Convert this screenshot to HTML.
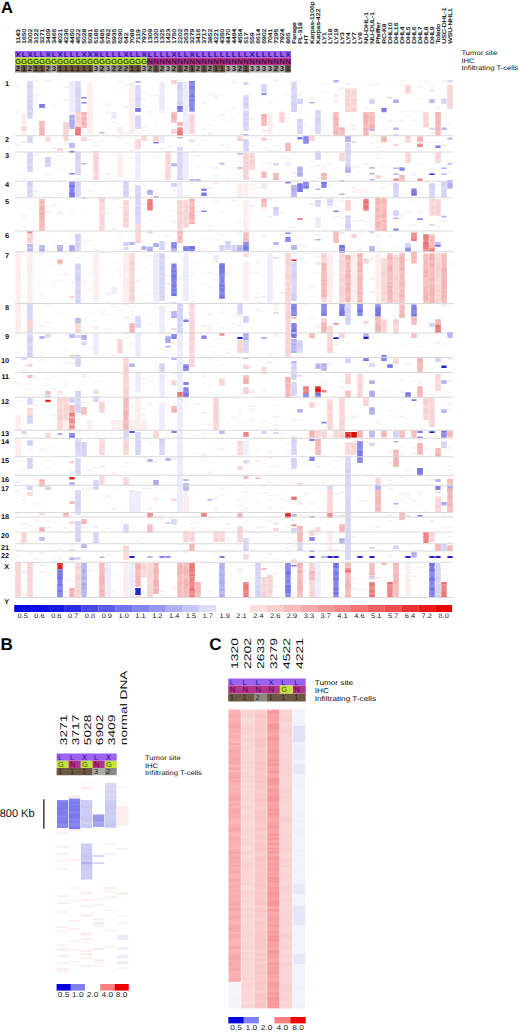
<!DOCTYPE html>
<html><head><meta charset="utf-8"><title>Figure</title>
<style>html,body{margin:0;padding:0;background:#fff;}body{width:520px;height:1032px;position:relative;overflow:hidden;font-family:"Liberation Sans",sans-serif;}</style>
</head><body>
<svg width="520" height="1032" viewBox="0 0 520 1032" style="position:absolute;left:0;top:0" font-family="'Liberation Sans', sans-serif" text-rendering="geometricPrecision">
<defs><filter id="bl" x="-2%" y="-2%" width="104%" height="104%"><feGaussianBlur stdDeviation="0.6"/></filter></defs>
<rect x="0" y="0" width="520" height="1032" fill="#fff"/>
<text x="1.0" y="12.9" font-size="16.5" font-weight="bold">A</text>
<text x="0.6" y="649.6" font-size="17" font-weight="bold">B</text>
<text x="209.2" y="649.5" font-size="17" font-weight="bold">C</text>
<g font-size="5.5" fill="#111" stroke="#111" stroke-width="0.18">
<text transform="translate(19.5,43.8) rotate(-90) scale(1.24,1)">1143</text>
<text transform="translate(25.5,43.8) rotate(-90) scale(1.24,1)">1650</text>
<text transform="translate(31.5,43.8) rotate(-90) scale(1.24,1)">3002</text>
<text transform="translate(37.5,43.8) rotate(-90) scale(1.24,1)">3122</text>
<text transform="translate(43.5,43.8) rotate(-90) scale(1.24,1)">3271</text>
<text transform="translate(49.5,43.8) rotate(-90) scale(1.24,1)">3409</text>
<text transform="translate(55.5,43.8) rotate(-90) scale(1.24,1)">3466</text>
<text transform="translate(61.5,43.8) rotate(-90) scale(1.24,1)">4021</text>
<text transform="translate(67.5,43.8) rotate(-90) scale(1.24,1)">4236</text>
<text transform="translate(73.5,43.8) rotate(-90) scale(1.24,1)">4450</text>
<text transform="translate(79.5,43.8) rotate(-90) scale(1.24,1)">4522</text>
<text transform="translate(85.5,43.8) rotate(-90) scale(1.24,1)">5028</text>
<text transform="translate(91.5,43.8) rotate(-90) scale(1.24,1)">5081</text>
<text transform="translate(97.5,43.8) rotate(-90) scale(1.24,1)">5186</text>
<text transform="translate(103.5,43.8) rotate(-90) scale(1.24,1)">5485</text>
<text transform="translate(109.5,43.8) rotate(-90) scale(1.24,1)">5782</text>
<text transform="translate(115.5,43.8) rotate(-90) scale(1.24,1)">5935</text>
<text transform="translate(121.5,43.8) rotate(-90) scale(1.24,1)">6290</text>
<text transform="translate(127.5,43.8) rotate(-90) scale(1.24,1)">642</text>
<text transform="translate(133.5,43.8) rotate(-90) scale(1.24,1)">7089</text>
<text transform="translate(139.5,43.8) rotate(-90) scale(1.24,1)">7119</text>
<text transform="translate(145.5,43.8) rotate(-90) scale(1.24,1)">7970</text>
<text transform="translate(151.5,43.8) rotate(-90) scale(1.24,1)">1309</text>
<text transform="translate(157.5,43.8) rotate(-90) scale(1.24,1)">1320</text>
<text transform="translate(163.5,43.8) rotate(-90) scale(1.24,1)">1325</text>
<text transform="translate(169.5,43.8) rotate(-90) scale(1.24,1)">1423</text>
<text transform="translate(175.5,43.8) rotate(-90) scale(1.24,1)">1750</text>
<text transform="translate(181.5,43.8) rotate(-90) scale(1.24,1)">2202</text>
<text transform="translate(187.5,43.8) rotate(-90) scale(1.24,1)">2633</text>
<text transform="translate(193.5,43.8) rotate(-90) scale(1.24,1)">3279</text>
<text transform="translate(199.5,43.8) rotate(-90) scale(1.24,1)">3416</text>
<text transform="translate(205.5,43.8) rotate(-90) scale(1.24,1)">3717</text>
<text transform="translate(211.5,43.8) rotate(-90) scale(1.24,1)">3852</text>
<text transform="translate(217.5,43.8) rotate(-90) scale(1.24,1)">4221</text>
<text transform="translate(223.5,43.8) rotate(-90) scale(1.24,1)">4350</text>
<text transform="translate(229.5,43.8) rotate(-90) scale(1.24,1)">4470</text>
<text transform="translate(235.5,43.8) rotate(-90) scale(1.24,1)">4494</text>
<text transform="translate(241.5,43.8) rotate(-90) scale(1.24,1)">4554</text>
<text transform="translate(247.5,43.8) rotate(-90) scale(1.24,1)">517</text>
<text transform="translate(253.5,43.8) rotate(-90) scale(1.24,1)">559</text>
<text transform="translate(259.5,43.8) rotate(-90) scale(1.24,1)">6614</text>
<text transform="translate(265.5,43.8) rotate(-90) scale(1.24,1)">6902</text>
<text transform="translate(271.5,43.8) rotate(-90) scale(1.24,1)">7041</text>
<text transform="translate(277.5,43.8) rotate(-90) scale(1.24,1)">7295</text>
<text transform="translate(283.5,43.8) rotate(-90) scale(1.24,1)">7924</text>
<text transform="translate(289.5,43.8) rotate(-90) scale(1.24,1)">865</text>
<text transform="translate(295.5,43.8) rotate(-90) scale(1.24,1)">Farage</text>
<text transform="translate(301.5,43.8) rotate(-90) scale(1.24,1)">FL-318</text>
<text transform="translate(307.5,43.8) rotate(-90) scale(1.24,1)">HT</text>
<text transform="translate(313.5,43.8) rotate(-90) scale(1.24,1)">Karpas-1106p</text>
<text transform="translate(319.5,43.8) rotate(-90) scale(1.24,1)">Karpas-422</text>
<text transform="translate(325.5,43.8) rotate(-90) scale(1.24,1)">LY1</text>
<text transform="translate(331.5,43.8) rotate(-90) scale(1.24,1)">LY18</text>
<text transform="translate(337.5,43.8) rotate(-90) scale(1.24,1)">LY19</text>
<text transform="translate(343.5,43.8) rotate(-90) scale(1.24,1)">LY3</text>
<text transform="translate(349.5,43.8) rotate(-90) scale(1.24,1)">LY4</text>
<text transform="translate(355.5,43.8) rotate(-90) scale(1.24,1)">LY7</text>
<text transform="translate(361.5,43.8) rotate(-90) scale(1.24,1)">LY8</text>
<text transform="translate(367.5,43.8) rotate(-90) scale(1.24,1)">NU-DHL-1</text>
<text transform="translate(373.5,43.8) rotate(-90) scale(1.24,1)">NU-DUL-1</text>
<text transform="translate(379.5,43.8) rotate(-90) scale(1.24,1)">Pfeiffer</text>
<text transform="translate(385.5,43.8) rotate(-90) scale(1.24,1)">RC-K8</text>
<text transform="translate(391.5,43.8) rotate(-90) scale(1.24,1)">DHL10</text>
<text transform="translate(397.5,43.8) rotate(-90) scale(1.24,1)">DHL16</text>
<text transform="translate(403.5,43.8) rotate(-90) scale(1.24,1)">DHL4</text>
<text transform="translate(409.5,43.8) rotate(-90) scale(1.24,1)">DHL5</text>
<text transform="translate(415.5,43.8) rotate(-90) scale(1.24,1)">DHL6</text>
<text transform="translate(421.5,43.8) rotate(-90) scale(1.24,1)">DHL7</text>
<text transform="translate(427.5,43.8) rotate(-90) scale(1.24,1)">DHL8</text>
<text transform="translate(433.5,43.8) rotate(-90) scale(1.24,1)">DHL9</text>
<text transform="translate(439.5,43.8) rotate(-90) scale(1.24,1)">Toledo</text>
<text transform="translate(445.5,43.8) rotate(-90) scale(1.24,1)">USC-DHL-1</text>
<text transform="translate(451.5,43.8) rotate(-90) scale(1.24,1)">WSU-NHL1</text>
</g>
<path fill="#9d62f2" d="M15 51h6v6.6h-6zM21 51h6v6.6h-6zM27 51h6v6.6h-6zM33 51h6v6.6h-6zM39 51h6v6.6h-6zM45 51h6v6.6h-6zM51 51h6v6.6h-6zM57 51h6v6.6h-6zM63 51h6v6.6h-6zM69 51h6v6.6h-6zM75 51h6v6.6h-6zM81 51h6v6.6h-6zM87 51h6v6.6h-6zM93 51h6v6.6h-6zM99 51h6v6.6h-6zM105 51h6v6.6h-6zM111 51h6v6.6h-6zM117 51h6v6.6h-6zM123 51h6v6.6h-6zM129 51h6v6.6h-6zM135 51h6v6.6h-6zM141 51h6v6.6h-6zM147 51h6v6.6h-6zM153 51h6v6.6h-6zM159 51h6v6.6h-6zM165 51h6v6.6h-6zM171 51h6v6.6h-6zM177 51h6v6.6h-6zM183 51h6v6.6h-6zM189 51h6v6.6h-6zM195 51h6v6.6h-6zM201 51h6v6.6h-6zM207 51h6v6.6h-6zM213 51h6v6.6h-6zM219 51h6v6.6h-6zM225 51h6v6.6h-6zM231 51h6v6.6h-6zM237 51h6v6.6h-6zM243 51h6v6.6h-6zM249 51h6v6.6h-6zM255 51h6v6.6h-6zM261 51h6v6.6h-6zM267 51h6v6.6h-6zM273 51h6v6.6h-6zM279 51h6v6.6h-6zM285 51h6v6.6h-6z"/>
<path fill="#c6e33a" d="M15 57.6h6v7.4h-6zM21 57.6h6v7.4h-6zM27 57.6h6v7.4h-6zM33 57.6h6v7.4h-6zM39 57.6h6v7.4h-6zM45 57.6h6v7.4h-6zM51 57.6h6v7.4h-6zM57 57.6h6v7.4h-6zM63 57.6h6v7.4h-6zM69 57.6h6v7.4h-6zM75 57.6h6v7.4h-6zM81 57.6h6v7.4h-6zM87 57.6h6v7.4h-6zM93 57.6h6v7.4h-6zM99 57.6h6v7.4h-6zM105 57.6h6v7.4h-6zM111 57.6h6v7.4h-6zM117 57.6h6v7.4h-6zM123 57.6h6v7.4h-6zM129 57.6h6v7.4h-6zM135 57.6h6v7.4h-6zM141 57.6h6v7.4h-6z"/>
<path fill="#8c8882" d="M15 65h6v7.5h-6zM27 65h6v7.5h-6zM45 65h6v7.5h-6zM99 65h6v7.5h-6zM111 65h6v7.5h-6zM117 65h6v7.5h-6zM123 65h6v7.5h-6zM147 65h6v7.5h-6zM159 65h6v7.5h-6zM171 65h6v7.5h-6zM183 65h6v7.5h-6zM195 65h6v7.5h-6zM207 65h6v7.5h-6zM237 65h6v7.5h-6zM273 65h6v7.5h-6z"/>
<path fill="#6c5644" d="M21 65h6v7.5h-6zM33 65h6v7.5h-6zM39 65h6v7.5h-6zM57 65h6v7.5h-6zM63 65h6v7.5h-6zM69 65h6v7.5h-6zM75 65h6v7.5h-6zM81 65h6v7.5h-6zM87 65h6v7.5h-6zM129 65h6v7.5h-6zM135 65h6v7.5h-6zM153 65h6v7.5h-6zM177 65h6v7.5h-6zM189 65h6v7.5h-6zM201 65h6v7.5h-6zM213 65h6v7.5h-6zM219 65h6v7.5h-6zM243 65h6v7.5h-6zM285 65h6v7.5h-6z"/>
<path fill="#a9a9a9" d="M51 65h6v7.5h-6zM93 65h6v7.5h-6zM105 65h6v7.5h-6zM141 65h6v7.5h-6zM165 65h6v7.5h-6zM225 65h6v7.5h-6zM231 65h6v7.5h-6zM249 65h6v7.5h-6zM255 65h6v7.5h-6zM261 65h6v7.5h-6zM267 65h6v7.5h-6zM279 65h6v7.5h-6z"/>
<path fill="#b4338f" d="M147 57.6h6v7.4h-6zM153 57.6h6v7.4h-6zM159 57.6h6v7.4h-6zM165 57.6h6v7.4h-6zM171 57.6h6v7.4h-6zM177 57.6h6v7.4h-6zM183 57.6h6v7.4h-6zM189 57.6h6v7.4h-6zM195 57.6h6v7.4h-6zM201 57.6h6v7.4h-6zM207 57.6h6v7.4h-6zM213 57.6h6v7.4h-6zM219 57.6h6v7.4h-6zM225 57.6h6v7.4h-6zM231 57.6h6v7.4h-6zM237 57.6h6v7.4h-6zM243 57.6h6v7.4h-6zM249 57.6h6v7.4h-6zM255 57.6h6v7.4h-6zM261 57.6h6v7.4h-6zM267 57.6h6v7.4h-6zM273 57.6h6v7.4h-6zM279 57.6h6v7.4h-6zM285 57.6h6v7.4h-6z"/>
<g font-size="7.4" text-anchor="middle" font-weight="bold">
<text transform="translate(18.0,56.5) scale(1.05,1)" fill="#2a1590">X</text>
<text transform="translate(18.0,63.8) scale(1.05,1)" fill="#2f5a0c">G</text>
<text transform="translate(18.0,71.3) scale(1.05,1)" fill="#2a2018">2</text>
<text transform="translate(24.0,56.5) scale(1.05,1)" fill="#2a1590">L</text>
<text transform="translate(24.0,63.8) scale(1.05,1)" fill="#2f5a0c">G</text>
<text transform="translate(24.0,71.3) scale(1.05,1)" fill="#2a2018">1</text>
<text transform="translate(30.0,56.5) scale(1.05,1)" fill="#2a1590">X</text>
<text transform="translate(30.0,63.8) scale(1.05,1)" fill="#2f5a0c">G</text>
<text transform="translate(30.0,71.3) scale(1.05,1)" fill="#2a2018">2</text>
<text transform="translate(36.0,56.5) scale(1.05,1)" fill="#2a1590">L</text>
<text transform="translate(36.0,63.8) scale(1.05,1)" fill="#2f5a0c">G</text>
<text transform="translate(36.0,71.3) scale(1.05,1)" fill="#2a2018">1</text>
<text transform="translate(42.0,56.5) scale(1.05,1)" fill="#2a1590">L</text>
<text transform="translate(42.0,63.8) scale(1.05,1)" fill="#2f5a0c">G</text>
<text transform="translate(42.0,71.3) scale(1.05,1)" fill="#2a2018">1</text>
<text transform="translate(48.0,56.5) scale(1.05,1)" fill="#2a1590">X</text>
<text transform="translate(48.0,63.8) scale(1.05,1)" fill="#2f5a0c">G</text>
<text transform="translate(48.0,71.3) scale(1.05,1)" fill="#2a2018">2</text>
<text transform="translate(54.0,56.5) scale(1.05,1)" fill="#2a1590">L</text>
<text transform="translate(54.0,63.8) scale(1.05,1)" fill="#2f5a0c">G</text>
<text transform="translate(54.0,71.3) scale(1.05,1)" fill="#2a2018">3</text>
<text transform="translate(60.0,56.5) scale(1.05,1)" fill="#2a1590">X</text>
<text transform="translate(60.0,63.8) scale(1.05,1)" fill="#2f5a0c">G</text>
<text transform="translate(60.0,71.3) scale(1.05,1)" fill="#2a2018">1</text>
<text transform="translate(66.0,56.5) scale(1.05,1)" fill="#2a1590">L</text>
<text transform="translate(66.0,63.8) scale(1.05,1)" fill="#2f5a0c">G</text>
<text transform="translate(66.0,71.3) scale(1.05,1)" fill="#2a2018">1</text>
<text transform="translate(72.0,56.5) scale(1.05,1)" fill="#2a1590">L</text>
<text transform="translate(72.0,63.8) scale(1.05,1)" fill="#2f5a0c">G</text>
<text transform="translate(72.0,71.3) scale(1.05,1)" fill="#2a2018">1</text>
<text transform="translate(78.0,56.5) scale(1.05,1)" fill="#2a1590">L</text>
<text transform="translate(78.0,63.8) scale(1.05,1)" fill="#2f5a0c">G</text>
<text transform="translate(78.0,71.3) scale(1.05,1)" fill="#2a2018">1</text>
<text transform="translate(84.0,56.5) scale(1.05,1)" fill="#2a1590">X</text>
<text transform="translate(84.0,63.8) scale(1.05,1)" fill="#2f5a0c">G</text>
<text transform="translate(84.0,71.3) scale(1.05,1)" fill="#2a2018">1</text>
<text transform="translate(90.0,56.5) scale(1.05,1)" fill="#2a1590">X</text>
<text transform="translate(90.0,63.8) scale(1.05,1)" fill="#2f5a0c">G</text>
<text transform="translate(90.0,71.3) scale(1.05,1)" fill="#2a2018">1</text>
<text transform="translate(96.0,56.5) scale(1.05,1)" fill="#2a1590">X</text>
<text transform="translate(96.0,63.8) scale(1.05,1)" fill="#2f5a0c">G</text>
<text transform="translate(96.0,71.3) scale(1.05,1)" fill="#2a2018">3</text>
<text transform="translate(102.0,56.5) scale(1.05,1)" fill="#2a1590">L</text>
<text transform="translate(102.0,63.8) scale(1.05,1)" fill="#2f5a0c">G</text>
<text transform="translate(102.0,71.3) scale(1.05,1)" fill="#2a2018">2</text>
<text transform="translate(108.0,56.5) scale(1.05,1)" fill="#2a1590">L</text>
<text transform="translate(108.0,63.8) scale(1.05,1)" fill="#2f5a0c">G</text>
<text transform="translate(108.0,71.3) scale(1.05,1)" fill="#2a2018">3</text>
<text transform="translate(114.0,56.5) scale(1.05,1)" fill="#2a1590">L</text>
<text transform="translate(114.0,63.8) scale(1.05,1)" fill="#2f5a0c">G</text>
<text transform="translate(114.0,71.3) scale(1.05,1)" fill="#2a2018">2</text>
<text transform="translate(120.0,56.5) scale(1.05,1)" fill="#2a1590">L</text>
<text transform="translate(120.0,63.8) scale(1.05,1)" fill="#2f5a0c">G</text>
<text transform="translate(120.0,71.3) scale(1.05,1)" fill="#2a2018">2</text>
<text transform="translate(126.0,56.5) scale(1.05,1)" fill="#2a1590">X</text>
<text transform="translate(126.0,63.8) scale(1.05,1)" fill="#2f5a0c">G</text>
<text transform="translate(126.0,71.3) scale(1.05,1)" fill="#2a2018">2</text>
<text transform="translate(132.0,56.5) scale(1.05,1)" fill="#2a1590">L</text>
<text transform="translate(132.0,63.8) scale(1.05,1)" fill="#2f5a0c">G</text>
<text transform="translate(132.0,71.3) scale(1.05,1)" fill="#2a2018">1</text>
<text transform="translate(138.0,56.5) scale(1.05,1)" fill="#2a1590">L</text>
<text transform="translate(138.0,63.8) scale(1.05,1)" fill="#2f5a0c">G</text>
<text transform="translate(138.0,71.3) scale(1.05,1)" fill="#2a2018">1</text>
<text transform="translate(144.0,56.5) scale(1.05,1)" fill="#2a1590">X</text>
<text transform="translate(144.0,63.8) scale(1.05,1)" fill="#2f5a0c">G</text>
<text transform="translate(144.0,71.3) scale(1.05,1)" fill="#2a2018">3</text>
<text transform="translate(150.0,56.5) scale(1.05,1)" fill="#2a1590">L</text>
<text transform="translate(150.0,63.8) scale(1.05,1)" fill="#4a0838">N</text>
<text transform="translate(150.0,71.3) scale(1.05,1)" fill="#2a2018">2</text>
<text transform="translate(156.0,56.5) scale(1.05,1)" fill="#2a1590">L</text>
<text transform="translate(156.0,63.8) scale(1.05,1)" fill="#4a0838">N</text>
<text transform="translate(156.0,71.3) scale(1.05,1)" fill="#2a2018">1</text>
<text transform="translate(162.0,56.5) scale(1.05,1)" fill="#2a1590">L</text>
<text transform="translate(162.0,63.8) scale(1.05,1)" fill="#4a0838">N</text>
<text transform="translate(162.0,71.3) scale(1.05,1)" fill="#2a2018">2</text>
<text transform="translate(168.0,56.5) scale(1.05,1)" fill="#2a1590">L</text>
<text transform="translate(168.0,63.8) scale(1.05,1)" fill="#4a0838">N</text>
<text transform="translate(168.0,71.3) scale(1.05,1)" fill="#2a2018">3</text>
<text transform="translate(174.0,56.5) scale(1.05,1)" fill="#2a1590">X</text>
<text transform="translate(174.0,63.8) scale(1.05,1)" fill="#4a0838">N</text>
<text transform="translate(174.0,71.3) scale(1.05,1)" fill="#2a2018">2</text>
<text transform="translate(180.0,56.5) scale(1.05,1)" fill="#2a1590">L</text>
<text transform="translate(180.0,63.8) scale(1.05,1)" fill="#4a0838">N</text>
<text transform="translate(180.0,71.3) scale(1.05,1)" fill="#2a2018">1</text>
<text transform="translate(186.0,56.5) scale(1.05,1)" fill="#2a1590">L</text>
<text transform="translate(186.0,63.8) scale(1.05,1)" fill="#4a0838">N</text>
<text transform="translate(186.0,71.3) scale(1.05,1)" fill="#2a2018">2</text>
<text transform="translate(192.0,56.5) scale(1.05,1)" fill="#2a1590">X</text>
<text transform="translate(192.0,63.8) scale(1.05,1)" fill="#4a0838">N</text>
<text transform="translate(192.0,71.3) scale(1.05,1)" fill="#2a2018">1</text>
<text transform="translate(198.0,56.5) scale(1.05,1)" fill="#2a1590">L</text>
<text transform="translate(198.0,63.8) scale(1.05,1)" fill="#4a0838">N</text>
<text transform="translate(198.0,71.3) scale(1.05,1)" fill="#2a2018">2</text>
<text transform="translate(204.0,56.5) scale(1.05,1)" fill="#2a1590">L</text>
<text transform="translate(204.0,63.8) scale(1.05,1)" fill="#4a0838">N</text>
<text transform="translate(204.0,71.3) scale(1.05,1)" fill="#2a2018">1</text>
<text transform="translate(210.0,56.5) scale(1.05,1)" fill="#2a1590">L</text>
<text transform="translate(210.0,63.8) scale(1.05,1)" fill="#4a0838">N</text>
<text transform="translate(210.0,71.3) scale(1.05,1)" fill="#2a2018">2</text>
<text transform="translate(216.0,56.5) scale(1.05,1)" fill="#2a1590">L</text>
<text transform="translate(216.0,63.8) scale(1.05,1)" fill="#4a0838">N</text>
<text transform="translate(216.0,71.3) scale(1.05,1)" fill="#2a2018">1</text>
<text transform="translate(222.0,56.5) scale(1.05,1)" fill="#2a1590">L</text>
<text transform="translate(222.0,63.8) scale(1.05,1)" fill="#4a0838">N</text>
<text transform="translate(222.0,71.3) scale(1.05,1)" fill="#2a2018">1</text>
<text transform="translate(228.0,56.5) scale(1.05,1)" fill="#2a1590">L</text>
<text transform="translate(228.0,63.8) scale(1.05,1)" fill="#4a0838">N</text>
<text transform="translate(228.0,71.3) scale(1.05,1)" fill="#2a2018">3</text>
<text transform="translate(234.0,56.5) scale(1.05,1)" fill="#2a1590">L</text>
<text transform="translate(234.0,63.8) scale(1.05,1)" fill="#4a0838">N</text>
<text transform="translate(234.0,71.3) scale(1.05,1)" fill="#2a2018">3</text>
<text transform="translate(240.0,56.5) scale(1.05,1)" fill="#2a1590">L</text>
<text transform="translate(240.0,63.8) scale(1.05,1)" fill="#4a0838">N</text>
<text transform="translate(240.0,71.3) scale(1.05,1)" fill="#2a2018">2</text>
<text transform="translate(246.0,56.5) scale(1.05,1)" fill="#2a1590">L</text>
<text transform="translate(246.0,63.8) scale(1.05,1)" fill="#4a0838">N</text>
<text transform="translate(246.0,71.3) scale(1.05,1)" fill="#2a2018">1</text>
<text transform="translate(252.0,56.5) scale(1.05,1)" fill="#2a1590">X</text>
<text transform="translate(252.0,63.8) scale(1.05,1)" fill="#4a0838">N</text>
<text transform="translate(252.0,71.3) scale(1.05,1)" fill="#2a2018">3</text>
<text transform="translate(258.0,56.5) scale(1.05,1)" fill="#2a1590">L</text>
<text transform="translate(258.0,63.8) scale(1.05,1)" fill="#4a0838">N</text>
<text transform="translate(258.0,71.3) scale(1.05,1)" fill="#2a2018">3</text>
<text transform="translate(264.0,56.5) scale(1.05,1)" fill="#2a1590">L</text>
<text transform="translate(264.0,63.8) scale(1.05,1)" fill="#4a0838">N</text>
<text transform="translate(264.0,71.3) scale(1.05,1)" fill="#2a2018">3</text>
<text transform="translate(270.0,56.5) scale(1.05,1)" fill="#2a1590">L</text>
<text transform="translate(270.0,63.8) scale(1.05,1)" fill="#4a0838">N</text>
<text transform="translate(270.0,71.3) scale(1.05,1)" fill="#2a2018">3</text>
<text transform="translate(276.0,56.5) scale(1.05,1)" fill="#2a1590">L</text>
<text transform="translate(276.0,63.8) scale(1.05,1)" fill="#4a0838">N</text>
<text transform="translate(276.0,71.3) scale(1.05,1)" fill="#2a2018">2</text>
<text transform="translate(282.0,56.5) scale(1.05,1)" fill="#2a1590">L</text>
<text transform="translate(282.0,63.8) scale(1.05,1)" fill="#4a0838">N</text>
<text transform="translate(282.0,71.3) scale(1.05,1)" fill="#2a2018">3</text>
<text transform="translate(288.0,56.5) scale(1.05,1)" fill="#2a1590">X</text>
<text transform="translate(288.0,63.8) scale(1.05,1)" fill="#4a0838">N</text>
<text transform="translate(288.0,71.3) scale(1.05,1)" fill="#2a2018">1</text>
</g>
<g font-size="6.5" fill="#111">
<text transform="translate(461.5,55.3) scale(1.170,1)">Tumor site</text>
<text transform="translate(461.5,62.7) scale(1.170,1)">IHC</text>
<text transform="translate(461.5,70.1) scale(1.170,1)">Infiltrating T-cells</text>
</g>
<g filter="url(#bl)">
<path fill="#feefef" d="M15.4 86h5.2v1h-5.2zM15.4 437h5.2v1h-5.2zM15.4 541.5h5.2v1h-5.2zM21.4 114h5.2v1.5h-5.2zM21.4 153h5.2v1h-5.2zM21.4 215h5.2v1.5h-5.2zM27.4 94.5h5.2v1h-5.2zM27.4 331h5.2v1h-5.2zM33.4 100.5h5.2v1.5h-5.2zM33.4 504h5.2v1.5h-5.2zM33.4 577h5.2v1h-5.2zM39.4 332.5h5.2v1h-5.2zM39.4 448.5h5.2v2h-5.2zM39.4 571h5.2v2h-5.2zM45.4 264h5.2v1h-5.2zM45.4 335h5.2v1.5h-5.2zM45.4 384h5.2v1h-5.2zM51.4 151h5.2v1h-5.2zM51.4 532h5.2v1h-5.2zM57.4 338.5h5.2v1h-5.2zM57.4 547.5h5.2v1.5h-5.2zM57.4 568.5h5.2v1h-5.2zM63.4 86h5.2v2h-5.2zM63.4 424h5.2v2h-5.2zM69.4 237h5.2v1.5h-5.2zM69.4 372h5.2v1.5h-5.2zM69.4 544.5h5.2v1.5h-5.2zM69.4 579.5h5.2v2h-5.2zM75.4 289h5.2v1.5h-5.2zM75.4 372.5h5.2v2h-5.2zM75.4 414h5.2v1.5h-5.2zM75.4 430h5.2v2h-5.2zM81.4 116.5h5.2v1.5h-5.2zM81.4 279.5h5.2v2h-5.2zM81.4 283.5h5.2v1h-5.2zM81.4 318.5h5.2v1h-5.2zM81.4 491h5.2v1h-5.2zM93.4 467h5.2v2h-5.2zM93.4 526h5.2v2h-5.2zM99.4 268h5.2v1h-5.2zM105.4 111.5h5.2v2h-5.2zM105.4 188.5h5.2v1.5h-5.2zM105.4 314.5h5.2v1h-5.2zM105.4 328.5h5.2v1.5h-5.2zM105.4 553.5h5.2v2h-5.2zM111.4 116.5h5.2v1h-5.2zM111.4 121h5.2v2h-5.2zM111.4 591h5.2v1.5h-5.2zM117.4 137h5.2v1.5h-5.2zM117.4 206.5h5.2v1.5h-5.2zM117.4 269.5h5.2v1h-5.2zM123.4 201.5h5.2v2h-5.2zM123.4 292.5h5.2v1.5h-5.2zM123.4 304h5.2v2h-5.2zM123.4 587h5.2v1h-5.2zM129.4 149.5h5.2v1.5h-5.2zM129.4 190h5.2v1h-5.2zM129.4 258h5.2v2h-5.2zM129.4 405.5h5.2v2h-5.2zM129.4 419h5.2v1h-5.2zM135.4 132.5h5.2v1h-5.2zM141.4 155h5.2v1h-5.2zM141.4 203.5h5.2v1h-5.2zM141.4 413.5h5.2v2h-5.2zM141.4 596.5h5.2v1.5h-5.2zM147.4 201.5h5.2v1.5h-5.2zM153.4 193.5h5.2v2h-5.2zM153.4 348.5h5.2v1.5h-5.2zM153.4 501h5.2v1.5h-5.2zM159.4 105.5h5.2v2h-5.2zM159.4 147h5.2v2h-5.2zM159.4 518h5.2v2h-5.2zM165.4 235.5h5.2v1.5h-5.2zM165.4 242.5h5.2v1.5h-5.2zM165.4 275h5.2v1.5h-5.2zM165.4 302h5.2v1.5h-5.2zM165.4 537.5h5.2v1h-5.2zM171.4 313h5.2v1h-5.2zM171.4 373h5.2v1.5h-5.2zM171.4 588h5.2v1.5h-5.2zM177.4 132h5.2v2h-5.2zM177.4 143.5h5.2v1.5h-5.2zM177.4 200.5h5.2v2h-5.2zM177.4 277.5h5.2v2h-5.2zM177.4 543h5.2v1.5h-5.2zM183.4 127.5h5.2v2h-5.2zM183.4 383h5.2v2h-5.2zM183.4 564h5.2v1.5h-5.2zM189.4 218h5.2v2h-5.2zM189.4 296.5h5.2v1h-5.2zM195.4 165h5.2v1.5h-5.2zM195.4 205.5h5.2v1h-5.2zM195.4 583h5.2v1.5h-5.2zM201.4 207.5h5.2v1.5h-5.2zM201.4 272.5h5.2v1h-5.2zM201.4 375.5h5.2v1.5h-5.2zM201.4 528h5.2v1h-5.2zM207.4 124h5.2v1.5h-5.2zM207.4 192.5h5.2v2h-5.2zM207.4 287h5.2v1h-5.2zM207.4 423.5h5.2v2h-5.2zM207.4 471.5h5.2v2h-5.2zM213.4 167h5.2v2h-5.2zM213.4 274.5h5.2v1h-5.2zM213.4 279.5h5.2v1h-5.2zM213.4 433.5h5.2v1h-5.2zM213.4 508h5.2v2h-5.2zM219.4 144h5.2v1h-5.2zM219.4 271.5h5.2v2h-5.2zM219.4 448.5h5.2v2h-5.2zM225.4 109h5.2v1.5h-5.2zM225.4 146h5.2v2h-5.2zM225.4 538h5.2v1.5h-5.2zM231.4 200h5.2v2h-5.2zM237.4 133.5h5.2v1h-5.2zM237.4 315.5h5.2v1.5h-5.2zM237.4 499h5.2v1.5h-5.2zM237.4 541h5.2v1.5h-5.2zM243.4 276.5h5.2v1.5h-5.2zM243.4 365.5h5.2v1h-5.2zM243.4 491h5.2v2h-5.2zM243.4 507.5h5.2v2h-5.2zM249.4 188.5h5.2v1h-5.2zM249.4 408.5h5.2v1h-5.2zM249.4 409.5h5.2v1.5h-5.2zM255.4 271.5h5.2v1.5h-5.2zM255.4 526.5h5.2v2h-5.2zM261.4 147h5.2v1.5h-5.2zM267.4 423h5.2v1h-5.2zM267.4 520.5h5.2v1.5h-5.2zM273.4 150h5.2v1.5h-5.2zM273.4 424.5h5.2v1.5h-5.2zM273.4 465.5h5.2v2h-5.2zM273.4 585h5.2v1h-5.2zM279.4 212.5h5.2v1.5h-5.2zM279.4 335.5h5.2v1h-5.2zM279.4 507.5h5.2v1.5h-5.2zM285.4 113h5.2v1h-5.2zM285.4 195.5h5.2v1h-5.2zM291.4 309h5.2v2h-5.2zM291.4 349.5h5.2v1h-5.2zM297.4 91.5h5.2v1h-5.2zM297.4 266.5h5.2v1h-5.2zM297.4 343.5h5.2v1.5h-5.2zM297.4 435.5h5.2v1h-5.2zM303.4 493.5h5.2v2h-5.2zM303.4 580h5.2v1h-5.2zM309.4 130h5.2v1.5h-5.2zM309.4 502h5.2v1.5h-5.2zM309.4 566.5h5.2v1h-5.2zM315.4 404.5h5.2v2h-5.2zM315.4 584h5.2v2h-5.2zM321.4 381.5h5.2v1.5h-5.2zM321.4 482.5h5.2v1.5h-5.2zM327.4 112h5.2v1h-5.2zM327.4 344h5.2v2h-5.2zM327.4 363.5h5.2v2h-5.2zM327.4 435.5h5.2v1h-5.2zM327.4 573.5h5.2v2h-5.2zM333.4 215.5h5.2v2h-5.2zM333.4 344h5.2v2h-5.2zM333.4 493h5.2v1.5h-5.2zM339.4 200.5h5.2v2h-5.2zM345.4 158.5h5.2v1h-5.2zM345.4 384.5h5.2v1.5h-5.2zM345.4 461h5.2v2h-5.2zM345.4 561h5.2v1.5h-5.2zM351.4 136.5h5.2v1.5h-5.2zM351.4 191h5.2v1.5h-5.2zM351.4 220.5h5.2v1.5h-5.2zM351.4 298.5h5.2v2h-5.2zM351.4 536h5.2v1.5h-5.2zM351.4 581.5h5.2v1h-5.2zM357.4 150.5h5.2v1h-5.2zM357.4 166.5h5.2v1h-5.2zM357.4 356.5h5.2v1h-5.2zM363.4 320.5h5.2v1h-5.2zM363.4 500h5.2v2h-5.2zM369.4 218h5.2v2h-5.2zM369.4 291.5h5.2v2h-5.2zM369.4 592.5h5.2v1.5h-5.2zM375.4 241.5h5.2v1.5h-5.2zM375.4 286h5.2v1h-5.2zM387.4 236h5.2v1h-5.2zM387.4 410h5.2v1h-5.2zM387.4 479.5h5.2v1.5h-5.2zM393.4 210.5h5.2v1.5h-5.2zM393.4 501.5h5.2v1h-5.2zM393.4 596h5.2v1h-5.2zM405.4 138h5.2v1.5h-5.2zM405.4 493h5.2v2h-5.2zM405.4 497h5.2v1.5h-5.2zM405.4 570h5.2v1.5h-5.2zM411.4 310h5.2v1.5h-5.2zM411.4 453h5.2v2h-5.2zM411.4 575h5.2v2h-5.2zM417.4 549h5.2v1h-5.2zM417.4 595.5h5.2v2h-5.2zM423.4 181.5h5.2v1.5h-5.2zM423.4 236h5.2v1h-5.2zM423.4 246.5h5.2v1.5h-5.2zM423.4 259h5.2v1h-5.2zM429.4 128h5.2v1.5h-5.2zM429.4 230h5.2v1.5h-5.2zM429.4 583h5.2v1.5h-5.2zM435.4 107.5h5.2v2h-5.2zM435.4 130h5.2v1.5h-5.2zM435.4 144.5h5.2v2h-5.2zM435.4 221.5h5.2v1h-5.2zM435.4 480h5.2v2h-5.2zM441.4 144h5.2v1h-5.2zM441.4 381.5h5.2v1h-5.2zM441.4 568h5.2v1.5h-5.2zM447.4 83.5h5.2v1.5h-5.2zM447.4 380h5.2v2h-5.2z"/>
<path fill="#f8f8fe" d="M15.4 87h5.2v1.5h-5.2zM15.4 382h5.2v1h-5.2zM21.4 219h5.2v1.5h-5.2zM33.4 436.5h5.2v2h-5.2zM39.4 368.5h5.2v2h-5.2zM39.4 511.5h5.2v1.5h-5.2zM51.4 104.5h5.2v1.5h-5.2zM51.4 418h5.2v2h-5.2zM57.4 155h5.2v2h-5.2zM57.4 435h5.2v1.5h-5.2zM57.4 452h5.2v1.5h-5.2zM63.4 241.5h5.2v2h-5.2zM63.4 333.5h5.2v2h-5.2zM63.4 362h5.2v1.5h-5.2zM63.4 381.5h5.2v2h-5.2zM69.4 122.5h5.2v1.5h-5.2zM69.4 362h5.2v2h-5.2zM69.4 518.5h5.2v1h-5.2zM75.4 98.5h5.2v1.5h-5.2zM75.4 470h5.2v2h-5.2zM81.4 560h5.2v1.5h-5.2zM87.4 104.5h5.2v2h-5.2zM87.4 510h5.2v1h-5.2zM87.4 515.5h5.2v2h-5.2zM87.4 574h5.2v2h-5.2zM93.4 534.5h5.2v2h-5.2zM105.4 207h5.2v1.5h-5.2zM105.4 221h5.2v2h-5.2zM117.4 80h5.2v2h-5.2zM123.4 281.5h5.2v1h-5.2zM129.4 156h5.2v1.5h-5.2zM129.4 434h5.2v1.5h-5.2zM135.4 94h5.2v1h-5.2zM141.4 285.5h5.2v1.5h-5.2zM147.4 94.5h5.2v2h-5.2zM147.4 133h5.2v2h-5.2zM153.4 122h5.2v1h-5.2zM165.4 359h5.2v1h-5.2zM165.4 538.5h5.2v1h-5.2zM171.4 168.5h5.2v1.5h-5.2zM195.4 144h5.2v2h-5.2zM201.4 154.5h5.2v2h-5.2zM201.4 531h5.2v2h-5.2zM207.4 329.5h5.2v1h-5.2zM207.4 563.5h5.2v1.5h-5.2zM213.4 81h5.2v2h-5.2zM213.4 299.5h5.2v1h-5.2zM213.4 495.5h5.2v1.5h-5.2zM219.4 118h5.2v1.5h-5.2zM219.4 313h5.2v1h-5.2zM219.4 364h5.2v1h-5.2zM219.4 582h5.2v2h-5.2zM225.4 328h5.2v1.5h-5.2zM225.4 452h5.2v2h-5.2zM237.4 318.5h5.2v1h-5.2zM243.4 252.5h5.2v1.5h-5.2zM243.4 464h5.2v1.5h-5.2zM261.4 138.5h5.2v1h-5.2zM261.4 226h5.2v1h-5.2zM267.4 374h5.2v1.5h-5.2zM267.4 506.5h5.2v1h-5.2zM273.4 85h5.2v1h-5.2zM273.4 246h5.2v1.5h-5.2zM279.4 110h5.2v2h-5.2zM285.4 424.5h5.2v1.5h-5.2zM291.4 194h5.2v1h-5.2zM291.4 282h5.2v1.5h-5.2zM291.4 375h5.2v1.5h-5.2zM291.4 567h5.2v2h-5.2zM297.4 261.5h5.2v1.5h-5.2zM297.4 401.5h5.2v2h-5.2zM297.4 519h5.2v1.5h-5.2zM303.4 289h5.2v1h-5.2zM303.4 452h5.2v1h-5.2zM315.4 522.5h5.2v2h-5.2zM321.4 132h5.2v1.5h-5.2zM321.4 201.5h5.2v2h-5.2zM321.4 322h5.2v1.5h-5.2zM321.4 594h5.2v1h-5.2zM327.4 305h5.2v2h-5.2zM339.4 232.5h5.2v1h-5.2zM345.4 143h5.2v1h-5.2zM345.4 208h5.2v2h-5.2zM345.4 310h5.2v2h-5.2zM351.4 415h5.2v1.5h-5.2zM357.4 126h5.2v1h-5.2zM357.4 203h5.2v1.5h-5.2zM357.4 251h5.2v1h-5.2zM357.4 280h5.2v1.5h-5.2zM357.4 469.5h5.2v1.5h-5.2zM363.4 224h5.2v2h-5.2zM363.4 512.5h5.2v1.5h-5.2zM369.4 171.5h5.2v2h-5.2zM369.4 533.5h5.2v1.5h-5.2zM381.4 209h5.2v1.5h-5.2zM393.4 416.5h5.2v2h-5.2zM393.4 590h5.2v1.5h-5.2zM399.4 127h5.2v1.5h-5.2zM399.4 344h5.2v1h-5.2zM399.4 574.5h5.2v2h-5.2zM405.4 210h5.2v1.5h-5.2zM405.4 211.5h5.2v1.5h-5.2zM411.4 91h5.2v1.5h-5.2zM411.4 132h5.2v1.5h-5.2zM417.4 453.5h5.2v2h-5.2zM417.4 514.5h5.2v1.5h-5.2zM429.4 260h5.2v1h-5.2zM429.4 382h5.2v1h-5.2zM435.4 113h5.2v2h-5.2zM435.4 438h5.2v1.5h-5.2zM441.4 396.5h5.2v2h-5.2zM447.4 304.5h5.2v2h-5.2z"/>
<path fill="#f5f5fe" d="M15.4 110.5h5.2v2h-5.2zM15.4 193.5h5.2v1h-5.2zM15.4 427.5h5.2v1.5h-5.2zM27.4 552h5.2v1.5h-5.2zM33.4 80h5.2v2h-5.2zM33.4 330h5.2v2h-5.2zM33.4 405h5.2v2h-5.2zM33.4 557.5h5.2v2h-5.2zM39.4 221h5.2v2h-5.2zM39.4 297h5.2v2h-5.2zM51.4 204h5.2v1h-5.2zM57.4 195h5.2v1h-5.2zM57.4 210.5h5.2v2h-5.2zM57.4 557.5h5.2v1h-5.2zM63.4 158h5.2v1h-5.2zM63.4 363.5h5.2v1h-5.2zM87.4 240h5.2v1h-5.2zM93.4 164h5.2v1.5h-5.2zM99.4 252h5.2v1.5h-5.2zM99.4 312h5.2v2h-5.2zM99.4 464.5h5.2v1.5h-5.2zM111.4 573h5.2v1.5h-5.2zM123.4 142.5h5.2v1.5h-5.2zM123.4 364.5h5.2v1.5h-5.2zM123.4 366h5.2v1.5h-5.2zM135.4 421.5h5.2v2h-5.2zM135.4 433h5.2v1h-5.2zM135.4 591.5h5.2v2h-5.2zM141.4 184.5h5.2v1.5h-5.2zM141.4 456.5h5.2v1.5h-5.2zM147.4 219.5h5.2v2h-5.2zM147.4 442h5.2v2h-5.2zM153.4 123h5.2v1.5h-5.2zM159.4 111h5.2v2h-5.2zM159.4 387h5.2v2h-5.2zM159.4 419.5h5.2v2h-5.2zM177.4 209.5h5.2v1h-5.2zM189.4 241.5h5.2v1h-5.2zM189.4 527h5.2v2h-5.2zM195.4 137.5h5.2v1.5h-5.2zM201.4 140h5.2v1.5h-5.2zM201.4 423.5h5.2v1.5h-5.2zM207.4 358h5.2v2h-5.2zM213.4 97h5.2v2h-5.2zM213.4 536.5h5.2v1.5h-5.2zM225.4 546h5.2v1.5h-5.2zM231.4 315h5.2v2h-5.2zM237.4 138.5h5.2v1.5h-5.2zM243.4 112h5.2v1.5h-5.2zM243.4 487h5.2v1.5h-5.2zM243.4 529h5.2v2h-5.2zM249.4 405h5.2v2h-5.2zM255.4 169h5.2v1h-5.2zM261.4 339.5h5.2v1h-5.2zM261.4 463.5h5.2v1.5h-5.2zM261.4 526h5.2v2h-5.2zM267.4 355.5h5.2v2h-5.2zM273.4 302h5.2v2h-5.2zM273.4 376.5h5.2v1.5h-5.2zM273.4 404.5h5.2v1.5h-5.2zM273.4 477.5h5.2v1.5h-5.2zM279.4 156h5.2v1.5h-5.2zM279.4 234h5.2v1h-5.2zM279.4 516h5.2v1h-5.2zM291.4 260.5h5.2v1h-5.2zM297.4 438h5.2v2h-5.2zM297.4 446h5.2v2h-5.2zM303.4 124h5.2v2h-5.2zM303.4 433.5h5.2v1.5h-5.2zM303.4 459.5h5.2v2h-5.2zM315.4 399h5.2v1.5h-5.2zM321.4 229.5h5.2v1.5h-5.2zM327.4 443h5.2v1h-5.2zM333.4 200h5.2v1.5h-5.2zM333.4 260.5h5.2v2h-5.2zM333.4 362.5h5.2v1.5h-5.2zM333.4 541.5h5.2v1.5h-5.2zM339.4 425.5h5.2v1.5h-5.2zM351.4 110.5h5.2v1.5h-5.2zM357.4 433h5.2v2h-5.2zM357.4 589h5.2v2h-5.2zM369.4 308h5.2v1h-5.2zM375.4 223.5h5.2v1.5h-5.2zM375.4 580h5.2v1.5h-5.2zM381.4 579h5.2v1h-5.2zM387.4 81h5.2v1h-5.2zM387.4 213h5.2v1h-5.2zM387.4 390.5h5.2v2h-5.2zM387.4 514h5.2v2h-5.2zM393.4 321.5h5.2v1h-5.2zM399.4 492.5h5.2v2h-5.2zM399.4 515.5h5.2v1h-5.2zM405.4 363.5h5.2v1.5h-5.2zM405.4 556.5h5.2v1.5h-5.2zM411.4 396h5.2v2h-5.2zM417.4 148.5h5.2v1.5h-5.2zM417.4 382.5h5.2v2h-5.2zM423.4 582h5.2v1.5h-5.2zM429.4 285h5.2v1h-5.2zM435.4 342.5h5.2v2h-5.2zM441.4 241.5h5.2v1h-5.2zM441.4 515.5h5.2v1h-5.2zM447.4 402.5h5.2v1h-5.2zM447.4 435h5.2v2h-5.2zM447.4 536h5.2v2h-5.2z"/>
<path fill="#f3f3fe" d="M15.4 144.5h5.2v2h-5.2zM15.4 290.5h5.2v1h-5.2zM15.4 513.5h5.2v1.5h-5.2zM21.4 435.5h5.2v2h-5.2zM21.4 594.5h5.2v1.5h-5.2zM27.4 341h5.2v2h-5.2zM39.4 325h5.2v1.5h-5.2zM45.4 205.5h5.2v2h-5.2zM51.4 546.5h5.2v1h-5.2zM57.4 179.5h5.2v2h-5.2zM57.4 279.5h5.2v2h-5.2zM57.4 559.5h5.2v1h-5.2zM63.4 144h5.2v1h-5.2zM69.4 125h5.2v1h-5.2zM69.4 298h5.2v2h-5.2zM69.4 589h5.2v2h-5.2zM75.4 104h5.2v2h-5.2zM75.4 250.5h5.2v1h-5.2zM75.4 281h5.2v2h-5.2zM75.4 397.5h5.2v1h-5.2zM75.4 521.5h5.2v2h-5.2zM81.4 118h5.2v1h-5.2zM81.4 467.5h5.2v1.5h-5.2zM81.4 488h5.2v2h-5.2zM87.4 313h5.2v1.5h-5.2zM93.4 432h5.2v1.5h-5.2zM99.4 401h5.2v2h-5.2zM105.4 173h5.2v2h-5.2zM105.4 301.5h5.2v2h-5.2zM111.4 198.5h5.2v2h-5.2zM117.4 82h5.2v1h-5.2zM117.4 345h5.2v1h-5.2zM123.4 477.5h5.2v1.5h-5.2zM129.4 310h5.2v1.5h-5.2zM129.4 413h5.2v1h-5.2zM135.4 98.5h5.2v1.5h-5.2zM135.4 191h5.2v2h-5.2zM135.4 401h5.2v1.5h-5.2zM141.4 267h5.2v1h-5.2zM141.4 408h5.2v1h-5.2zM147.4 215h5.2v1h-5.2zM147.4 302.5h5.2v1h-5.2zM147.4 485.5h5.2v1h-5.2zM153.4 206.5h5.2v2h-5.2zM153.4 516.5h5.2v1h-5.2zM159.4 135h5.2v1.5h-5.2zM165.4 146h5.2v1.5h-5.2zM171.4 117.5h5.2v2h-5.2zM177.4 183.5h5.2v2h-5.2zM177.4 204.5h5.2v1.5h-5.2zM177.4 576h5.2v1.5h-5.2zM183.4 246.5h5.2v1.5h-5.2zM189.4 473.5h5.2v1h-5.2zM195.4 435h5.2v1h-5.2zM213.4 175.5h5.2v1.5h-5.2zM213.4 323h5.2v1.5h-5.2zM219.4 479.5h5.2v1h-5.2zM219.4 515.5h5.2v1.5h-5.2zM225.4 348.5h5.2v1.5h-5.2zM231.4 116.5h5.2v1h-5.2zM237.4 333h5.2v1.5h-5.2zM243.4 449.5h5.2v1h-5.2zM249.4 189.5h5.2v1h-5.2zM249.4 339h5.2v1h-5.2zM255.4 293h5.2v1h-5.2zM255.4 372.5h5.2v1h-5.2zM255.4 532h5.2v2h-5.2zM261.4 388h5.2v1.5h-5.2zM261.4 421h5.2v1.5h-5.2zM261.4 597h5.2v1h-5.2zM267.4 150h5.2v2h-5.2zM267.4 353.5h5.2v2h-5.2zM273.4 80h5.2v2h-5.2zM273.4 145h5.2v1.5h-5.2zM273.4 506.5h5.2v1h-5.2zM273.4 535h5.2v1h-5.2zM279.4 432.5h5.2v2h-5.2zM279.4 467.5h5.2v1h-5.2zM285.4 158h5.2v1.5h-5.2zM285.4 468.5h5.2v1.5h-5.2zM291.4 252h5.2v2h-5.2zM297.4 108h5.2v1.5h-5.2zM297.4 531h5.2v1.5h-5.2zM297.4 561h5.2v1h-5.2zM303.4 389h5.2v1h-5.2zM303.4 492h5.2v1.5h-5.2zM303.4 540h5.2v2h-5.2zM303.4 543.5h5.2v1.5h-5.2zM303.4 569h5.2v2h-5.2zM309.4 425h5.2v1.5h-5.2zM315.4 374h5.2v1h-5.2zM321.4 166h5.2v1.5h-5.2zM321.4 243h5.2v1h-5.2zM321.4 304h5.2v1h-5.2zM339.4 217h5.2v1.5h-5.2zM339.4 288h5.2v1h-5.2zM339.4 339.5h5.2v2h-5.2zM339.4 457.5h5.2v2h-5.2zM351.4 128h5.2v2h-5.2zM351.4 130h5.2v1h-5.2zM351.4 436h5.2v1.5h-5.2zM357.4 499.5h5.2v2h-5.2zM363.4 371h5.2v1h-5.2zM369.4 142.5h5.2v1.5h-5.2zM369.4 251.5h5.2v2h-5.2zM375.4 244.5h5.2v1.5h-5.2zM375.4 422.5h5.2v1.5h-5.2zM381.4 127.5h5.2v1h-5.2zM381.4 182h5.2v1.5h-5.2zM381.4 354.5h5.2v1.5h-5.2zM387.4 165.5h5.2v1.5h-5.2zM387.4 462h5.2v2h-5.2zM399.4 120.5h5.2v1.5h-5.2zM399.4 255h5.2v1.5h-5.2zM399.4 379h5.2v1h-5.2zM411.4 399.5h5.2v1h-5.2zM417.4 137.5h5.2v2h-5.2zM417.4 177.5h5.2v1h-5.2zM417.4 429h5.2v1.5h-5.2zM417.4 491.5h5.2v2h-5.2zM417.4 567h5.2v1.5h-5.2zM429.4 85.5h5.2v2h-5.2zM429.4 153h5.2v1h-5.2zM429.4 284h5.2v1h-5.2zM429.4 369h5.2v1.5h-5.2zM429.4 520h5.2v2h-5.2zM435.4 184.5h5.2v2h-5.2zM435.4 386h5.2v1h-5.2zM441.4 329.5h5.2v1h-5.2zM441.4 513.5h5.2v1h-5.2zM447.4 172h5.2v1h-5.2zM447.4 446.5h5.2v2h-5.2zM447.4 450.5h5.2v1h-5.2zM447.4 469h5.2v1.5h-5.2z"/>
<path fill="#feeded" d="M15.4 173.5h5.2v1h-5.2zM15.4 352h5.2v1.5h-5.2zM15.4 383h5.2v1.5h-5.2zM15.4 460.5h5.2v1h-5.2zM15.4 481h5.2v2h-5.2zM21.4 141h5.2v2h-5.2zM21.4 365.5h5.2v1h-5.2zM21.4 370.5h5.2v1h-5.2zM21.4 385h5.2v1h-5.2zM21.4 496h5.2v1h-5.2zM21.4 499h5.2v1h-5.2zM27.4 208.5h5.2v1h-5.2zM27.4 324h5.2v2h-5.2zM27.4 389h5.2v1.5h-5.2zM27.4 513h5.2v1h-5.2zM33.4 94h5.2v2h-5.2zM33.4 97.5h5.2v1.5h-5.2zM33.4 115.5h5.2v1h-5.2zM33.4 154h5.2v1.5h-5.2zM33.4 206.5h5.2v1h-5.2zM33.4 282.5h5.2v1h-5.2zM33.4 414.5h5.2v1h-5.2zM33.4 479h5.2v1.5h-5.2zM33.4 562h5.2v1h-5.2zM39.4 253h5.2v1.5h-5.2zM39.4 293h5.2v1.5h-5.2zM39.4 552h5.2v2h-5.2zM45.4 304.5h5.2v1.5h-5.2zM45.4 322h5.2v1h-5.2zM45.4 378h5.2v1h-5.2zM45.4 396h5.2v1.5h-5.2zM51.4 163h5.2v1h-5.2zM51.4 205h5.2v1.5h-5.2zM51.4 281h5.2v1h-5.2zM51.4 371.5h5.2v1h-5.2zM57.4 212.5h5.2v2h-5.2zM57.4 313h5.2v1h-5.2zM57.4 402.5h5.2v2h-5.2zM63.4 98.5h5.2v2h-5.2zM63.4 273.5h5.2v2h-5.2zM63.4 527h5.2v2h-5.2zM63.4 591h5.2v2h-5.2zM69.4 107.5h5.2v2h-5.2zM69.4 112.5h5.2v2h-5.2zM69.4 213.5h5.2v1.5h-5.2zM69.4 470.5h5.2v2h-5.2zM69.4 556.5h5.2v2h-5.2zM75.4 523.5h5.2v2h-5.2zM81.4 241.5h5.2v1.5h-5.2zM81.4 476.5h5.2v1h-5.2zM81.4 526.5h5.2v2h-5.2zM87.4 190.5h5.2v1.5h-5.2zM87.4 288.5h5.2v1.5h-5.2zM87.4 488.5h5.2v1.5h-5.2zM93.4 326h5.2v2h-5.2zM93.4 435h5.2v1h-5.2zM99.4 225.5h5.2v1.5h-5.2zM105.4 103.5h5.2v2h-5.2zM105.4 212.5h5.2v1.5h-5.2zM105.4 495h5.2v2h-5.2zM111.4 472h5.2v2h-5.2zM111.4 508h5.2v2h-5.2zM117.4 303.5h5.2v1h-5.2zM123.4 274h5.2v1h-5.2zM123.4 316.5h5.2v2h-5.2zM123.4 548h5.2v1h-5.2zM123.4 567h5.2v2h-5.2zM129.4 197h5.2v1.5h-5.2zM129.4 398h5.2v1.5h-5.2zM129.4 484.5h5.2v2h-5.2zM135.4 107.5h5.2v1.5h-5.2zM135.4 235.5h5.2v1.5h-5.2zM135.4 279.5h5.2v2h-5.2zM135.4 314.5h5.2v1h-5.2zM135.4 491.5h5.2v1.5h-5.2zM135.4 540.5h5.2v1.5h-5.2zM141.4 127h5.2v1h-5.2zM147.4 249.5h5.2v2h-5.2zM147.4 255h5.2v1.5h-5.2zM147.4 323h5.2v1h-5.2zM147.4 488h5.2v1h-5.2zM153.4 306.5h5.2v1h-5.2zM153.4 370.5h5.2v2h-5.2zM153.4 497h5.2v1.5h-5.2zM153.4 498.5h5.2v1.5h-5.2zM159.4 103h5.2v1.5h-5.2zM159.4 516h5.2v2h-5.2zM165.4 134.5h5.2v2h-5.2zM165.4 166h5.2v1h-5.2zM165.4 194h5.2v1h-5.2zM165.4 228.5h5.2v1h-5.2zM171.4 115.5h5.2v1h-5.2zM171.4 190.5h5.2v1.5h-5.2zM171.4 210h5.2v1h-5.2zM171.4 222.5h5.2v1h-5.2zM171.4 297h5.2v1h-5.2zM177.4 202.5h5.2v2h-5.2zM177.4 363h5.2v2h-5.2zM177.4 367h5.2v1h-5.2zM177.4 478h5.2v1h-5.2zM183.4 195h5.2v1.5h-5.2zM183.4 196.5h5.2v2h-5.2zM183.4 364.5h5.2v2h-5.2zM183.4 401.5h5.2v1.5h-5.2zM183.4 549h5.2v2h-5.2zM183.4 551h5.2v2h-5.2zM189.4 182.5h5.2v1.5h-5.2zM189.4 275h5.2v1h-5.2zM189.4 289h5.2v1.5h-5.2zM189.4 523.5h5.2v1h-5.2zM195.4 155h5.2v2h-5.2zM195.4 357.5h5.2v1.5h-5.2zM195.4 402.5h5.2v2h-5.2zM195.4 453h5.2v1h-5.2zM201.4 248h5.2v1h-5.2zM201.4 325.5h5.2v2h-5.2zM201.4 433.5h5.2v1.5h-5.2zM201.4 513h5.2v2h-5.2zM207.4 225h5.2v1.5h-5.2zM207.4 325h5.2v1.5h-5.2zM207.4 327.5h5.2v2h-5.2zM207.4 402h5.2v1h-5.2zM207.4 461.5h5.2v1h-5.2zM207.4 517.5h5.2v2h-5.2zM213.4 182h5.2v2h-5.2zM213.4 238.5h5.2v1h-5.2zM213.4 497h5.2v2h-5.2zM219.4 114h5.2v2h-5.2zM219.4 285h5.2v1h-5.2zM219.4 306h5.2v1.5h-5.2zM219.4 312h5.2v1h-5.2zM219.4 475.5h5.2v1h-5.2zM225.4 352h5.2v1.5h-5.2zM231.4 81.5h5.2v2h-5.2zM231.4 302.5h5.2v1.5h-5.2zM231.4 397.5h5.2v1.5h-5.2zM231.4 416.5h5.2v2h-5.2zM231.4 550h5.2v2h-5.2zM237.4 422.5h5.2v1h-5.2zM243.4 164h5.2v2h-5.2zM249.4 118.5h5.2v2h-5.2zM249.4 183.5h5.2v2h-5.2zM249.4 272h5.2v1h-5.2zM249.4 390h5.2v2h-5.2zM249.4 392h5.2v1.5h-5.2zM249.4 418.5h5.2v1h-5.2zM249.4 442.5h5.2v1h-5.2zM249.4 473h5.2v1h-5.2zM255.4 309h5.2v2h-5.2zM255.4 460h5.2v2h-5.2zM261.4 164h5.2v1.5h-5.2zM261.4 235h5.2v2h-5.2zM261.4 484.5h5.2v2h-5.2zM261.4 581h5.2v1h-5.2zM267.4 161.5h5.2v2h-5.2zM267.4 361.5h5.2v2h-5.2zM267.4 457h5.2v2h-5.2zM267.4 495h5.2v1h-5.2zM267.4 499.5h5.2v1h-5.2zM267.4 591h5.2v2h-5.2zM273.4 164h5.2v2h-5.2zM273.4 304h5.2v2h-5.2zM273.4 308.5h5.2v1.5h-5.2zM273.4 333h5.2v2h-5.2zM273.4 416h5.2v2h-5.2zM273.4 428.5h5.2v2h-5.2zM273.4 572.5h5.2v2h-5.2zM279.4 246.5h5.2v1h-5.2zM279.4 332h5.2v1h-5.2zM279.4 564.5h5.2v1h-5.2zM285.4 524h5.2v1h-5.2zM291.4 103.5h5.2v1.5h-5.2zM291.4 172h5.2v2h-5.2zM291.4 331.5h5.2v2h-5.2zM291.4 397.5h5.2v1h-5.2zM291.4 435.5h5.2v2h-5.2zM291.4 519h5.2v2h-5.2zM291.4 545.5h5.2v1.5h-5.2zM297.4 110.5h5.2v1h-5.2zM297.4 124.5h5.2v1h-5.2zM297.4 237.5h5.2v1.5h-5.2zM297.4 355.5h5.2v2h-5.2zM303.4 179.5h5.2v1h-5.2zM303.4 246.5h5.2v1h-5.2zM303.4 304h5.2v1.5h-5.2zM303.4 371.5h5.2v1h-5.2zM303.4 465.5h5.2v1h-5.2zM309.4 161h5.2v1h-5.2zM309.4 449h5.2v1.5h-5.2zM315.4 128.5h5.2v1.5h-5.2zM315.4 256h5.2v1h-5.2zM315.4 325.5h5.2v2h-5.2zM327.4 332.5h5.2v2h-5.2zM327.4 540.5h5.2v1h-5.2zM333.4 96.5h5.2v1h-5.2zM333.4 517h5.2v1h-5.2zM339.4 90.5h5.2v1h-5.2zM339.4 538h5.2v1h-5.2zM339.4 565.5h5.2v1.5h-5.2zM345.4 95.5h5.2v2h-5.2zM345.4 105.5h5.2v1h-5.2zM345.4 148.5h5.2v2h-5.2zM345.4 343h5.2v1h-5.2zM345.4 417h5.2v1h-5.2zM345.4 584h5.2v1.5h-5.2zM351.4 134.5h5.2v1h-5.2zM351.4 166.5h5.2v2h-5.2zM351.4 187h5.2v2h-5.2zM351.4 424h5.2v1h-5.2zM357.4 80h5.2v1h-5.2zM357.4 249h5.2v2h-5.2zM363.4 163h5.2v2h-5.2zM363.4 442.5h5.2v1h-5.2zM363.4 475.5h5.2v1.5h-5.2zM363.4 588.5h5.2v1.5h-5.2zM369.4 257.5h5.2v1.5h-5.2zM369.4 259h5.2v1.5h-5.2zM369.4 277.5h5.2v2h-5.2zM369.4 315h5.2v1.5h-5.2zM369.4 586h5.2v1h-5.2zM375.4 83.5h5.2v1h-5.2zM375.4 147h5.2v1h-5.2zM375.4 214.5h5.2v1.5h-5.2zM375.4 234.5h5.2v2h-5.2zM375.4 399.5h5.2v1h-5.2zM375.4 420.5h5.2v1h-5.2zM375.4 577h5.2v2h-5.2zM381.4 390h5.2v1h-5.2zM381.4 530.5h5.2v1h-5.2zM387.4 451h5.2v2h-5.2zM387.4 483h5.2v1.5h-5.2zM387.4 520h5.2v1h-5.2zM387.4 554.5h5.2v1.5h-5.2zM387.4 591.5h5.2v1h-5.2zM393.4 316h5.2v1h-5.2zM393.4 474.5h5.2v1.5h-5.2zM393.4 506.5h5.2v2h-5.2zM399.4 453.5h5.2v1.5h-5.2zM399.4 476h5.2v2h-5.2zM399.4 509h5.2v1h-5.2zM399.4 516.5h5.2v2h-5.2zM405.4 110h5.2v1.5h-5.2zM405.4 259.5h5.2v1.5h-5.2zM411.4 173.5h5.2v2h-5.2zM411.4 499.5h5.2v1.5h-5.2zM411.4 551h5.2v2h-5.2zM417.4 86h5.2v1.5h-5.2zM417.4 111h5.2v1h-5.2zM417.4 211.5h5.2v1.5h-5.2zM417.4 346.5h5.2v1h-5.2zM423.4 81h5.2v2h-5.2zM423.4 510h5.2v1.5h-5.2zM429.4 133h5.2v1.5h-5.2zM429.4 237.5h5.2v1.5h-5.2zM429.4 393.5h5.2v1.5h-5.2zM429.4 479h5.2v2h-5.2zM435.4 125.5h5.2v2h-5.2zM435.4 257.5h5.2v1.5h-5.2zM435.4 435.5h5.2v1.5h-5.2zM435.4 573.5h5.2v1.5h-5.2zM441.4 80h5.2v2h-5.2zM441.4 145h5.2v2h-5.2zM441.4 486h5.2v1h-5.2zM441.4 527h5.2v2h-5.2zM441.4 591h5.2v1h-5.2zM447.4 408.5h5.2v1.5h-5.2zM447.4 475h5.2v1.5h-5.2zM447.4 542h5.2v1.5h-5.2z"/>
<path fill="#fef5f5" d="M15.4 197.5h5.2v1h-5.2zM15.4 284h5.2v1h-5.2zM15.4 363h5.2v1.5h-5.2zM15.4 475.5h5.2v1h-5.2zM21.4 126.5h5.2v1h-5.2zM21.4 233.5h5.2v1h-5.2zM21.4 396h5.2v2h-5.2zM21.4 460.5h5.2v2h-5.2zM27.4 114.5h5.2v2h-5.2zM27.4 383h5.2v2h-5.2zM33.4 153h5.2v1h-5.2zM33.4 377.5h5.2v2h-5.2zM33.4 515.5h5.2v1.5h-5.2zM39.4 180h5.2v2h-5.2zM39.4 268.5h5.2v1h-5.2zM39.4 355h5.2v2h-5.2zM39.4 503.5h5.2v2h-5.2zM45.4 226.5h5.2v1.5h-5.2zM45.4 385h5.2v1.5h-5.2zM45.4 468h5.2v2h-5.2zM45.4 483.5h5.2v1h-5.2zM51.4 192h5.2v2h-5.2zM51.4 254.5h5.2v1h-5.2zM51.4 375.5h5.2v1.5h-5.2zM51.4 437h5.2v1h-5.2zM51.4 521.5h5.2v2h-5.2zM51.4 556.5h5.2v1.5h-5.2zM57.4 395h5.2v1.5h-5.2zM57.4 425h5.2v2h-5.2zM57.4 556h5.2v1.5h-5.2zM63.4 264.5h5.2v1h-5.2zM63.4 349.5h5.2v1.5h-5.2zM63.4 474h5.2v1.5h-5.2zM63.4 588.5h5.2v1h-5.2zM69.4 212.5h5.2v1h-5.2zM69.4 596h5.2v1h-5.2zM81.4 254.5h5.2v2h-5.2zM81.4 358h5.2v1h-5.2zM87.4 90h5.2v2h-5.2zM87.4 98.5h5.2v1h-5.2zM93.4 145.5h5.2v1.5h-5.2zM93.4 335h5.2v2h-5.2zM99.4 174.5h5.2v1h-5.2zM99.4 309h5.2v2h-5.2zM99.4 354.5h5.2v1.5h-5.2zM99.4 370.5h5.2v1.5h-5.2zM99.4 442.5h5.2v1.5h-5.2zM111.4 125h5.2v1h-5.2zM111.4 153.5h5.2v1h-5.2zM111.4 263h5.2v1h-5.2zM111.4 407.5h5.2v1h-5.2zM111.4 489h5.2v1h-5.2zM117.4 300h5.2v1.5h-5.2zM117.4 555.5h5.2v1h-5.2zM117.4 561h5.2v2h-5.2zM123.4 84.5h5.2v1.5h-5.2zM123.4 361.5h5.2v2h-5.2zM123.4 400.5h5.2v1h-5.2zM123.4 466h5.2v1h-5.2zM123.4 530.5h5.2v2h-5.2zM129.4 305h5.2v1.5h-5.2zM129.4 389.5h5.2v1.5h-5.2zM129.4 487.5h5.2v1.5h-5.2zM129.4 524h5.2v1h-5.2zM135.4 136h5.2v1.5h-5.2zM135.4 379h5.2v1h-5.2zM141.4 278.5h5.2v1h-5.2zM141.4 300.5h5.2v2h-5.2zM141.4 395h5.2v1.5h-5.2zM147.4 295h5.2v1h-5.2zM147.4 381h5.2v1.5h-5.2zM147.4 508.5h5.2v2h-5.2zM153.4 459h5.2v1h-5.2zM159.4 108.5h5.2v1h-5.2zM159.4 149h5.2v1h-5.2zM159.4 173.5h5.2v1h-5.2zM159.4 452.5h5.2v2h-5.2zM159.4 489h5.2v1.5h-5.2zM159.4 526.5h5.2v1.5h-5.2zM165.4 249.5h5.2v1.5h-5.2zM165.4 294h5.2v1.5h-5.2zM165.4 317h5.2v1h-5.2zM165.4 334h5.2v2h-5.2zM165.4 487h5.2v1.5h-5.2zM171.4 110h5.2v2h-5.2zM171.4 145.5h5.2v1.5h-5.2zM171.4 163.5h5.2v1h-5.2zM171.4 197h5.2v1h-5.2zM171.4 239.5h5.2v1.5h-5.2zM177.4 104h5.2v1h-5.2zM177.4 206h5.2v1.5h-5.2zM177.4 394h5.2v2h-5.2zM177.4 419.5h5.2v2h-5.2zM177.4 452h5.2v2h-5.2zM177.4 464.5h5.2v1.5h-5.2zM183.4 342.5h5.2v2h-5.2zM189.4 215.5h5.2v1h-5.2zM195.4 490h5.2v1.5h-5.2zM195.4 521.5h5.2v2h-5.2zM201.4 128h5.2v2h-5.2zM201.4 373.5h5.2v1h-5.2zM201.4 543.5h5.2v1.5h-5.2zM207.4 238.5h5.2v1h-5.2zM207.4 392h5.2v1.5h-5.2zM213.4 370.5h5.2v2h-5.2zM213.4 447.5h5.2v1.5h-5.2zM219.4 95.5h5.2v1h-5.2zM219.4 162.5h5.2v1.5h-5.2zM219.4 289.5h5.2v1.5h-5.2zM219.4 384.5h5.2v1.5h-5.2zM219.4 543h5.2v1.5h-5.2zM225.4 129.5h5.2v1h-5.2zM225.4 527.5h5.2v1.5h-5.2zM231.4 107.5h5.2v2h-5.2zM231.4 117.5h5.2v1h-5.2zM231.4 322.5h5.2v1.5h-5.2zM231.4 349.5h5.2v1h-5.2zM231.4 592.5h5.2v2h-5.2zM237.4 174h5.2v1.5h-5.2zM237.4 175.5h5.2v1h-5.2zM237.4 468.5h5.2v2h-5.2zM243.4 193h5.2v1h-5.2zM243.4 216.5h5.2v1.5h-5.2zM243.4 482h5.2v1h-5.2zM243.4 500h5.2v2h-5.2zM243.4 523h5.2v1h-5.2zM249.4 105h5.2v1.5h-5.2zM249.4 207.5h5.2v1.5h-5.2zM255.4 186.5h5.2v2h-5.2zM255.4 501.5h5.2v1.5h-5.2zM255.4 516.5h5.2v1h-5.2zM255.4 540.5h5.2v2h-5.2zM261.4 329h5.2v2h-5.2zM261.4 377h5.2v1h-5.2zM261.4 540.5h5.2v1.5h-5.2zM267.4 135.5h5.2v1.5h-5.2zM267.4 466h5.2v1.5h-5.2zM267.4 579h5.2v1.5h-5.2zM267.4 586.5h5.2v1.5h-5.2zM279.4 249.5h5.2v1h-5.2zM285.4 93h5.2v2h-5.2zM285.4 117h5.2v2h-5.2zM285.4 123.5h5.2v1.5h-5.2zM285.4 230.5h5.2v1.5h-5.2zM291.4 227h5.2v1.5h-5.2zM291.4 254h5.2v2h-5.2zM291.4 443.5h5.2v1h-5.2zM291.4 512.5h5.2v1h-5.2zM297.4 92.5h5.2v2h-5.2zM297.4 278.5h5.2v1.5h-5.2zM297.4 503.5h5.2v1.5h-5.2zM297.4 514h5.2v2h-5.2zM303.4 262.5h5.2v1.5h-5.2zM309.4 128.5h5.2v1.5h-5.2zM309.4 334.5h5.2v1.5h-5.2zM315.4 110h5.2v1h-5.2zM315.4 201h5.2v2h-5.2zM315.4 216h5.2v2h-5.2zM315.4 453h5.2v1h-5.2zM315.4 487h5.2v2h-5.2zM315.4 596.5h5.2v2h-5.2zM321.4 83h5.2v1.5h-5.2zM321.4 275h5.2v1h-5.2zM321.4 284.5h5.2v1h-5.2zM321.4 412h5.2v1h-5.2zM321.4 440h5.2v1.5h-5.2zM321.4 490.5h5.2v1h-5.2zM321.4 498.5h5.2v1.5h-5.2zM327.4 127.5h5.2v1h-5.2zM327.4 524h5.2v1.5h-5.2zM327.4 548h5.2v1.5h-5.2zM333.4 100h5.2v1h-5.2zM333.4 352h5.2v2h-5.2zM333.4 466h5.2v2h-5.2zM333.4 481h5.2v2h-5.2zM333.4 552.5h5.2v1h-5.2zM339.4 258h5.2v1h-5.2zM339.4 292.5h5.2v1h-5.2zM339.4 329h5.2v1h-5.2zM339.4 330h5.2v1.5h-5.2zM345.4 403h5.2v1.5h-5.2zM345.4 411.5h5.2v2h-5.2zM345.4 546.5h5.2v2h-5.2zM357.4 98.5h5.2v1.5h-5.2zM357.4 284.5h5.2v1h-5.2zM357.4 292h5.2v2h-5.2zM357.4 388.5h5.2v1.5h-5.2zM363.4 107.5h5.2v2h-5.2zM369.4 487h5.2v2h-5.2zM375.4 153.5h5.2v1.5h-5.2zM375.4 312h5.2v1.5h-5.2zM375.4 368.5h5.2v1h-5.2zM375.4 429h5.2v1h-5.2zM375.4 481.5h5.2v2h-5.2zM381.4 166.5h5.2v1.5h-5.2zM381.4 176h5.2v1.5h-5.2zM381.4 348.5h5.2v1h-5.2zM381.4 471h5.2v1.5h-5.2zM381.4 523h5.2v1h-5.2zM387.4 133h5.2v2h-5.2zM387.4 139.5h5.2v1h-5.2zM387.4 184h5.2v1h-5.2zM387.4 185h5.2v1h-5.2zM387.4 476h5.2v2h-5.2zM393.4 299.5h5.2v2h-5.2zM393.4 565.5h5.2v1.5h-5.2zM393.4 587.5h5.2v1h-5.2zM399.4 153.5h5.2v2h-5.2zM399.4 216h5.2v1.5h-5.2zM399.4 270.5h5.2v1h-5.2zM405.4 419h5.2v1h-5.2zM405.4 508.5h5.2v1.5h-5.2zM411.4 201h5.2v2h-5.2zM411.4 477.5h5.2v1h-5.2zM411.4 509h5.2v1h-5.2zM411.4 550h5.2v1h-5.2zM417.4 187h5.2v2h-5.2zM417.4 312.5h5.2v2h-5.2zM417.4 319.5h5.2v1.5h-5.2zM423.4 325.5h5.2v1.5h-5.2zM429.4 177.5h5.2v1h-5.2zM429.4 184h5.2v2h-5.2zM429.4 276.5h5.2v2h-5.2zM429.4 303h5.2v1h-5.2zM429.4 556h5.2v1.5h-5.2zM435.4 378h5.2v1h-5.2zM441.4 272h5.2v1h-5.2zM441.4 306h5.2v1.5h-5.2zM441.4 328.5h5.2v1h-5.2zM447.4 250.5h5.2v1.5h-5.2zM447.4 370.5h5.2v2h-5.2z"/>
<path fill="#fef7f7" d="M15.4 279h5.2v1h-5.2zM15.4 309h5.2v1.5h-5.2zM15.4 400h5.2v1.5h-5.2zM15.4 444h5.2v2h-5.2zM15.4 485h5.2v1.5h-5.2zM21.4 217.5h5.2v1.5h-5.2zM21.4 406.5h5.2v1h-5.2zM21.4 566.5h5.2v2h-5.2zM21.4 569.5h5.2v2h-5.2zM27.4 393.5h5.2v2h-5.2zM27.4 410h5.2v1.5h-5.2zM33.4 180h5.2v2h-5.2zM33.4 404h5.2v1h-5.2zM33.4 444.5h5.2v1.5h-5.2zM39.4 359h5.2v2h-5.2zM45.4 357h5.2v1h-5.2zM45.4 450.5h5.2v2h-5.2zM51.4 243.5h5.2v1.5h-5.2zM51.4 286h5.2v2h-5.2zM57.4 168h5.2v1h-5.2zM57.4 576.5h5.2v1.5h-5.2zM63.4 253.5h5.2v2h-5.2zM63.4 281.5h5.2v2h-5.2zM69.4 429.5h5.2v1.5h-5.2zM69.4 460.5h5.2v1h-5.2zM69.4 530.5h5.2v2h-5.2zM75.4 257h5.2v1h-5.2zM81.4 178.5h5.2v1h-5.2zM81.4 212h5.2v1.5h-5.2zM81.4 374h5.2v1.5h-5.2zM81.4 510h5.2v1.5h-5.2zM87.4 140h5.2v1h-5.2zM87.4 326.5h5.2v2h-5.2zM93.4 172h5.2v1h-5.2zM93.4 195.5h5.2v2h-5.2zM93.4 341h5.2v1.5h-5.2zM93.4 358h5.2v2h-5.2zM93.4 568.5h5.2v2h-5.2zM99.4 97h5.2v1h-5.2zM99.4 447.5h5.2v1.5h-5.2zM99.4 555.5h5.2v2h-5.2zM111.4 223h5.2v1.5h-5.2zM111.4 224.5h5.2v2h-5.2zM111.4 534.5h5.2v2h-5.2zM117.4 271.5h5.2v1.5h-5.2zM117.4 323.5h5.2v1h-5.2zM117.4 580.5h5.2v2h-5.2zM123.4 580h5.2v2h-5.2zM129.4 283h5.2v2h-5.2zM129.4 478.5h5.2v1h-5.2zM129.4 563h5.2v1.5h-5.2zM135.4 102.5h5.2v1h-5.2zM135.4 277h5.2v1h-5.2zM135.4 371h5.2v2h-5.2zM135.4 392h5.2v1h-5.2zM141.4 97.5h5.2v2h-5.2zM141.4 273.5h5.2v1h-5.2zM141.4 316h5.2v1h-5.2zM141.4 382.5h5.2v2h-5.2zM147.4 210.5h5.2v1h-5.2zM153.4 281h5.2v1h-5.2zM153.4 389h5.2v2h-5.2zM153.4 593h5.2v1h-5.2zM159.4 243.5h5.2v2h-5.2zM165.4 107h5.2v1.5h-5.2zM165.4 123.5h5.2v1.5h-5.2zM165.4 222.5h5.2v1h-5.2zM165.4 227.5h5.2v1h-5.2zM165.4 528h5.2v1.5h-5.2zM177.4 170h5.2v1h-5.2zM177.4 172.5h5.2v1.5h-5.2zM177.4 213h5.2v1.5h-5.2zM177.4 218h5.2v1.5h-5.2zM177.4 230h5.2v1.5h-5.2zM183.4 405h5.2v2h-5.2zM183.4 475.5h5.2v2h-5.2zM189.4 106.5h5.2v2h-5.2zM201.4 419h5.2v2h-5.2zM201.4 540.5h5.2v1h-5.2zM207.4 166.5h5.2v1h-5.2zM207.4 346h5.2v1.5h-5.2zM207.4 528.5h5.2v2h-5.2zM213.4 200h5.2v2h-5.2zM213.4 278h5.2v1.5h-5.2zM213.4 338.5h5.2v2h-5.2zM213.4 430.5h5.2v1.5h-5.2zM219.4 158.5h5.2v1h-5.2zM219.4 487.5h5.2v2h-5.2zM219.4 494h5.2v2h-5.2zM219.4 530.5h5.2v2h-5.2zM219.4 532.5h5.2v2h-5.2zM219.4 590.5h5.2v1h-5.2zM225.4 182.5h5.2v1.5h-5.2zM225.4 262.5h5.2v2h-5.2zM225.4 422.5h5.2v2h-5.2zM231.4 307.5h5.2v1.5h-5.2zM231.4 327.5h5.2v1.5h-5.2zM231.4 376h5.2v1h-5.2zM231.4 395.5h5.2v1h-5.2zM237.4 128.5h5.2v1.5h-5.2zM237.4 197.5h5.2v1h-5.2zM237.4 311.5h5.2v2h-5.2zM237.4 322h5.2v1h-5.2zM237.4 335.5h5.2v1h-5.2zM237.4 409h5.2v1.5h-5.2zM237.4 452h5.2v1.5h-5.2zM237.4 535h5.2v1h-5.2zM243.4 279.5h5.2v2h-5.2zM243.4 330.5h5.2v1.5h-5.2zM243.4 376h5.2v1h-5.2zM249.4 195.5h5.2v1.5h-5.2zM249.4 252h5.2v1h-5.2zM249.4 366.5h5.2v1h-5.2zM249.4 419.5h5.2v2h-5.2zM249.4 488h5.2v1h-5.2zM255.4 220h5.2v2h-5.2zM255.4 262.5h5.2v2h-5.2zM255.4 448.5h5.2v2h-5.2zM255.4 508.5h5.2v2h-5.2zM255.4 571h5.2v2h-5.2zM261.4 518.5h5.2v1.5h-5.2zM261.4 557h5.2v1.5h-5.2zM267.4 123.5h5.2v2h-5.2zM267.4 471h5.2v2h-5.2zM273.4 116.5h5.2v2h-5.2zM273.4 410h5.2v2h-5.2zM273.4 469h5.2v1.5h-5.2zM279.4 162.5h5.2v1.5h-5.2zM279.4 174h5.2v1h-5.2zM279.4 502.5h5.2v1h-5.2zM285.4 121h5.2v1.5h-5.2zM285.4 149.5h5.2v1.5h-5.2zM285.4 191h5.2v1h-5.2zM285.4 444.5h5.2v1.5h-5.2zM291.4 292h5.2v1.5h-5.2zM291.4 450.5h5.2v1.5h-5.2zM297.4 80h5.2v1h-5.2zM297.4 282h5.2v1.5h-5.2zM297.4 327.5h5.2v1h-5.2zM297.4 397.5h5.2v2h-5.2zM297.4 419.5h5.2v2h-5.2zM297.4 423.5h5.2v2h-5.2zM297.4 545.5h5.2v1h-5.2zM297.4 595h5.2v1h-5.2zM303.4 253h5.2v1.5h-5.2zM303.4 429h5.2v1h-5.2zM309.4 169.5h5.2v2h-5.2zM309.4 200.5h5.2v1h-5.2zM309.4 230h5.2v1.5h-5.2zM309.4 380h5.2v2h-5.2zM309.4 402.5h5.2v1h-5.2zM309.4 503.5h5.2v2h-5.2zM309.4 511.5h5.2v1h-5.2zM315.4 271.5h5.2v2h-5.2zM315.4 402.5h5.2v2h-5.2zM321.4 91.5h5.2v1.5h-5.2zM321.4 177h5.2v1h-5.2zM321.4 227h5.2v1h-5.2zM321.4 408.5h5.2v1h-5.2zM327.4 162.5h5.2v2h-5.2zM327.4 272h5.2v2h-5.2zM327.4 362h5.2v1.5h-5.2zM327.4 403h5.2v2h-5.2zM333.4 515.5h5.2v1.5h-5.2zM339.4 93.5h5.2v1.5h-5.2zM339.4 229h5.2v1.5h-5.2zM339.4 362.5h5.2v1h-5.2zM345.4 408h5.2v1.5h-5.2zM351.4 173.5h5.2v2h-5.2zM351.4 351h5.2v1h-5.2zM351.4 589h5.2v1.5h-5.2zM357.4 83h5.2v1.5h-5.2zM357.4 177.5h5.2v1h-5.2zM357.4 245h5.2v2h-5.2zM357.4 541.5h5.2v2h-5.2zM357.4 578h5.2v1.5h-5.2zM363.4 554h5.2v2h-5.2zM369.4 132h5.2v2h-5.2zM369.4 272h5.2v1.5h-5.2zM369.4 394.5h5.2v1h-5.2zM369.4 526h5.2v2h-5.2zM375.4 116h5.2v1.5h-5.2zM375.4 196.5h5.2v1h-5.2zM375.4 306h5.2v1h-5.2zM375.4 549.5h5.2v1h-5.2zM381.4 116.5h5.2v1h-5.2zM381.4 134.5h5.2v2h-5.2zM381.4 262h5.2v2h-5.2zM381.4 324.5h5.2v1h-5.2zM387.4 379h5.2v1h-5.2zM387.4 556h5.2v1.5h-5.2zM387.4 592.5h5.2v2h-5.2zM393.4 246.5h5.2v1.5h-5.2zM393.4 279h5.2v1.5h-5.2zM393.4 578.5h5.2v2h-5.2zM399.4 80h5.2v1.5h-5.2zM399.4 178.5h5.2v1h-5.2zM399.4 251.5h5.2v1.5h-5.2zM399.4 269h5.2v1.5h-5.2zM399.4 399h5.2v2h-5.2zM399.4 437h5.2v1h-5.2zM399.4 449h5.2v1.5h-5.2zM399.4 455h5.2v1h-5.2zM399.4 597h5.2v2h-5.2zM405.4 197.5h5.2v1h-5.2zM411.4 110.5h5.2v2h-5.2zM417.4 142.5h5.2v1h-5.2zM417.4 269h5.2v1h-5.2zM417.4 494.5h5.2v2h-5.2zM423.4 249.5h5.2v1h-5.2zM423.4 571h5.2v1.5h-5.2zM429.4 91h5.2v2h-5.2zM429.4 115h5.2v1h-5.2zM429.4 210h5.2v1.5h-5.2zM429.4 261h5.2v2h-5.2zM429.4 305.5h5.2v1.5h-5.2zM429.4 447.5h5.2v2h-5.2zM435.4 203h5.2v1h-5.2zM435.4 223.5h5.2v1.5h-5.2zM435.4 325.5h5.2v1.5h-5.2zM435.4 542.5h5.2v1h-5.2zM441.4 344h5.2v2h-5.2zM441.4 390.5h5.2v2h-5.2zM441.4 572h5.2v1h-5.2zM447.4 263h5.2v2h-5.2zM447.4 392h5.2v2h-5.2zM447.4 403.5h5.2v2h-5.2zM447.4 406.5h5.2v1h-5.2zM447.4 465.5h5.2v1.5h-5.2zM447.4 515.5h5.2v1.5h-5.2z"/>
<path fill="#fef2f2" d="M15.4 418.5h5.2v1h-5.2zM15.4 549h5.2v1.5h-5.2zM21.4 201.5h5.2v1h-5.2zM21.4 226h5.2v2h-5.2zM21.4 241h5.2v1h-5.2zM21.4 288.5h5.2v1.5h-5.2zM21.4 302.5h5.2v1h-5.2zM21.4 303.5h5.2v1h-5.2zM21.4 371.5h5.2v2h-5.2zM21.4 522.5h5.2v2h-5.2zM21.4 536h5.2v2h-5.2zM21.4 593h5.2v1.5h-5.2zM27.4 262.5h5.2v1.5h-5.2zM27.4 312h5.2v2h-5.2zM33.4 130h5.2v1.5h-5.2zM33.4 244h5.2v1.5h-5.2zM33.4 316h5.2v1h-5.2zM33.4 327h5.2v1.5h-5.2zM33.4 431.5h5.2v1h-5.2zM33.4 503h5.2v1h-5.2zM33.4 520h5.2v2h-5.2zM33.4 591.5h5.2v1h-5.2zM39.4 372.5h5.2v1h-5.2zM45.4 140.5h5.2v1.5h-5.2zM45.4 174.5h5.2v2h-5.2zM45.4 459.5h5.2v2h-5.2zM45.4 520h5.2v1.5h-5.2zM45.4 573.5h5.2v1.5h-5.2zM51.4 559.5h5.2v2h-5.2zM57.4 192h5.2v2h-5.2zM57.4 240.5h5.2v1.5h-5.2zM63.4 143h5.2v1h-5.2zM63.4 577.5h5.2v1.5h-5.2zM69.4 282.5h5.2v2h-5.2zM69.4 400.5h5.2v2h-5.2zM69.4 591h5.2v2h-5.2zM75.4 352h5.2v2h-5.2zM81.4 177.5h5.2v1h-5.2zM81.4 594.5h5.2v1h-5.2zM87.4 377h5.2v2h-5.2zM87.4 486.5h5.2v2h-5.2zM93.4 249.5h5.2v2h-5.2zM93.4 334h5.2v1h-5.2zM99.4 140h5.2v2h-5.2zM99.4 158.5h5.2v1.5h-5.2zM99.4 194.5h5.2v1h-5.2zM99.4 265.5h5.2v1h-5.2zM99.4 595h5.2v1.5h-5.2zM105.4 570h5.2v1h-5.2zM111.4 306h5.2v1.5h-5.2zM111.4 354.5h5.2v2h-5.2zM111.4 455.5h5.2v1h-5.2zM111.4 484h5.2v2h-5.2zM117.4 175.5h5.2v2h-5.2zM117.4 198h5.2v2h-5.2zM117.4 233.5h5.2v2h-5.2zM123.4 282.5h5.2v2h-5.2zM123.4 337h5.2v1.5h-5.2zM123.4 462.5h5.2v1.5h-5.2zM129.4 157.5h5.2v1.5h-5.2zM129.4 279.5h5.2v1.5h-5.2zM129.4 343h5.2v2h-5.2zM129.4 356.5h5.2v1h-5.2zM129.4 384.5h5.2v1h-5.2zM141.4 417h5.2v1h-5.2zM141.4 425h5.2v1h-5.2zM147.4 111h5.2v1.5h-5.2zM147.4 404h5.2v1.5h-5.2zM147.4 507.5h5.2v1h-5.2zM153.4 156.5h5.2v1.5h-5.2zM153.4 226h5.2v1.5h-5.2zM153.4 356h5.2v1.5h-5.2zM159.4 94.5h5.2v1.5h-5.2zM159.4 264h5.2v1.5h-5.2zM159.4 291.5h5.2v2h-5.2zM159.4 522.5h5.2v1.5h-5.2zM165.4 178.5h5.2v1.5h-5.2zM165.4 282.5h5.2v1h-5.2zM165.4 404h5.2v1.5h-5.2zM165.4 586h5.2v1h-5.2zM165.4 597h5.2v1.5h-5.2zM171.4 314h5.2v1h-5.2zM171.4 342.5h5.2v2h-5.2zM171.4 393h5.2v1h-5.2zM171.4 586h5.2v2h-5.2zM177.4 505h5.2v1.5h-5.2zM183.4 121.5h5.2v2h-5.2zM183.4 180.5h5.2v2h-5.2zM189.4 82.5h5.2v1.5h-5.2zM189.4 271.5h5.2v2h-5.2zM195.4 261.5h5.2v2h-5.2zM195.4 341h5.2v1h-5.2zM201.4 237.5h5.2v1.5h-5.2zM201.4 459.5h5.2v2h-5.2zM201.4 562.5h5.2v2h-5.2zM207.4 93.5h5.2v2h-5.2zM207.4 145.5h5.2v1h-5.2zM207.4 384.5h5.2v1h-5.2zM213.4 360h5.2v1h-5.2zM219.4 211.5h5.2v1.5h-5.2zM219.4 234.5h5.2v2h-5.2zM219.4 327h5.2v2h-5.2zM219.4 354.5h5.2v2h-5.2zM219.4 425.5h5.2v2h-5.2zM219.4 474.5h5.2v1h-5.2zM225.4 121h5.2v2h-5.2zM225.4 178.5h5.2v2h-5.2zM237.4 412.5h5.2v2h-5.2zM243.4 272.5h5.2v2h-5.2zM243.4 468h5.2v2h-5.2zM243.4 510.5h5.2v1.5h-5.2zM243.4 582h5.2v2h-5.2zM243.4 592h5.2v1h-5.2zM249.4 145h5.2v1.5h-5.2zM249.4 232.5h5.2v1.5h-5.2zM249.4 399.5h5.2v1h-5.2zM255.4 255.5h5.2v1h-5.2zM255.4 260.5h5.2v1h-5.2zM255.4 261.5h5.2v1h-5.2zM255.4 301h5.2v2h-5.2zM255.4 519.5h5.2v1h-5.2zM261.4 486.5h5.2v1.5h-5.2zM267.4 102h5.2v2h-5.2zM267.4 248.5h5.2v1.5h-5.2zM267.4 290.5h5.2v1h-5.2zM267.4 450.5h5.2v2h-5.2zM267.4 452.5h5.2v1.5h-5.2zM267.4 507.5h5.2v2h-5.2zM273.4 311.5h5.2v2h-5.2zM273.4 314.5h5.2v1.5h-5.2zM273.4 335h5.2v2h-5.2zM273.4 494.5h5.2v1.5h-5.2zM273.4 559h5.2v1h-5.2zM279.4 498.5h5.2v2h-5.2zM285.4 228h5.2v1h-5.2zM285.4 305.5h5.2v2h-5.2zM285.4 357h5.2v1h-5.2zM285.4 442.5h5.2v1h-5.2zM285.4 526.5h5.2v1.5h-5.2zM291.4 151.5h5.2v1h-5.2zM291.4 176h5.2v2h-5.2zM291.4 244h5.2v2h-5.2zM291.4 372h5.2v2h-5.2zM291.4 441h5.2v1.5h-5.2zM291.4 540h5.2v2h-5.2zM297.4 485h5.2v1.5h-5.2zM297.4 501.5h5.2v2h-5.2zM297.4 540.5h5.2v1h-5.2zM309.4 166.5h5.2v1.5h-5.2zM309.4 186.5h5.2v1h-5.2zM309.4 317h5.2v2h-5.2zM309.4 351.5h5.2v1h-5.2zM315.4 342.5h5.2v1h-5.2zM315.4 512.5h5.2v1h-5.2zM321.4 167.5h5.2v2h-5.2zM327.4 512.5h5.2v1.5h-5.2zM333.4 101h5.2v2h-5.2zM333.4 274h5.2v1.5h-5.2zM333.4 349h5.2v1h-5.2zM333.4 374h5.2v1.5h-5.2zM333.4 449h5.2v1h-5.2zM333.4 460h5.2v1.5h-5.2zM333.4 564h5.2v1.5h-5.2zM339.4 264.5h5.2v1h-5.2zM339.4 380.5h5.2v1.5h-5.2zM345.4 177h5.2v1h-5.2zM351.4 578h5.2v1.5h-5.2zM351.4 588h5.2v1h-5.2zM357.4 191h5.2v2h-5.2zM357.4 232h5.2v1.5h-5.2zM357.4 439h5.2v1h-5.2zM363.4 128.5h5.2v2h-5.2zM363.4 189.5h5.2v2h-5.2zM363.4 221h5.2v1.5h-5.2zM363.4 362.5h5.2v2h-5.2zM369.4 84.5h5.2v2h-5.2zM369.4 108h5.2v1.5h-5.2zM369.4 168h5.2v1h-5.2zM375.4 141h5.2v2h-5.2zM375.4 157h5.2v2h-5.2zM375.4 247.5h5.2v1.5h-5.2zM375.4 321h5.2v2h-5.2zM375.4 525h5.2v2h-5.2zM381.4 141.5h5.2v1.5h-5.2zM381.4 275.5h5.2v1h-5.2zM381.4 570h5.2v1h-5.2zM387.4 370.5h5.2v1.5h-5.2zM387.4 498.5h5.2v1h-5.2zM393.4 292h5.2v2h-5.2zM393.4 308.5h5.2v1.5h-5.2zM399.4 111h5.2v1.5h-5.2zM399.4 214h5.2v2h-5.2zM399.4 291h5.2v1h-5.2zM399.4 407.5h5.2v1h-5.2zM399.4 494.5h5.2v1.5h-5.2zM399.4 500.5h5.2v1h-5.2zM399.4 518.5h5.2v2h-5.2zM405.4 115.5h5.2v1h-5.2zM405.4 154h5.2v1.5h-5.2zM405.4 155.5h5.2v2h-5.2zM405.4 469.5h5.2v2h-5.2zM405.4 574.5h5.2v1h-5.2zM411.4 119.5h5.2v1.5h-5.2zM411.4 431.5h5.2v2h-5.2zM411.4 447h5.2v2h-5.2zM411.4 569h5.2v1h-5.2zM417.4 98h5.2v1.5h-5.2zM417.4 380.5h5.2v2h-5.2zM417.4 447h5.2v1.5h-5.2zM429.4 141.5h5.2v1.5h-5.2zM429.4 251.5h5.2v1h-5.2zM435.4 199h5.2v1h-5.2zM435.4 263.5h5.2v1.5h-5.2zM435.4 288.5h5.2v2h-5.2zM435.4 341h5.2v1.5h-5.2zM447.4 122h5.2v2h-5.2zM447.4 496.5h5.2v1h-5.2zM447.4 506.5h5.2v2h-5.2z"/>
<path fill="#f1f1fe" d="M15.4 490.5h5.2v2h-5.2zM15.4 555h5.2v1.5h-5.2zM27.4 306h5.2v2h-5.2zM27.4 363h5.2v1h-5.2zM33.4 408.5h5.2v1h-5.2zM45.4 236.5h5.2v1h-5.2zM45.4 526.5h5.2v2h-5.2zM51.4 147h5.2v2h-5.2zM51.4 414.5h5.2v2h-5.2zM51.4 447.5h5.2v1h-5.2zM51.4 475h5.2v1h-5.2zM57.4 264h5.2v2h-5.2zM57.4 393h5.2v2h-5.2zM63.4 532.5h5.2v1h-5.2zM69.4 560h5.2v1.5h-5.2zM75.4 156h5.2v2h-5.2zM75.4 167h5.2v1.5h-5.2zM75.4 178h5.2v1.5h-5.2zM75.4 564h5.2v1h-5.2zM81.4 401.5h5.2v2h-5.2zM87.4 272.5h5.2v1.5h-5.2zM87.4 349h5.2v1h-5.2zM87.4 569h5.2v1.5h-5.2zM93.4 320.5h5.2v1h-5.2zM93.4 328h5.2v1.5h-5.2zM99.4 381h5.2v1h-5.2zM105.4 585h5.2v2h-5.2zM123.4 132h5.2v1.5h-5.2zM129.4 95h5.2v1h-5.2zM129.4 318h5.2v1.5h-5.2zM141.4 100.5h5.2v1h-5.2zM141.4 130h5.2v1h-5.2zM141.4 378h5.2v1h-5.2zM141.4 487.5h5.2v2h-5.2zM147.4 113.5h5.2v1h-5.2zM147.4 178h5.2v1h-5.2zM147.4 402h5.2v1h-5.2zM153.4 94.5h5.2v1.5h-5.2zM159.4 364h5.2v2h-5.2zM159.4 590h5.2v1.5h-5.2zM159.4 594h5.2v1h-5.2zM165.4 175h5.2v1.5h-5.2zM165.4 350.5h5.2v1h-5.2zM171.4 189h5.2v1.5h-5.2zM171.4 220.5h5.2v2h-5.2zM177.4 80h5.2v1.5h-5.2zM177.4 149.5h5.2v1h-5.2zM183.4 320.5h5.2v2h-5.2zM189.4 290.5h5.2v1h-5.2zM195.4 210.5h5.2v2h-5.2zM195.4 547h5.2v1h-5.2zM201.4 324.5h5.2v1h-5.2zM207.4 230.5h5.2v1h-5.2zM207.4 272.5h5.2v1h-5.2zM207.4 313.5h5.2v2h-5.2zM207.4 332h5.2v1h-5.2zM207.4 438h5.2v1h-5.2zM207.4 591h5.2v1h-5.2zM213.4 95h5.2v2h-5.2zM219.4 161.5h5.2v1h-5.2zM219.4 337.5h5.2v1.5h-5.2zM225.4 539.5h5.2v2h-5.2zM237.4 155h5.2v1h-5.2zM237.4 161h5.2v2h-5.2zM237.4 231h5.2v2h-5.2zM243.4 436h5.2v1.5h-5.2zM243.4 520.5h5.2v1h-5.2zM249.4 128h5.2v1.5h-5.2zM255.4 296.5h5.2v2h-5.2zM261.4 391h5.2v1.5h-5.2zM261.4 492.5h5.2v1.5h-5.2zM267.4 198.5h5.2v1.5h-5.2zM267.4 216h5.2v2h-5.2zM267.4 270h5.2v1.5h-5.2zM267.4 553h5.2v2h-5.2zM273.4 586h5.2v1h-5.2zM279.4 292h5.2v2h-5.2zM285.4 162h5.2v2h-5.2zM285.4 280h5.2v2h-5.2zM285.4 331h5.2v1h-5.2zM285.4 449.5h5.2v2h-5.2zM309.4 203h5.2v2h-5.2zM309.4 287h5.2v1.5h-5.2zM315.4 533h5.2v2h-5.2zM327.4 184.5h5.2v2h-5.2zM327.4 207h5.2v1.5h-5.2zM327.4 399h5.2v1.5h-5.2zM327.4 489.5h5.2v2h-5.2zM333.4 446.5h5.2v1h-5.2zM339.4 87.5h5.2v2h-5.2zM339.4 386h5.2v1.5h-5.2zM339.4 492h5.2v1h-5.2zM345.4 83h5.2v2h-5.2zM345.4 106.5h5.2v2h-5.2zM357.4 189.5h5.2v1.5h-5.2zM375.4 504.5h5.2v1h-5.2zM387.4 264.5h5.2v1h-5.2zM399.4 391h5.2v2h-5.2zM399.4 416h5.2v2h-5.2zM399.4 445h5.2v1.5h-5.2zM411.4 380h5.2v1.5h-5.2zM411.4 517h5.2v1h-5.2zM417.4 439h5.2v2h-5.2zM417.4 505.5h5.2v1h-5.2zM423.4 226.5h5.2v2h-5.2zM429.4 168h5.2v2h-5.2zM435.4 569h5.2v1.5h-5.2zM441.4 182h5.2v1h-5.2zM441.4 582.5h5.2v2h-5.2zM447.4 526.5h5.2v1.5h-5.2z"/>
<path fill="#eeeefe" d="M15.4 582.5h5.2v1.5h-5.2zM21.4 178.5h5.2v2h-5.2zM21.4 470h5.2v1h-5.2zM21.4 488.5h5.2v1h-5.2zM21.4 571.5h5.2v2h-5.2zM27.4 86.5h5.2v2h-5.2zM27.4 429.5h5.2v1h-5.2zM27.4 449.5h5.2v1.5h-5.2zM27.4 525.5h5.2v1h-5.2zM33.4 190h5.2v2h-5.2zM39.4 393.5h5.2v1.5h-5.2zM39.4 564.5h5.2v2h-5.2zM45.4 80h5.2v1h-5.2zM45.4 211.5h5.2v1h-5.2zM51.4 388h5.2v2h-5.2zM63.4 384.5h5.2v1h-5.2zM69.4 231h5.2v1h-5.2zM81.4 375.5h5.2v2h-5.2zM87.4 139h5.2v1h-5.2zM87.4 469.5h5.2v1.5h-5.2zM87.4 596.5h5.2v2h-5.2zM93.4 142h5.2v1h-5.2zM99.4 438.5h5.2v1h-5.2zM99.4 466h5.2v2h-5.2zM105.4 292.5h5.2v2h-5.2zM105.4 528h5.2v1h-5.2zM111.4 228h5.2v1.5h-5.2zM111.4 303h5.2v2h-5.2zM117.4 90.5h5.2v1h-5.2zM117.4 275h5.2v1h-5.2zM123.4 106h5.2v2h-5.2zM123.4 332.5h5.2v2h-5.2zM123.4 396.5h5.2v1h-5.2zM123.4 404h5.2v2h-5.2zM123.4 407h5.2v1.5h-5.2zM129.4 111.5h5.2v2h-5.2zM135.4 437.5h5.2v1.5h-5.2zM141.4 91.5h5.2v1h-5.2zM153.4 362h5.2v1.5h-5.2zM153.4 461h5.2v2h-5.2zM159.4 87.5h5.2v1h-5.2zM159.4 478h5.2v1h-5.2zM159.4 515h5.2v1h-5.2zM165.4 283.5h5.2v1.5h-5.2zM171.4 458h5.2v2h-5.2zM177.4 267.5h5.2v1h-5.2zM177.4 447.5h5.2v2h-5.2zM177.4 580h5.2v2h-5.2zM183.4 541.5h5.2v1.5h-5.2zM189.4 95h5.2v2h-5.2zM189.4 300.5h5.2v2h-5.2zM189.4 568h5.2v2h-5.2zM195.4 214.5h5.2v1.5h-5.2zM201.4 102h5.2v1.5h-5.2zM201.4 284h5.2v1h-5.2zM201.4 412h5.2v2h-5.2zM201.4 453.5h5.2v2h-5.2zM207.4 132.5h5.2v2h-5.2zM207.4 187h5.2v2h-5.2zM213.4 552.5h5.2v1h-5.2zM219.4 397h5.2v1h-5.2zM225.4 272.5h5.2v1.5h-5.2zM225.4 522.5h5.2v2h-5.2zM237.4 221.5h5.2v1h-5.2zM237.4 325h5.2v1.5h-5.2zM237.4 505h5.2v1h-5.2zM237.4 568.5h5.2v1h-5.2zM237.4 569.5h5.2v2h-5.2zM243.4 134.5h5.2v1.5h-5.2zM243.4 149.5h5.2v2h-5.2zM243.4 285.5h5.2v1.5h-5.2zM249.4 177h5.2v2h-5.2zM249.4 564.5h5.2v1.5h-5.2zM255.4 477.5h5.2v1h-5.2zM255.4 575h5.2v1h-5.2zM261.4 296h5.2v2h-5.2zM261.4 382h5.2v1h-5.2zM267.4 139h5.2v1.5h-5.2zM267.4 481.5h5.2v2h-5.2zM285.4 164h5.2v2h-5.2zM285.4 481h5.2v1h-5.2zM285.4 500h5.2v2h-5.2zM285.4 547h5.2v1.5h-5.2zM291.4 419h5.2v1.5h-5.2zM291.4 498.5h5.2v1.5h-5.2zM297.4 94.5h5.2v1h-5.2zM297.4 244.5h5.2v1.5h-5.2zM297.4 258h5.2v2h-5.2zM309.4 296h5.2v1h-5.2zM309.4 431h5.2v2h-5.2zM315.4 164.5h5.2v2h-5.2zM315.4 172.5h5.2v1h-5.2zM315.4 177h5.2v1.5h-5.2zM315.4 234h5.2v1.5h-5.2zM315.4 465.5h5.2v2h-5.2zM321.4 124.5h5.2v1h-5.2zM333.4 94.5h5.2v2h-5.2zM333.4 549h5.2v2h-5.2zM339.4 407.5h5.2v1.5h-5.2zM339.4 414.5h5.2v1h-5.2zM345.4 569.5h5.2v1.5h-5.2zM351.4 124.5h5.2v2h-5.2zM351.4 416.5h5.2v2h-5.2zM351.4 441h5.2v2h-5.2zM357.4 220h5.2v1.5h-5.2zM363.4 127h5.2v1.5h-5.2zM363.4 210.5h5.2v1h-5.2zM375.4 527h5.2v1h-5.2zM381.4 187h5.2v1h-5.2zM387.4 119.5h5.2v2h-5.2zM387.4 488h5.2v1.5h-5.2zM393.4 187h5.2v1.5h-5.2zM393.4 189.5h5.2v1.5h-5.2zM393.4 333h5.2v2h-5.2zM411.4 224.5h5.2v1.5h-5.2zM411.4 433.5h5.2v1h-5.2zM411.4 553h5.2v1h-5.2zM411.4 554h5.2v1.5h-5.2zM417.4 140.5h5.2v2h-5.2zM417.4 151h5.2v1.5h-5.2zM417.4 163h5.2v1h-5.2zM423.4 448.5h5.2v1h-5.2zM429.4 89h5.2v2h-5.2zM429.4 258h5.2v2h-5.2zM429.4 266.5h5.2v1.5h-5.2zM429.4 274h5.2v1h-5.2zM429.4 327.5h5.2v1h-5.2zM435.4 226h5.2v1.5h-5.2zM441.4 220h5.2v2h-5.2zM441.4 288h5.2v1h-5.2zM447.4 358h5.2v2h-5.2z"/>
<path fill="#fdeeee" d="M21.4 113h5.2v22h-5.2zM15.4 252h5.2v51h-5.2zM15.4 303h5.2v30h-5.2zM27.4 252h5.2v51h-5.2zM15.4 415h5.2v15h-5.2zM15.4 438h5.2v18h-5.2zM63.4 415h5.2v15h-5.2zM87.4 82h5.2v52h-5.2zM117.4 127h5.2v7h-5.2zM117.4 151h5.2v26h-5.2zM129.4 82h5.2v52h-5.2zM93.4 253.5h5.2v49.1h-5.2zM123.4 253.5h5.2v49.1h-5.2zM87.4 420h5.2v10h-5.2zM111.4 420h5.2v10h-5.2zM117.4 420h5.2v10h-5.2zM123.4 563h5.2v34h-5.2zM129.4 420h5.2v10h-5.2zM141.4 420h5.2v10h-5.2zM183.4 490h5.2v22h-5.2zM237.4 183h5.2v14h-5.2zM243.4 183h5.2v14h-5.2zM243.4 200h5.2v31h-5.2zM261.4 207h5.2v4h-5.2zM267.4 114h5.2v20h-5.2zM243.4 262h5.2v39h-5.2zM327.4 253.5h5.2v49.1h-5.2zM351.4 253h5.2v49h-5.2zM327.4 531h5.2v20h-5.2zM375.4 253.5h5.2v49.2h-5.2zM405.4 563h5.2v34h-5.2zM135.4 397.5h5.2v32.5h-5.2z"/>
<path fill="#f9d6d6" d="M21.4 127h5.2v4h-5.2zM27.4 234h5.2v9h-5.2zM45.4 137h5.2v4h-5.2zM57.4 148h5.2v3h-5.2zM63.4 122h5.2v19h-5.2zM75.4 112h5.2v15h-5.2zM81.4 137h5.2v4h-5.2zM27.4 320h5.2v10h-5.2zM27.4 364h5.2v3h-5.2zM27.4 408h5.2v8h-5.2zM57.4 391h5.2v1.6h-5.2zM57.4 397.7h5.2v22.3h-5.2zM63.4 397h5.2v23h-5.2zM69.4 355h5.2v3.6h-5.2zM69.4 296h5.2v2h-5.2zM75.4 323h5.2v10h-5.2zM15.4 562h5.2v35h-5.2zM21.4 533h5.2v10h-5.2zM27.4 492h5.2v4h-5.2zM27.4 562h5.2v35h-5.2zM39.4 513h5.2v2h-5.2zM45.4 433h5.2v4.4h-5.2zM57.4 415h5.2v15h-5.2zM69.4 460.7h5.2v2.7h-5.2zM69.4 521.6h5.2v2.4h-5.2zM75.4 563h5.2v34h-5.2zM93.4 151h5.2v29h-5.2zM99.4 197h5.2v34h-5.2zM123.4 200h5.2v27.5h-5.2zM135.4 139h5.2v10.5h-5.2zM135.4 224h5.2v19h-5.2zM141.4 136h5.2v5h-5.2zM147.4 231h5.2v2.5h-5.2zM153.4 136h5.2v6h-5.2zM93.4 390.7h5.2v3.3h-5.2zM99.4 402.5h5.2v10.2h-5.2zM117.4 339h5.2v14.4h-5.2zM123.4 357h5.2v40h-5.2zM129.4 253.5h5.2v49.1h-5.2zM99.4 439h5.2v16h-5.2zM99.4 476h5.2v9h-5.2zM123.4 439h5.2v16h-5.2zM123.4 477.5h5.2v7.5h-5.2zM123.4 545.5h5.2v14h-5.2zM135.4 595h5.2v2h-5.2zM141.4 563h5.2v14h-5.2zM147.4 563h5.2v34h-5.2zM153.4 431h5.2v7h-5.2zM165.4 151h5.2v29h-5.2zM171.4 80h5.2v3.5h-5.2zM171.4 129h5.2v5h-5.2zM177.4 200h5.2v31h-5.2zM183.4 200h5.2v27.5h-5.2zM189.4 114h5.2v20h-5.2zM189.4 139.4h5.2v2.6h-5.2zM171.4 328h5.2v2h-5.2zM171.4 380.5h5.2v5.1h-5.2zM189.4 304h5.2v63h-5.2zM213.4 397.5h5.2v22.5h-5.2zM219.4 378.8h5.2v6.8h-5.2zM171.4 498.5h5.2v2.5h-5.2zM183.4 531.6h5.2v10.4h-5.2zM189.4 531.6h5.2v10.4h-5.2zM213.4 420h5.2v10h-5.2zM213.4 531h5.2v11h-5.2zM219.4 531.6h5.2v10.4h-5.2zM237.4 136h5.2v5h-5.2zM243.4 153h5.2v27h-5.2zM249.4 153h5.2v17h-5.2zM261.4 137.7h5.2v3.3h-5.2zM279.4 112h5.2v10.4h-5.2zM237.4 340h5.2v13h-5.2zM243.4 253.5h5.2v3.5h-5.2zM243.4 365h5.2v4h-5.2zM243.4 387h5.2v7h-5.2zM261.4 367h5.2v7h-5.2zM285.4 253.5h5.2v103.5h-5.2zM237.4 441h5.2v14h-5.2zM237.4 466h5.2v4h-5.2zM237.4 526h5.2v16h-5.2zM243.4 554h5.2v5.5h-5.2zM261.4 577h5.2v20h-5.2zM267.4 575h5.2v22h-5.2zM273.4 523h5.2v1.6h-5.2zM273.4 528h5.2v3h-5.2zM291.4 559.5h5.2v3.5h-5.2zM297.4 483h5.2v2h-5.2zM309.4 136h5.2v5h-5.2zM315.4 197h5.2v1.5h-5.2zM339.4 153h5.2v8h-5.2zM339.4 232.5h5.2v1.5h-5.2zM345.4 88.5h5.2v23.5h-5.2zM345.4 200h5.2v10.5h-5.2zM351.4 88.5h5.2v23.5h-5.2zM351.4 141h5.2v2h-5.2zM351.4 234h5.2v4h-5.2zM309.4 402.5h5.2v5.1h-5.2zM321.4 253.5h5.2v10.1h-5.2zM321.4 297.5h5.2v5.1h-5.2zM321.4 318h5.2v5h-5.2zM327.4 326h5.2v27h-5.2zM327.4 399h5.2v31h-5.2zM339.4 253.5h5.2v49.1h-5.2zM339.4 333h5.2v5h-5.2zM339.4 397.5h5.2v32.5h-5.2zM345.4 373.7h5.2v10.3h-5.2zM357.4 373.7h5.2v23.8h-5.2zM363.4 258.5h5.2v5.1h-5.2zM363.4 397.5h5.2v8.5h-5.2zM363.4 321h5.2v3h-5.2zM309.4 563h5.2v34h-5.2zM309.4 532.5h5.2v3.5h-5.2zM309.4 530h5.2v3h-5.2zM315.4 527h5.2v4.6h-5.2zM315.4 430.5h5.2v6.9h-5.2zM321.4 430.5h5.2v6.9h-5.2zM327.4 490h5.2v22.4h-5.2zM333.4 430.5h5.2v6.9h-5.2zM339.4 420h5.2v10.5h-5.2zM339.4 430.5h5.2v6.9h-5.2zM339.4 515h5.2v2h-5.2zM345.4 442.7h5.2v12.3h-5.2zM351.4 442.7h5.2v12.3h-5.2zM375.4 175h5.2v3.5h-5.2zM381.4 221h5.2v10h-5.2zM393.4 143.7h5.2v2.3h-5.2zM405.4 85h5.2v8.6h-5.2zM405.4 136h5.2v7h-5.2zM405.4 152h5.2v11h-5.2zM423.4 112h5.2v15.6h-5.2zM429.4 197h5.2v18.7h-5.2zM435.4 152h5.2v11h-5.2zM435.4 199h5.2v16.7h-5.2zM447.4 85h5.2v24h-5.2zM381.4 258.5h5.2v44.2h-5.2zM381.4 319.6h5.2v13.4h-5.2zM393.4 255h5.2v47.7h-5.2zM393.4 319.6h5.2v13.4h-5.2zM393.4 358.6h5.2v5.1h-5.2zM423.4 397.6h5.2v22.4h-5.2zM429.4 397.6h5.2v22.4h-5.2zM435.4 253.5h5.2v49.2h-5.2zM435.4 374h5.2v17h-5.2zM375.4 477.6h5.2v7h-5.2zM429.4 420h5.2v7h-5.2zM429.4 532.5h5.2v9.5h-5.2zM435.4 491.5h5.2v1.5h-5.2zM435.4 496.8h5.2v15.7h-5.2z"/>
<path fill="#d6d6f7" d="M27.4 81h5.2v38h-5.2zM27.4 136h5.2v7h-5.2zM27.4 152h5.2v20h-5.2zM27.4 181h5.2v16h-5.2zM45.4 157h5.2v10h-5.2zM75.4 81h5.2v31h-5.2zM75.4 152h5.2v23h-5.2zM75.4 181h5.2v16h-5.2zM75.4 234h5.2v17h-5.2zM21.4 357h5.2v3h-5.2zM27.4 245h5.2v7h-5.2zM27.4 304h5.2v16h-5.2zM27.4 330h5.2v3h-5.2zM27.4 334h5.2v23h-5.2zM27.4 397.7h5.2v6.8h-5.2zM27.4 416h5.2v4h-5.2zM45.4 334h5.2v4h-5.2zM45.4 394h5.2v3.7h-5.2zM69.4 397.7h5.2v5.3h-5.2zM75.4 263.7h5.2v39h-5.2zM75.4 335h5.2v3h-5.2zM75.4 355h5.2v12h-5.2zM75.4 391h5.2v6.7h-5.2zM75.4 397.7h5.2v15.3h-5.2zM81.4 341.7h5.2v3.3h-5.2zM21.4 431h5.2v3h-5.2zM27.4 420h5.2v4h-5.2zM27.4 440h5.2v6h-5.2zM27.4 458h5.2v11h-5.2zM27.4 486h5.2v4h-5.2zM45.4 486h5.2v4h-5.2zM69.4 549.5h5.2v1.5h-5.2zM75.4 439h5.2v17h-5.2zM75.4 458h5.2v18h-5.2zM75.4 490h5.2v25h-5.2zM75.4 521h5.2v21h-5.2zM75.4 557h5.2v3h-5.2zM81.4 442h5.2v14h-5.2zM123.4 181h5.2v16h-5.2zM123.4 242h5.2v4h-5.2zM135.4 85h5.2v22h-5.2zM135.4 115.6h5.2v13.4h-5.2zM135.4 185h5.2v39h-5.2zM93.4 396.6h5.2v5.1h-5.2zM123.4 247h5.2v3h-5.2zM123.4 387h5.2v3.7h-5.2zM135.4 316h5.2v12h-5.2zM93.4 480h5.2v10h-5.2zM93.4 532.4h5.2v10.6h-5.2zM123.4 431h5.2v7h-5.2zM123.4 524.6h5.2v7.8h-5.2zM135.4 432h5.2v6h-5.2zM135.4 439h5.2v16h-5.2zM159.4 85h5.2v1.5h-5.2zM159.4 91h5.2v1.5h-5.2zM159.4 99h5.2v1.5h-5.2zM159.4 107h5.2v1.5h-5.2zM159.4 241h5.2v9h-5.2zM171.4 183h5.2v4h-5.2zM177.4 82h5.2v23.5h-5.2zM177.4 147h5.2v4h-5.2zM177.4 152h5.2v28h-5.2zM225.4 241h5.2v9h-5.2zM159.4 253.5h5.2v47.5h-5.2zM159.4 363.6h5.2v8.4h-5.2zM177.4 304h5.2v29h-5.2zM219.4 245h5.2v6h-5.2zM159.4 439h5.2v16h-5.2zM165.4 522h5.2v2h-5.2zM171.4 519h5.2v5.6h-5.2zM243.4 82h5.2v3h-5.2zM243.4 95h5.2v14h-5.2zM243.4 110.6h5.2v20.4h-5.2zM243.4 139h5.2v12h-5.2zM261.4 84h5.2v9.6h-5.2zM273.4 163h5.2v2.6h-5.2zM273.4 207h5.2v8.6h-5.2zM291.4 81.8h5.2v30.2h-5.2zM297.4 98.7h5.2v5.1h-5.2zM297.4 119h5.2v15h-5.2zM231.4 245h5.2v7h-5.2zM237.4 304h5.2v10.5h-5.2zM243.4 316h5.2v7h-5.2zM243.4 340h5.2v13h-5.2zM273.4 257h5.2v1.5h-5.2zM273.4 312h5.2v1.5h-5.2zM291.4 262h5.2v39h-5.2zM291.4 363.6h5.2v16.4h-5.2zM291.4 382h5.2v14h-5.2zM297.4 340h5.2v13h-5.2zM297.4 375h5.2v1.5h-5.2zM243.4 460h5.2v3.6h-5.2zM243.4 538.5h5.2v12.5h-5.2zM255.4 563h5.2v34h-5.2zM261.4 431h5.2v3h-5.2zM273.4 432h5.2v2h-5.2zM291.4 437.4h5.2v17.6h-5.2zM291.4 458h5.2v11h-5.2zM291.4 528h5.2v5.3h-5.2zM297.4 542h5.2v9h-5.2zM315.4 110.6h5.2v23.4h-5.2zM315.4 151h5.2v9h-5.2zM315.4 200h5.2v7h-5.2zM327.4 198.7h5.2v7.3h-5.2zM345.4 142.8h5.2v23.7h-5.2zM345.4 215.6h5.2v15.4h-5.2zM369.4 98.7h5.2v5.3h-5.2zM369.4 231h5.2v2.5h-5.2zM345.4 304h5.2v20.6h-5.2zM345.4 358.5h5.2v5.1h-5.2zM369.4 363.6h5.2v3.4h-5.2zM327.4 486h5.2v4h-5.2zM345.4 456.6h5.2v102.9h-5.2zM369.4 442.7h5.2v3.3h-5.2zM369.4 575h5.2v4h-5.2zM369.4 547h5.2v2h-5.2zM387.4 97h5.2v1.5h-5.2zM393.4 183h5.2v14h-5.2zM393.4 210.5h5.2v5.2h-5.2zM405.4 243h5.2v7h-5.2zM429.4 127.6h5.2v2.4h-5.2zM429.4 183h5.2v14h-5.2zM429.4 224h5.2v2h-5.2zM441.4 98.7h5.2v5.1h-5.2zM441.4 182h5.2v15h-5.2zM447.4 80h5.2v2.6h-5.2zM429.4 323h5.2v3.4h-5.2zM435.4 357h5.2v5h-5.2zM393.4 430.5h5.2v6.9h-5.2zM393.4 545.6h5.2v3.4h-5.2zM405.4 515.5h5.2v1.5h-5.2zM435.4 563h5.2v34h-5.2zM441.4 441h5.2v7h-5.2zM441.4 544h5.2v7h-5.2z"/>
<path fill="#ee8282" d="M27.4 231h5.2v2.5h-5.2zM75.4 127h5.2v9h-5.2zM69.4 413h5.2v7h-5.2zM147.4 199h5.2v11.5h-5.2zM147.4 513h5.2v4.6h-5.2zM177.4 127.5h5.2v8.5h-5.2zM177.4 392h5.2v5.5h-5.2zM189.4 332h5.2v2h-5.2zM219.4 333h5.2v2.6h-5.2zM189.4 563h5.2v34h-5.2zM201.4 513h5.2v4h-5.2zM297.4 218h5.2v2h-5.2zM303.4 387h5.2v7h-5.2zM243.4 432h5.2v4.6h-5.2zM243.4 582h5.2v15h-5.2zM291.4 496.7h5.2v3.3h-5.2zM291.4 524.6h5.2v1.7h-5.2zM363.4 198.7h5.2v11.8h-5.2zM303.4 386.5h5.2v5.9h-5.2zM321.4 390h5.2v2.4h-5.2zM333.4 323h5.2v1.6h-5.2zM327.4 512.4h5.2v5.2h-5.2zM345.4 568h5.2v5h-5.2zM369.4 582h5.2v15h-5.2zM381.4 139h5.2v2h-5.2zM393.4 178.4h5.2v2.6h-5.2zM411.4 232.7h5.2v8.3h-5.2zM417.4 143.7h5.2v3.3h-5.2zM417.4 178.4h5.2v2.6h-5.2zM423.4 234.4h5.2v15.6h-5.2zM423.4 245h5.2v6.8h-5.2zM429.4 245h5.2v6.8h-5.2zM435.4 324.7h5.2v8.3h-5.2zM387.4 582h5.2v15h-5.2zM423.4 532.5h5.2v10.5h-5.2zM441.4 582h5.2v15h-5.2zM69.4 420h5.2v8h-5.2z"/>
<path fill="#b4b4ee" d="M27.4 244h5.2v7h-5.2zM39.4 246h5.2v5h-5.2zM57.4 246h5.2v5h-5.2zM69.4 115h5.2v14h-5.2zM69.4 143h5.2v5h-5.2zM69.4 246h5.2v5h-5.2zM81.4 163h5.2v1.5h-5.2zM81.4 197h5.2v1.5h-5.2zM39.4 245h5.2v7h-5.2zM39.4 336h5.2v3h-5.2zM57.4 245h5.2v7h-5.2zM69.4 245h5.2v7h-5.2zM69.4 334h5.2v3.5h-5.2zM75.4 318h5.2v5h-5.2zM81.4 335h5.2v5h-5.2zM39.4 537h5.2v3.5h-5.2zM57.4 433h5.2v2h-5.2zM69.4 482h5.2v4h-5.2zM69.4 557.5h5.2v2.5h-5.2zM81.4 544h5.2v4h-5.2zM81.4 563h5.2v34h-5.2zM99.4 132h5.2v1.5h-5.2zM129.4 242h5.2v3h-5.2zM135.4 81h5.2v2h-5.2zM141.4 246h5.2v4h-5.2zM147.4 190h5.2v5h-5.2zM153.4 243h5.2v4h-5.2zM153.4 196h5.2v2h-5.2zM129.4 363.6h5.2v3.4h-5.2zM147.4 246.7h5.2v5.1h-5.2zM153.4 245h5.2v2h-5.2zM99.4 556.5h5.2v1.5h-5.2zM147.4 459h5.2v3h-5.2zM147.4 556h5.2v2h-5.2zM153.4 480h5.2v5.4h-5.2zM171.4 163h5.2v3.5h-5.2zM177.4 137h5.2v1.5h-5.2zM183.4 246h5.2v4h-5.2zM189.4 179h5.2v2h-5.2zM195.4 179h5.2v2h-5.2zM219.4 163h5.2v1.5h-5.2zM165.4 336.5h5.2v6.5h-5.2zM165.4 345.8h5.2v1.7h-5.2zM171.4 245h5.2v7h-5.2zM171.4 302.6h5.2v1.4h-5.2zM171.4 311h5.2v7h-5.2zM171.4 357h5.2v3h-5.2zM165.4 458h5.2v3h-5.2zM183.4 479h5.2v2h-5.2zM183.4 483.6h5.2v7h-5.2zM207.4 499h5.2v1.5h-5.2zM219.4 430.5h5.2v3.5h-5.2zM219.4 563h5.2v34h-5.2zM237.4 153h5.2v1.6h-5.2zM243.4 134h5.2v2h-5.2zM273.4 242h5.2v3h-5.2zM291.4 88h5.2v2h-5.2zM291.4 96h5.2v2h-5.2zM291.4 104h5.2v2h-5.2zM291.4 185h5.2v12h-5.2zM291.4 245h5.2v5h-5.2zM297.4 166.5h5.2v10.1h-5.2zM237.4 245h5.2v7h-5.2zM243.4 333h5.2v7h-5.2zM261.4 337h5.2v2h-5.2zM291.4 339h5.2v14h-5.2zM291.4 361h5.2v2.6h-5.2zM297.4 409h5.2v3.7h-5.2zM291.4 514h5.2v2.8h-5.2zM309.4 102h5.2v1.5h-5.2zM315.4 188.5h5.2v1.5h-5.2zM315.4 239h5.2v1.5h-5.2zM333.4 80h5.2v2.6h-5.2zM339.4 180h5.2v1.5h-5.2zM339.4 193.5h5.2v1.5h-5.2zM345.4 136h5.2v6h-5.2zM345.4 166.5h5.2v5.9h-5.2zM369.4 129h5.2v2h-5.2zM369.4 167h5.2v1.5h-5.2zM369.4 173h5.2v1.5h-5.2zM369.4 179h5.2v1.5h-5.2zM369.4 246h5.2v4h-5.2zM315.4 363.6h5.2v5.1h-5.2zM321.4 363.6h5.2v6.8h-5.2zM363.4 333h5.2v3.5h-5.2zM369.4 246.7h5.2v5.1h-5.2zM369.4 380.5h5.2v3.5h-5.2zM369.4 390.7h5.2v6.8h-5.2zM369.4 407.6h5.2v6.8h-5.2zM321.4 556h5.2v2h-5.2zM339.4 538.5h5.2v5.5h-5.2zM357.4 436h5.2v1.5h-5.2zM369.4 430.5h5.2v6.9h-5.2zM393.4 99.6h5.2v3.4h-5.2zM393.4 127.6h5.2v2.4h-5.2zM393.4 134.4h5.2v1.6h-5.2zM393.4 167.4h5.2v1.6h-5.2zM393.4 173.4h5.2v1.6h-5.2zM393.4 217.5h5.2v1.5h-5.2zM429.4 99.6h5.2v3.4h-5.2zM435.4 242h5.2v3.4h-5.2zM441.4 127.6h5.2v2.4h-5.2zM441.4 167.4h5.2v1.6h-5.2zM441.4 173.4h5.2v1.6h-5.2zM441.4 215.7h5.2v1.8h-5.2zM447.4 137.7h5.2v1.7h-5.2zM447.4 163h5.2v1.5h-5.2zM447.4 180h5.2v8.6h-5.2zM441.4 380.5h5.2v3.5h-5.2zM441.4 409.5h5.2v3.5h-5.2zM447.4 332h5.2v6h-5.2zM375.4 484.6h5.2v5.4h-5.2zM393.4 441h5.2v1.5h-5.2zM393.4 503h5.2v1.5h-5.2zM411.4 552.6h5.2v5.2h-5.2zM435.4 479h5.2v3h-5.2zM441.4 502h5.2v3.5h-5.2zM447.4 486h5.2v5.5h-5.2z"/>
<path fill="#8282e6" d="M39.4 104h5.2v4h-5.2zM69.4 173h5.2v1.5h-5.2zM69.4 181h5.2v17h-5.2zM81.4 97h5.2v1.5h-5.2zM81.4 102h5.2v1.5h-5.2zM57.4 569h5.2v28.5h-5.2zM69.4 433h5.2v5h-5.2zM135.4 108h5.2v4h-5.2zM153.4 142h5.2v1.6h-5.2zM171.4 242h5.2v8h-5.2zM177.4 106h5.2v6h-5.2zM189.4 81h5.2v30.4h-5.2zM189.4 246h5.2v4h-5.2zM201.4 188.5h5.2v2.5h-5.2zM201.4 192.7h5.2v3.3h-5.2zM201.4 210.5h5.2v1.5h-5.2zM171.4 263.6h5.2v32.4h-5.2zM171.4 334h5.2v5h-5.2zM183.4 246h5.2v5h-5.2zM183.4 319.5h5.2v2.5h-5.2zM183.4 364.4h5.2v6.6h-5.2zM183.4 382h5.2v3h-5.2zM183.4 387.3h5.2v10.2h-5.2zM189.4 246.7h5.2v4.3h-5.2zM201.4 335.6h5.2v3.4h-5.2zM219.4 263.6h5.2v35.4h-5.2zM159.4 556h5.2v2h-5.2zM165.4 556h5.2v1.7h-5.2zM171.4 430.5h5.2v2.5h-5.2zM219.4 556h5.2v2h-5.2zM243.4 242h5.2v8h-5.2zM261.4 93h5.2v2h-5.2zM285.4 181h5.2v2.4h-5.2zM285.4 232.5h5.2v1.5h-5.2zM285.4 236.8h5.2v5.2h-5.2zM297.4 137h5.2v2.4h-5.2zM297.4 183.4h5.2v8.6h-5.2zM243.4 245h5.2v7h-5.2zM243.4 357h5.2v1.5h-5.2zM291.4 303.4h5.2v12.6h-5.2zM291.4 323h5.2v15h-5.2zM285.4 563h5.2v34h-5.2zM291.4 564.7h5.2v1.7h-5.2zM303.4 136h5.2v7.6h-5.2zM303.4 181.7h5.2v6.8h-5.2zM321.4 181.7h5.2v6h-5.2zM333.4 210.5h5.2v1.5h-5.2zM339.4 246h5.2v4h-5.2zM303.4 393h5.2v4.5h-5.2zM315.4 393h5.2v4.5h-5.2zM321.4 303.4h5.2v12.6h-5.2zM339.4 245h5.2v7.6h-5.2zM339.4 303.4h5.2v12.6h-5.2zM357.4 303.4h5.2v12.6h-5.2zM363.4 357h5.2v4h-5.2zM309.4 439h5.2v2h-5.2zM309.4 516h5.2v1.5h-5.2zM309.4 456.6h5.2v4.4h-5.2zM309.4 537h5.2v4h-5.2zM309.4 550.5h5.2v1.5h-5.2zM321.4 421.7h5.2v1.8h-5.2zM333.4 563h5.2v34h-5.2zM345.4 437.4h5.2v1.6h-5.2zM357.4 441h5.2v21.7h-5.2zM381.4 108h5.2v4.3h-5.2zM393.4 228.5h5.2v2.5h-5.2zM399.4 167.4h5.2v3.4h-5.2zM411.4 188.6h5.2v6.8h-5.2zM417.4 218.3h5.2v1.7h-5.2zM435.4 145.4h5.2v2.6h-5.2zM375.4 304.4h5.2v11.8h-5.2zM381.4 355h5.2v6h-5.2zM387.4 364.5h5.2v3.5h-5.2zM405.4 246h5.2v5.8h-5.2zM405.4 392.5h5.2v5.1h-5.2zM411.4 304.4h5.2v11.8h-5.2zM411.4 399.3h5.2v1.7h-5.2zM417.4 430.5h5.2v2.5h-5.2zM417.4 436.6h5.2v1.7h-5.2zM417.4 468h5.2v7.8h-5.2zM417.4 515h5.2v1.8h-5.2zM429.4 563h5.2v34h-5.2zM435.4 486h5.2v4h-5.2zM441.4 430.5h5.2v6.9h-5.2z"/>
<path fill="#f6baba" d="M39.4 121h5.2v15h-5.2zM39.4 199h5.2v32h-5.2zM81.4 112h5.2v16h-5.2zM27.4 375h5.2v3h-5.2zM45.4 391h5.2v3h-5.2zM57.4 259.4h5.2v4.3h-5.2zM81.4 407h5.2v7.6h-5.2zM39.4 479.5h5.2v7.5h-5.2zM39.4 527h5.2v5h-5.2zM63.4 512.7h5.2v4.3h-5.2zM69.4 415h5.2v15h-5.2zM69.4 501h5.2v3h-5.2zM69.4 588h5.2v9h-5.2zM81.4 519h5.2v5h-5.2zM123.4 397h5.2v23h-5.2zM129.4 323h5.2v10h-5.2zM99.4 563h5.2v34.5h-5.2zM123.4 420h5.2v10.5h-5.2zM135.4 563h5.2v14h-5.2zM135.4 577h5.2v10h-5.2zM147.4 524.6h5.2v7.8h-5.2zM153.4 563h5.2v31h-5.2zM171.4 112h5.2v10.4h-5.2zM177.4 122h5.2v4h-5.2zM177.4 231h5.2v12h-5.2zM189.4 198.7h5.2v25.3h-5.2zM171.4 406h5.2v6.7h-5.2zM177.4 563h5.2v34h-5.2zM183.4 563h5.2v34h-5.2zM189.4 543.8h5.2v7h-5.2zM195.4 582h5.2v15h-5.2zM237.4 167h5.2v2h-5.2zM243.4 232.5h5.2v9.5h-5.2zM261.4 114h5.2v12h-5.2zM261.4 171.6h5.2v6.4h-5.2zM261.4 198.7h5.2v8.3h-5.2zM273.4 173h5.2v7h-5.2zM285.4 142.8h5.2v8.2h-5.2zM243.4 375h5.2v9h-5.2zM285.4 377h5.2v20.5h-5.2zM291.4 317h5.2v2h-5.2zM237.4 512h5.2v5.6h-5.2zM243.4 475.8h5.2v3.2h-5.2zM255.4 477.5h5.2v1.5h-5.2zM261.4 568h5.2v2h-5.2zM297.4 526h5.2v16h-5.2zM297.4 563h5.2v34h-5.2zM315.4 119.5h5.2v1.5h-5.2zM321.4 173h5.2v7h-5.2zM333.4 112h5.2v24h-5.2zM333.4 231h5.2v12h-5.2zM339.4 127.5h5.2v8.5h-5.2zM363.4 112h5.2v24h-5.2zM369.4 112h5.2v17h-5.2zM309.4 333h5.2v5h-5.2zM321.4 263.6h5.2v33.9h-5.2zM321.4 323h5.2v10h-5.2zM345.4 255h5.2v47.6h-5.2zM345.4 390.7h5.2v6.8h-5.2zM357.4 253.5h5.2v49.1h-5.2zM309.4 430.5h5.2v6.9h-5.2zM309.4 568h5.2v12h-5.2zM315.4 439h5.2v16h-5.2zM339.4 524.6h5.2v7.8h-5.2zM345.4 563h5.2v34h-5.2zM357.4 430.5h5.2v6.9h-5.2zM369.4 563h5.2v14h-5.2zM375.4 197h5.2v34h-5.2zM381.4 136h5.2v6h-5.2zM381.4 197h5.2v34h-5.2zM399.4 175h5.2v6h-5.2zM417.4 136h5.2v6h-5.2zM429.4 234.4h5.2v15.6h-5.2zM435.4 112h5.2v24h-5.2zM375.4 316h5.2v17h-5.2zM387.4 253.5h5.2v49.2h-5.2zM399.4 253.5h5.2v49.2h-5.2zM399.4 304.4h5.2v13.6h-5.2zM411.4 251.8h5.2v11.8h-5.2zM411.4 316h5.2v9h-5.2zM411.4 333h5.2v5h-5.2zM417.4 357h5.2v15h-5.2zM417.4 386.6h5.2v11h-5.2zM423.4 253.5h5.2v49.2h-5.2zM429.4 253.5h5.2v49.2h-5.2zM435.4 319.6h5.2v5.1h-5.2zM441.4 253.5h5.2v49.2h-5.2zM375.4 490h5.2v22.5h-5.2zM381.4 430.5h5.2v6.9h-5.2zM381.4 562h5.2v3h-5.2zM393.4 449.7h5.2v17.3h-5.2zM393.4 563h5.2v34h-5.2zM399.4 430.5h5.2v6.9h-5.2zM399.4 512.5h5.2v7h-5.2zM411.4 430.5h5.2v6.9h-5.2zM417.4 442.7h5.2v12.3h-5.2zM435.4 448h5.2v8.6h-5.2zM435.4 544h5.2v7h-5.2zM447.4 430.5h5.2v6.9h-5.2zM447.4 479h5.2v33.5h-5.2zM447.4 545.6h5.2v5.4h-5.2zM69.4 405h5.2v8h-5.2zM69.4 428h5.2v2h-5.2z"/>
<path fill="#ececfc" d="M69.4 81h5.2v31h-5.2zM111.4 112h5.2v7h-5.2zM135.4 152h5.2v28h-5.2zM93.4 333h5.2v22h-5.2zM111.4 287h5.2v7h-5.2zM135.4 333h5.2v24h-5.2zM135.4 372h5.2v20h-5.2zM153.4 253.5h5.2v49.1h-5.2zM105.4 563h5.2v34h-5.2zM129.4 490h5.2v22h-5.2zM129.4 563h5.2v34h-5.2zM135.4 491h5.2v21h-5.2zM159.4 82h5.2v28.6h-5.2zM159.4 136h5.2v7h-5.2zM177.4 181.7h5.2v15.3h-5.2zM183.4 82h5.2v52h-5.2zM183.4 152h5.2v28h-5.2zM159.4 306h5.2v27h-5.2zM159.4 374h5.2v23h-5.2zM159.4 402h5.2v18h-5.2zM177.4 333h5.2v87h-5.2zM183.4 253.5h5.2v47.5h-5.2zM213.4 255h5.2v7h-5.2zM159.4 420h5.2v10h-5.2zM177.4 420h5.2v92h-5.2zM249.4 205h5.2v2h-5.2zM261.4 129h5.2v3h-5.2zM261.4 183h5.2v6h-5.2zM267.4 253.5h5.2v49.1h-5.2zM243.4 441h5.2v14h-5.2zM297.4 502h5.2v3h-5.2zM315.4 217h5.2v11h-5.2zM315.4 262h5.2v3h-5.2zM315.4 563h5.2v34h-5.2zM441.4 302.7h5.2v3.3h-5.2z"/>
<path fill="#2020cd" d="M69.4 151h5.2v1.5h-5.2zM129.4 431.3h5.2v1.5h-5.2zM129.4 556h5.2v2h-5.2zM135.4 588h5.2v7h-5.2zM237.4 337h5.2v2h-5.2zM333.4 337.3h5.2v1.7h-5.2zM363.4 336.5h5.2v2.5h-5.2zM309.4 556h5.2v2h-5.2zM327.4 556h5.2v2h-5.2zM333.4 556h5.2v2h-5.2zM357.4 556h5.2v2h-5.2zM369.4 556h5.2v2h-5.2zM429.4 173.4h5.2v1.6h-5.2zM435.4 245h5.2v1.5h-5.2zM441.4 365.4h5.2v2.6h-5.2zM405.4 556h5.2v2h-5.2zM429.4 431.3h5.2v1.7h-5.2zM435.4 556h5.2v2h-5.2zM429.4 556h5.2v2h-5.2zM447.4 556h5.2v2h-5.2z"/>
<path fill="#de2222" d="M45.4 399.7h5.2v2.3h-5.2zM57.4 563h5.2v6h-5.2zM69.4 477h5.2v2.5h-5.2zM291.4 259.4h5.2v1.6h-5.2zM285.4 513.3h5.2v4.3h-5.2zM315.4 386.5h5.2v5.9h-5.2zM345.4 432h5.2v5.4h-5.2zM351.4 432h5.2v5.4h-5.2z"/>
<path fill="#fdecec" d="M21.4 120h5.2v3h-5.2zM21.4 126h5.2v3h-5.2zM15.4 255.5h5.2v2.5h-5.2zM15.4 279h5.2v1.5h-5.2zM15.4 290h5.2v1.5h-5.2zM15.4 291.5h5.2v1.5h-5.2zM15.4 299.5h5.2v2h-5.2zM15.4 306h5.2v1.5h-5.2zM15.4 320h5.2v2h-5.2zM15.4 324.5h5.2v1.5h-5.2zM15.4 326h5.2v2h-5.2zM27.4 265h5.2v3h-5.2zM27.4 270h5.2v2h-5.2zM27.4 296h5.2v3h-5.2zM27.4 301.5h5.2v1.5h-5.2zM15.4 417h5.2v1.5h-5.2zM15.4 420.5h5.2v2h-5.2zM15.4 428.5h5.2v1.5h-5.2zM15.4 447.5h5.2v2h-5.2zM15.4 449.5h5.2v2.5h-5.2zM15.4 453.5h5.2v2h-5.2zM15.4 455.5h5.2v0.5h-5.2zM87.4 94h5.2v2.5h-5.2zM87.4 104h5.2v2h-5.2zM87.4 123h5.2v2h-5.2zM117.4 131h5.2v2h-5.2zM117.4 158.5h5.2v3h-5.2zM117.4 167h5.2v1.5h-5.2zM129.4 98h5.2v1.5h-5.2zM129.4 99.5h5.2v2.5h-5.2zM129.4 114h5.2v2.5h-5.2zM129.4 119.5h5.2v2.5h-5.2zM129.4 125.5h5.2v2.5h-5.2zM93.4 265h5.2v2.5h-5.2zM93.4 274.5h5.2v2.5h-5.2zM93.4 282.5h5.2v1.5h-5.2zM93.4 286.5h5.2v1.5h-5.2zM93.4 295.5h5.2v2.5h-5.2zM123.4 257.5h5.2v2h-5.2zM123.4 266h5.2v3h-5.2zM123.4 269h5.2v3h-5.2zM123.4 278h5.2v2.5h-5.2zM123.4 282h5.2v2h-5.2zM123.4 285.5h5.2v2h-5.2zM123.4 287.5h5.2v2h-5.2zM123.4 296h5.2v1.5h-5.2zM123.4 297.5h5.2v1.5h-5.2zM123.4 300.5h5.2v1.5h-5.2zM123.4 302h5.2v0.6h-5.2zM111.4 420h5.2v3h-5.2zM117.4 428h5.2v2h-5.2zM123.4 582.5h5.2v3h-5.2zM123.4 585.5h5.2v2.5h-5.2zM129.4 426.5h5.2v2.5h-5.2zM141.4 422h5.2v2.5h-5.2zM183.4 495.5h5.2v2.5h-5.2zM183.4 502.5h5.2v1.5h-5.2zM183.4 504h5.2v3h-5.2zM183.4 511h5.2v1h-5.2zM237.4 188h5.2v3h-5.2zM237.4 194.5h5.2v2.5h-5.2zM243.4 222.5h5.2v2h-5.2zM243.4 224.5h5.2v2.5h-5.2zM267.4 124h5.2v2h-5.2zM267.4 129.5h5.2v3h-5.2zM243.4 262h5.2v3h-5.2zM243.4 267h5.2v1.5h-5.2zM327.4 260.5h5.2v3h-5.2zM327.4 279h5.2v2.5h-5.2zM327.4 281.5h5.2v2.5h-5.2zM351.4 289.5h5.2v1.5h-5.2zM351.4 291h5.2v2h-5.2zM327.4 533h5.2v3h-5.2zM375.4 273h5.2v2h-5.2zM375.4 275h5.2v1.5h-5.2zM375.4 279.5h5.2v3h-5.2zM405.4 567h5.2v2.5h-5.2zM405.4 587.5h5.2v1.5h-5.2zM405.4 595.5h5.2v1.5h-5.2zM135.4 397.5h5.2v1.5h-5.2zM135.4 407h5.2v2h-5.2zM135.4 409h5.2v3h-5.2zM135.4 418h5.2v2.5h-5.2zM135.4 423.5h5.2v3h-5.2zM135.4 428.5h5.2v1.5h-5.2z"/>
<path fill="#fdf0f0" d="M21.4 123h5.2v3h-5.2zM15.4 252h5.2v2h-5.2zM15.4 254h5.2v1.5h-5.2zM15.4 280.5h5.2v1.5h-5.2zM15.4 301.5h5.2v1.5h-5.2zM15.4 316h5.2v1.5h-5.2zM15.4 330.5h5.2v1.5h-5.2zM27.4 256h5.2v2h-5.2zM27.4 272h5.2v2.5h-5.2zM27.4 279h5.2v2h-5.2zM15.4 422.5h5.2v3h-5.2zM15.4 425.5h5.2v3h-5.2zM15.4 443h5.2v2h-5.2zM63.4 424h5.2v3h-5.2zM87.4 84.5h5.2v2h-5.2zM87.4 88.5h5.2v2.5h-5.2zM87.4 98h5.2v2h-5.2zM87.4 120.5h5.2v2.5h-5.2zM117.4 153.5h5.2v3h-5.2zM117.4 156.5h5.2v2h-5.2zM117.4 165.5h5.2v1.5h-5.2zM129.4 86.5h5.2v3h-5.2zM129.4 92h5.2v1.5h-5.2zM129.4 93.5h5.2v2h-5.2zM129.4 108h5.2v2.5h-5.2zM129.4 116.5h5.2v3h-5.2zM129.4 122h5.2v2h-5.2zM93.4 277h5.2v3h-5.2zM93.4 300h5.2v1.5h-5.2zM123.4 263.5h5.2v2.5h-5.2zM123.4 275h5.2v3h-5.2zM123.4 280.5h5.2v1.5h-5.2zM123.4 289.5h5.2v2h-5.2zM123.4 299h5.2v1.5h-5.2zM87.4 422h5.2v2h-5.2zM87.4 426.5h5.2v3h-5.2zM117.4 425.5h5.2v2.5h-5.2zM123.4 563h5.2v2h-5.2zM123.4 568.5h5.2v2.5h-5.2zM123.4 575h5.2v3h-5.2zM123.4 590.5h5.2v2h-5.2zM123.4 596.5h5.2v0.5h-5.2zM129.4 423.5h5.2v3h-5.2zM141.4 420h5.2v2h-5.2zM141.4 429.5h5.2v0.5h-5.2zM183.4 490h5.2v1.5h-5.2zM243.4 190.5h5.2v1.5h-5.2zM243.4 200h5.2v2.5h-5.2zM243.4 202.5h5.2v1.5h-5.2zM243.4 204h5.2v3h-5.2zM243.4 209.5h5.2v2.5h-5.2zM243.4 215h5.2v2.5h-5.2zM243.4 217.5h5.2v2.5h-5.2zM243.4 220h5.2v2.5h-5.2zM243.4 227h5.2v1.5h-5.2zM267.4 115.5h5.2v2h-5.2zM267.4 126h5.2v2h-5.2zM243.4 265h5.2v2h-5.2zM243.4 268.5h5.2v3h-5.2zM243.4 271.5h5.2v3h-5.2zM243.4 277h5.2v1.5h-5.2zM243.4 278.5h5.2v2.5h-5.2zM243.4 284h5.2v2h-5.2zM327.4 263.5h5.2v1.5h-5.2zM327.4 274h5.2v2.5h-5.2zM327.4 292h5.2v1.5h-5.2zM327.4 296.5h5.2v3h-5.2zM351.4 287.5h5.2v2h-5.2zM327.4 541.5h5.2v3h-5.2zM327.4 546h5.2v2.5h-5.2zM375.4 259.5h5.2v2h-5.2zM375.4 266.5h5.2v3h-5.2zM375.4 271.5h5.2v1.5h-5.2zM375.4 294.5h5.2v1.5h-5.2zM405.4 569.5h5.2v1.5h-5.2zM405.4 571h5.2v2.5h-5.2zM405.4 589h5.2v3h-5.2zM405.4 592h5.2v1.5h-5.2zM135.4 412h5.2v3h-5.2zM135.4 420.5h5.2v1.5h-5.2z"/>
<path fill="#fdeded" d="M21.4 129h5.2v2h-5.2zM15.4 271h5.2v1.5h-5.2zM15.4 272.5h5.2v2h-5.2zM15.4 276.5h5.2v2.5h-5.2zM15.4 285h5.2v2.5h-5.2zM15.4 287.5h5.2v2.5h-5.2zM15.4 297h5.2v2.5h-5.2zM15.4 310.5h5.2v3h-5.2zM27.4 252h5.2v2.5h-5.2zM27.4 259.5h5.2v1.5h-5.2zM27.4 268h5.2v2h-5.2zM27.4 289h5.2v1.5h-5.2zM27.4 292h5.2v1.5h-5.2zM27.4 293.5h5.2v2.5h-5.2zM63.4 418h5.2v3h-5.2zM63.4 427h5.2v2h-5.2zM87.4 86.5h5.2v2h-5.2zM87.4 96.5h5.2v1.5h-5.2zM87.4 111.5h5.2v3h-5.2zM87.4 117.5h5.2v3h-5.2zM87.4 129.5h5.2v3h-5.2zM87.4 132.5h5.2v1.5h-5.2zM117.4 127h5.2v1.5h-5.2zM117.4 128.5h5.2v2.5h-5.2zM117.4 161.5h5.2v2h-5.2zM117.4 163.5h5.2v2h-5.2zM117.4 168.5h5.2v3h-5.2zM117.4 174h5.2v2.5h-5.2zM129.4 106h5.2v2h-5.2zM93.4 262h5.2v3h-5.2zM93.4 284h5.2v2.5h-5.2zM93.4 289.5h5.2v2.5h-5.2zM93.4 301.5h5.2v1.1h-5.2zM123.4 259.5h5.2v2h-5.2zM87.4 420h5.2v2h-5.2zM111.4 423h5.2v2.5h-5.2zM111.4 429.5h5.2v0.5h-5.2zM117.4 422.5h5.2v3h-5.2zM123.4 592.5h5.2v1.5h-5.2zM129.4 420h5.2v2h-5.2zM129.4 422h5.2v1.5h-5.2zM129.4 429h5.2v1h-5.2zM141.4 424.5h5.2v3h-5.2zM141.4 427.5h5.2v2h-5.2zM183.4 500.5h5.2v2h-5.2zM243.4 183h5.2v1.5h-5.2zM243.4 187.5h5.2v3h-5.2zM243.4 228.5h5.2v1.5h-5.2zM243.4 230h5.2v1h-5.2zM261.4 209.5h5.2v1.5h-5.2zM243.4 274.5h5.2v2.5h-5.2zM243.4 281h5.2v3h-5.2zM243.4 290h5.2v1.5h-5.2zM243.4 293.5h5.2v2h-5.2zM243.4 295.5h5.2v3h-5.2zM327.4 253.5h5.2v2.5h-5.2zM327.4 256h5.2v3h-5.2zM327.4 265h5.2v2h-5.2zM327.4 267h5.2v3h-5.2zM327.4 271.5h5.2v2.5h-5.2zM327.4 276.5h5.2v2.5h-5.2zM327.4 287h5.2v2h-5.2zM327.4 290.5h5.2v1.5h-5.2zM327.4 302.5h5.2v0.1h-5.2zM351.4 253h5.2v2.5h-5.2zM351.4 255.5h5.2v3h-5.2zM351.4 263.5h5.2v1.5h-5.2zM351.4 268.5h5.2v3h-5.2zM351.4 271.5h5.2v1.5h-5.2zM351.4 275.5h5.2v3h-5.2zM351.4 278.5h5.2v3h-5.2zM351.4 284.5h5.2v3h-5.2zM351.4 295.5h5.2v1.5h-5.2zM327.4 531h5.2v2h-5.2zM327.4 536h5.2v3h-5.2zM327.4 539h5.2v2.5h-5.2zM327.4 550h5.2v1h-5.2zM375.4 256.5h5.2v3h-5.2zM375.4 261.5h5.2v3h-5.2zM375.4 269.5h5.2v2h-5.2zM375.4 282.5h5.2v3h-5.2zM375.4 285.5h5.2v2.5h-5.2zM375.4 301h5.2v1.5h-5.2zM405.4 563h5.2v2.5h-5.2zM405.4 585.5h5.2v2h-5.2zM405.4 593.5h5.2v2h-5.2zM135.4 401.5h5.2v2.5h-5.2zM135.4 415h5.2v3h-5.2z"/>
<path fill="#f9d8d8" d="M21.4 127h5.2v2h-5.2zM63.4 122h5.2v2h-5.2zM75.4 124.5h5.2v1.5h-5.2zM75.4 126h5.2v1h-5.2zM27.4 327h5.2v1.5h-5.2zM27.4 414.5h5.2v1.5h-5.2zM57.4 402.2h5.2v2h-5.2zM57.4 417.7h5.2v1.5h-5.2zM63.4 397h5.2v2h-5.2zM63.4 403.5h5.2v2h-5.2zM63.4 405.5h5.2v1.5h-5.2zM63.4 417.5h5.2v2.5h-5.2zM75.4 324.5h5.2v3h-5.2zM15.4 562h5.2v3h-5.2zM15.4 565h5.2v1.5h-5.2zM15.4 566.5h5.2v2h-5.2zM15.4 568.5h5.2v2.5h-5.2zM15.4 580.5h5.2v2.5h-5.2zM27.4 492h5.2v2h-5.2zM27.4 495.5h5.2v0.5h-5.2zM27.4 565h5.2v1.5h-5.2zM27.4 573.5h5.2v2h-5.2zM27.4 593.5h5.2v3h-5.2zM45.4 435.5h5.2v1.9h-5.2zM57.4 422h5.2v3h-5.2zM57.4 427.5h5.2v2h-5.2zM57.4 429.5h5.2v0.5h-5.2zM75.4 581.5h5.2v3h-5.2zM75.4 584.5h5.2v3h-5.2zM75.4 593.5h5.2v2h-5.2zM93.4 151h5.2v2h-5.2zM93.4 159h5.2v2.5h-5.2zM99.4 197h5.2v2h-5.2zM99.4 202h5.2v1.5h-5.2zM99.4 206.5h5.2v3h-5.2zM99.4 209.5h5.2v2h-5.2zM123.4 206.5h5.2v2.5h-5.2zM123.4 209h5.2v1.5h-5.2zM123.4 223.5h5.2v3h-5.2zM135.4 224h5.2v2.5h-5.2zM135.4 228.5h5.2v2h-5.2zM135.4 230.5h5.2v1.5h-5.2zM141.4 136h5.2v2h-5.2zM141.4 140h5.2v1h-5.2zM123.4 382.5h5.2v3h-5.2zM123.4 390.5h5.2v1.5h-5.2zM129.4 256h5.2v2h-5.2zM129.4 258h5.2v1.5h-5.2zM129.4 265h5.2v1.5h-5.2zM129.4 266.5h5.2v1.5h-5.2zM129.4 278.5h5.2v3h-5.2zM99.4 439h5.2v1.5h-5.2zM99.4 450h5.2v3h-5.2zM99.4 478h5.2v2h-5.2zM99.4 484.5h5.2v0.5h-5.2zM123.4 439h5.2v3h-5.2zM123.4 452.5h5.2v2h-5.2zM123.4 477.5h5.2v2.5h-5.2zM123.4 551h5.2v3h-5.2zM141.4 571h5.2v2.5h-5.2zM147.4 570.5h5.2v2h-5.2zM147.4 586.5h5.2v2.5h-5.2zM153.4 436h5.2v2h-5.2zM165.4 157h5.2v3h-5.2zM165.4 163.5h5.2v2h-5.2zM165.4 168.5h5.2v2.5h-5.2zM165.4 173.5h5.2v3h-5.2zM165.4 176.5h5.2v1.5h-5.2zM177.4 200h5.2v2.5h-5.2zM177.4 207.5h5.2v2h-5.2zM183.4 212.5h5.2v2.5h-5.2zM183.4 215h5.2v2h-5.2zM183.4 222h5.2v2.5h-5.2zM183.4 227h5.2v0.5h-5.2zM171.4 380.5h5.2v1.5h-5.2zM171.4 385.5h5.2v0.1h-5.2zM189.4 323h5.2v2h-5.2zM189.4 344.5h5.2v2.5h-5.2zM189.4 348.5h5.2v3h-5.2zM189.4 356h5.2v3h-5.2zM189.4 359h5.2v1.5h-5.2zM189.4 362.5h5.2v2.5h-5.2zM213.4 413h5.2v2h-5.2zM219.4 382.8h5.2v2h-5.2zM183.4 534.6h5.2v3h-5.2zM189.4 539.6h5.2v1.5h-5.2zM213.4 425h5.2v3h-5.2zM213.4 536.5h5.2v2h-5.2zM219.4 531.6h5.2v3h-5.2zM243.4 154.5h5.2v3h-5.2zM243.4 178.5h5.2v1.5h-5.2zM249.4 164h5.2v1.5h-5.2zM249.4 169h5.2v1h-5.2zM261.4 140.7h5.2v0.3h-5.2zM237.4 344h5.2v2h-5.2zM237.4 346h5.2v2.5h-5.2zM285.4 256h5.2v1.5h-5.2zM285.4 278.5h5.2v1.5h-5.2zM285.4 298.5h5.2v1.5h-5.2zM285.4 300h5.2v3h-5.2zM285.4 322.5h5.2v2.5h-5.2zM285.4 333.5h5.2v1.5h-5.2zM285.4 344h5.2v1.5h-5.2zM285.4 345.5h5.2v1.5h-5.2zM285.4 351.5h5.2v3h-5.2zM237.4 532h5.2v3h-5.2zM237.4 540.5h5.2v1.5h-5.2zM243.4 554h5.2v1.5h-5.2zM261.4 584h5.2v3h-5.2zM267.4 583.5h5.2v1.5h-5.2zM309.4 140.5h5.2v0.5h-5.2zM339.4 157h5.2v2h-5.2zM345.4 105.5h5.2v2.5h-5.2zM321.4 257.5h5.2v1.5h-5.2zM321.4 259h5.2v2h-5.2zM327.4 328h5.2v2.5h-5.2zM327.4 335h5.2v2h-5.2zM327.4 337h5.2v3h-5.2zM327.4 345.5h5.2v2.5h-5.2zM327.4 401.5h5.2v2.5h-5.2zM327.4 417.5h5.2v1.5h-5.2zM327.4 422.5h5.2v3h-5.2zM339.4 255.5h5.2v3h-5.2zM339.4 273.5h5.2v3h-5.2zM339.4 284h5.2v2.5h-5.2zM339.4 337h5.2v1h-5.2zM339.4 409h5.2v2h-5.2zM339.4 418.5h5.2v1.5h-5.2zM339.4 424.5h5.2v2.5h-5.2zM339.4 427h5.2v2.5h-5.2zM345.4 383.7h5.2v0.3h-5.2zM357.4 376.7h5.2v2h-5.2zM357.4 378.7h5.2v1.5h-5.2zM363.4 263.5h5.2v0.1h-5.2zM363.4 403.5h5.2v2.5h-5.2zM309.4 569.5h5.2v2h-5.2zM309.4 581.5h5.2v3h-5.2zM309.4 596h5.2v1h-5.2zM309.4 535h5.2v1h-5.2zM327.4 500h5.2v2h-5.2zM327.4 507.5h5.2v3h-5.2zM333.4 430.5h5.2v2.5h-5.2zM333.4 436h5.2v1.4h-5.2zM339.4 425h5.2v3h-5.2zM345.4 450.2h5.2v2h-5.2zM345.4 452.2h5.2v2h-5.2zM351.4 442.7h5.2v1.5h-5.2zM351.4 450.2h5.2v3h-5.2zM381.4 229.5h5.2v1.5h-5.2zM405.4 86.5h5.2v2.5h-5.2zM405.4 91.5h5.2v2.1h-5.2zM405.4 140.5h5.2v1.5h-5.2zM405.4 152h5.2v3h-5.2zM405.4 155h5.2v3h-5.2zM405.4 158h5.2v2.5h-5.2zM429.4 197h5.2v3h-5.2zM429.4 204h5.2v2.5h-5.2zM429.4 209.5h5.2v2h-5.2zM435.4 152h5.2v2.5h-5.2zM435.4 161.5h5.2v1.5h-5.2zM435.4 213.5h5.2v2.2h-5.2zM447.4 92h5.2v2h-5.2zM447.4 105h5.2v2.5h-5.2zM447.4 107.5h5.2v1.5h-5.2zM381.4 266.5h5.2v3h-5.2zM381.4 277.5h5.2v3h-5.2zM381.4 284.5h5.2v2.5h-5.2zM381.4 288.5h5.2v1.5h-5.2zM381.4 295.5h5.2v1.5h-5.2zM381.4 331.6h5.2v1.4h-5.2zM393.4 261.5h5.2v2.5h-5.2zM393.4 284h5.2v3h-5.2zM393.4 323.6h5.2v1.5h-5.2zM393.4 327.6h5.2v1.5h-5.2zM393.4 362.6h5.2v1.1h-5.2zM429.4 399.1h5.2v3h-5.2zM429.4 409.1h5.2v2.5h-5.2zM435.4 253.5h5.2v3h-5.2zM435.4 260h5.2v2h-5.2zM435.4 262h5.2v2h-5.2zM435.4 301.5h5.2v1.2h-5.2zM429.4 420h5.2v3h-5.2zM429.4 423h5.2v3h-5.2zM429.4 541h5.2v1h-5.2zM435.4 501.3h5.2v2.5h-5.2zM435.4 503.8h5.2v1.5h-5.2zM435.4 507.8h5.2v1.5h-5.2z"/>
<path fill="#fadbdb" d="M21.4 129h5.2v2h-5.2zM75.4 115h5.2v1.5h-5.2zM27.4 410h5.2v2.5h-5.2zM27.4 412.5h5.2v2h-5.2zM57.4 404.2h5.2v2.5h-5.2zM57.4 412.7h5.2v2h-5.2zM63.4 401h5.2v2.5h-5.2zM15.4 596h5.2v1h-5.2zM21.4 537.5h5.2v1.5h-5.2zM21.4 542.5h5.2v0.5h-5.2zM27.4 575.5h5.2v2h-5.2zM27.4 590.5h5.2v3h-5.2zM75.4 569h5.2v1.5h-5.2zM75.4 570.5h5.2v1.5h-5.2zM75.4 572h5.2v2.5h-5.2zM75.4 580h5.2v1.5h-5.2zM75.4 587.5h5.2v2.5h-5.2zM93.4 153h5.2v3h-5.2zM93.4 171h5.2v3h-5.2zM99.4 203.5h5.2v3h-5.2zM99.4 211.5h5.2v3h-5.2zM123.4 205h5.2v1.5h-5.2zM123.4 215.5h5.2v2.5h-5.2zM123.4 221h5.2v2.5h-5.2zM135.4 139h5.2v3h-5.2zM135.4 147h5.2v2h-5.2zM135.4 226.5h5.2v2h-5.2zM135.4 235h5.2v1.5h-5.2zM93.4 390.7h5.2v1.5h-5.2zM99.4 412h5.2v0.7h-5.2zM117.4 342h5.2v3h-5.2zM123.4 360h5.2v2.5h-5.2zM123.4 385.5h5.2v1.5h-5.2zM129.4 253.5h5.2v2.5h-5.2zM129.4 284.5h5.2v2h-5.2zM129.4 292.5h5.2v3h-5.2zM129.4 299.5h5.2v2h-5.2zM129.4 301.5h5.2v1.1h-5.2zM99.4 440.5h5.2v3h-5.2zM99.4 443.5h5.2v2h-5.2zM99.4 447h5.2v1.5h-5.2zM99.4 448.5h5.2v1.5h-5.2zM99.4 476h5.2v2h-5.2zM99.4 480h5.2v2h-5.2zM123.4 449.5h5.2v3h-5.2zM123.4 554h5.2v3h-5.2zM141.4 573.5h5.2v2.5h-5.2zM147.4 566h5.2v3h-5.2zM147.4 569h5.2v1.5h-5.2zM147.4 578.5h5.2v2.5h-5.2zM153.4 431h5.2v3h-5.2zM165.4 160h5.2v1.5h-5.2zM165.4 165.5h5.2v3h-5.2zM165.4 178h5.2v2h-5.2zM177.4 209.5h5.2v2h-5.2zM177.4 214.5h5.2v2.5h-5.2zM183.4 220h5.2v2h-5.2zM189.4 114h5.2v2h-5.2zM189.4 122.5h5.2v2.5h-5.2zM189.4 128h5.2v2h-5.2zM189.4 132h5.2v2h-5.2zM189.4 306.5h5.2v3h-5.2zM189.4 309.5h5.2v2.5h-5.2zM189.4 312h5.2v1.5h-5.2zM189.4 313.5h5.2v3h-5.2zM189.4 341h5.2v1.5h-5.2zM189.4 342.5h5.2v2h-5.2zM189.4 351.5h5.2v3h-5.2zM213.4 409h5.2v1.5h-5.2zM189.4 531.6h5.2v3h-5.2zM189.4 534.6h5.2v3h-5.2zM213.4 420h5.2v1.5h-5.2zM213.4 423h5.2v2h-5.2zM213.4 534h5.2v2.5h-5.2zM219.4 534.6h5.2v3h-5.2zM237.4 136h5.2v2h-5.2zM243.4 173.5h5.2v2.5h-5.2zM249.4 153h5.2v3h-5.2zM249.4 167h5.2v2h-5.2zM279.4 115h5.2v1.5h-5.2zM237.4 352.5h5.2v0.5h-5.2zM243.4 253.5h5.2v1.5h-5.2zM261.4 369.5h5.2v3h-5.2zM285.4 257.5h5.2v1.5h-5.2zM285.4 265h5.2v3h-5.2zM285.4 268h5.2v1.5h-5.2zM285.4 272h5.2v2h-5.2zM285.4 280h5.2v3h-5.2zM285.4 295.5h5.2v3h-5.2zM285.4 306.5h5.2v2h-5.2zM285.4 308.5h5.2v3h-5.2zM285.4 325h5.2v3h-5.2zM285.4 331h5.2v2.5h-5.2zM285.4 338.5h5.2v1.5h-5.2zM285.4 340h5.2v1.5h-5.2zM285.4 347h5.2v2h-5.2zM285.4 354.5h5.2v2.5h-5.2zM237.4 444h5.2v3h-5.2zM237.4 447h5.2v3h-5.2zM237.4 450h5.2v3h-5.2zM237.4 466h5.2v3h-5.2zM237.4 469h5.2v1h-5.2zM237.4 526h5.2v2h-5.2zM237.4 537h5.2v2h-5.2zM237.4 539h5.2v1.5h-5.2zM243.4 555.5h5.2v2.5h-5.2zM261.4 578.5h5.2v1.5h-5.2zM261.4 582.5h5.2v1.5h-5.2zM261.4 587h5.2v2h-5.2zM261.4 589h5.2v3h-5.2zM267.4 578h5.2v1.5h-5.2zM267.4 581.5h5.2v2h-5.2zM267.4 594.5h5.2v2h-5.2zM339.4 153h5.2v2h-5.2zM339.4 159h5.2v2h-5.2zM345.4 98h5.2v1.5h-5.2zM345.4 101h5.2v1.5h-5.2zM345.4 108h5.2v2.5h-5.2zM351.4 88.5h5.2v3h-5.2zM351.4 94h5.2v2h-5.2zM351.4 96h5.2v3h-5.2zM351.4 101.5h5.2v1.5h-5.2zM351.4 105h5.2v3h-5.2zM309.4 404.5h5.2v2h-5.2zM321.4 261h5.2v1.5h-5.2zM321.4 297.5h5.2v1.5h-5.2zM327.4 330.5h5.2v1.5h-5.2zM327.4 340h5.2v2h-5.2zM327.4 344h5.2v1.5h-5.2zM327.4 399h5.2v2.5h-5.2zM327.4 410.5h5.2v2.5h-5.2zM327.4 428.5h5.2v1.5h-5.2zM339.4 258.5h5.2v3h-5.2zM339.4 271.5h5.2v2h-5.2zM339.4 282h5.2v2h-5.2zM339.4 397.5h5.2v2h-5.2zM339.4 405h5.2v2h-5.2zM339.4 414h5.2v3h-5.2zM339.4 417h5.2v1.5h-5.2zM345.4 373.7h5.2v3h-5.2zM357.4 380.2h5.2v2.5h-5.2zM357.4 389.7h5.2v2h-5.2zM357.4 396.2h5.2v1.3h-5.2zM363.4 261.5h5.2v2h-5.2zM363.4 399h5.2v2h-5.2zM309.4 574h5.2v1.5h-5.2zM309.4 580h5.2v1.5h-5.2zM309.4 587h5.2v2.5h-5.2zM315.4 527h5.2v3h-5.2zM315.4 435.5h5.2v1.9h-5.2zM321.4 430.5h5.2v2h-5.2zM321.4 432.5h5.2v2h-5.2zM327.4 494.5h5.2v2.5h-5.2zM327.4 503.5h5.2v2.5h-5.2zM333.4 433h5.2v3h-5.2zM339.4 430.5h5.2v1.5h-5.2zM339.4 432h5.2v3h-5.2zM345.4 444.2h5.2v2h-5.2zM345.4 447.7h5.2v2.5h-5.2zM345.4 454.2h5.2v0.8h-5.2zM351.4 453.2h5.2v1.8h-5.2zM375.4 178h5.2v0.5h-5.2zM381.4 228h5.2v1.5h-5.2zM405.4 142h5.2v1h-5.2zM429.4 201.5h5.2v2.5h-5.2zM435.4 158.5h5.2v1.5h-5.2zM435.4 160h5.2v1.5h-5.2zM435.4 199h5.2v2h-5.2zM447.4 100.5h5.2v2.5h-5.2zM381.4 260h5.2v2.5h-5.2zM381.4 262.5h5.2v2.5h-5.2zM381.4 265h5.2v1.5h-5.2zM381.4 290h5.2v2h-5.2zM381.4 294h5.2v1.5h-5.2zM381.4 300.5h5.2v2h-5.2zM381.4 319.6h5.2v2h-5.2zM393.4 255h5.2v2.5h-5.2zM393.4 264h5.2v1.5h-5.2zM393.4 270h5.2v2h-5.2zM393.4 272h5.2v1.5h-5.2zM393.4 280h5.2v2.5h-5.2zM393.4 290h5.2v1.5h-5.2zM393.4 291.5h5.2v1.5h-5.2zM393.4 294.5h5.2v3h-5.2zM393.4 325.1h5.2v2.5h-5.2zM393.4 358.6h5.2v2.5h-5.2zM423.4 406.6h5.2v2h-5.2zM423.4 413.1h5.2v2.5h-5.2zM429.4 402.1h5.2v3h-5.2zM429.4 405.1h5.2v2h-5.2zM435.4 256.5h5.2v1.5h-5.2zM435.4 279.5h5.2v3h-5.2zM435.4 282.5h5.2v2.5h-5.2zM435.4 288h5.2v1.5h-5.2zM435.4 292h5.2v2.5h-5.2zM435.4 296h5.2v2h-5.2zM435.4 380h5.2v1.5h-5.2zM435.4 381.5h5.2v3h-5.2zM435.4 386h5.2v1.5h-5.2zM435.4 387.5h5.2v2.5h-5.2zM435.4 390h5.2v1h-5.2zM429.4 534.5h5.2v2h-5.2zM435.4 496.8h5.2v3h-5.2zM435.4 509.3h5.2v2h-5.2z"/>
<path fill="#d8d8f7" d="M27.4 81h5.2v1.5h-5.2zM27.4 82.5h5.2v2.5h-5.2zM27.4 88h5.2v3h-5.2zM27.4 98h5.2v2.5h-5.2zM27.4 136h5.2v2.5h-5.2zM27.4 141h5.2v2h-5.2zM27.4 185.5h5.2v3h-5.2zM27.4 188.5h5.2v1.5h-5.2zM45.4 162.5h5.2v3h-5.2zM75.4 152h5.2v2.5h-5.2zM75.4 154.5h5.2v2h-5.2zM75.4 160.5h5.2v1.5h-5.2zM75.4 164.5h5.2v2h-5.2zM75.4 168.5h5.2v3h-5.2zM75.4 171.5h5.2v3h-5.2zM75.4 185.5h5.2v1.5h-5.2zM75.4 187h5.2v2h-5.2zM75.4 192h5.2v2h-5.2zM75.4 240.5h5.2v3h-5.2zM75.4 248h5.2v1.5h-5.2zM75.4 249.5h5.2v1.5h-5.2zM27.4 245h5.2v2h-5.2zM27.4 249h5.2v2.5h-5.2zM27.4 308.5h5.2v3h-5.2zM27.4 315.5h5.2v1.5h-5.2zM27.4 317h5.2v2h-5.2zM27.4 402.7h5.2v1.8h-5.2zM45.4 394h5.2v3h-5.2zM69.4 401.7h5.2v1.3h-5.2zM75.4 271.2h5.2v2h-5.2zM75.4 288.7h5.2v1.5h-5.2zM75.4 297.7h5.2v3h-5.2zM75.4 358.5h5.2v2.5h-5.2zM75.4 403.7h5.2v1.5h-5.2zM75.4 409.7h5.2v2h-5.2zM81.4 341.7h5.2v1.5h-5.2zM27.4 440h5.2v1.5h-5.2zM27.4 464h5.2v2h-5.2zM75.4 459.5h5.2v2h-5.2zM75.4 472.5h5.2v3h-5.2zM75.4 493h5.2v3h-5.2zM75.4 507.5h5.2v3h-5.2zM75.4 510.5h5.2v2h-5.2zM75.4 512.5h5.2v1.5h-5.2zM75.4 525h5.2v2.5h-5.2zM75.4 530.5h5.2v1.5h-5.2zM75.4 534.5h5.2v3h-5.2zM81.4 448.5h5.2v3h-5.2zM123.4 196h5.2v1h-5.2zM135.4 89h5.2v2h-5.2zM135.4 103.5h5.2v1.5h-5.2zM135.4 105h5.2v2h-5.2zM135.4 115.6h5.2v3h-5.2zM135.4 125.6h5.2v2.5h-5.2zM135.4 200.5h5.2v2h-5.2zM135.4 219.5h5.2v2.5h-5.2zM93.4 398.1h5.2v2.5h-5.2zM123.4 387h5.2v1.5h-5.2zM123.4 388.5h5.2v2.2h-5.2zM135.4 316h5.2v1.5h-5.2zM135.4 317.5h5.2v1.5h-5.2zM93.4 532.4h5.2v2.5h-5.2zM93.4 539.9h5.2v1.5h-5.2zM123.4 524.6h5.2v3h-5.2zM135.4 432h5.2v1.5h-5.2zM135.4 439h5.2v2.5h-5.2zM135.4 443.5h5.2v2h-5.2zM135.4 454h5.2v1h-5.2zM177.4 83.5h5.2v1.5h-5.2zM177.4 93h5.2v2.5h-5.2zM177.4 147h5.2v2h-5.2zM177.4 160.5h5.2v3h-5.2zM177.4 163.5h5.2v2h-5.2zM159.4 259h5.2v3h-5.2zM159.4 275.5h5.2v3h-5.2zM159.4 299.5h5.2v1.5h-5.2zM159.4 363.6h5.2v2h-5.2zM177.4 312h5.2v2h-5.2zM177.4 322.5h5.2v2h-5.2zM159.4 452h5.2v3h-5.2zM171.4 519h5.2v3h-5.2zM243.4 106h5.2v2h-5.2zM243.4 108h5.2v1h-5.2zM243.4 128.6h5.2v2.4h-5.2zM261.4 84h5.2v1.5h-5.2zM273.4 215h5.2v0.6h-5.2zM291.4 81.8h5.2v1.5h-5.2zM291.4 92.3h5.2v3h-5.2zM297.4 98.7h5.2v2h-5.2zM297.4 100.7h5.2v1.5h-5.2zM297.4 122h5.2v3h-5.2zM297.4 131.5h5.2v1.5h-5.2zM231.4 245h5.2v1.5h-5.2zM237.4 310h5.2v2.5h-5.2zM243.4 348.5h5.2v2h-5.2zM243.4 350.5h5.2v1.5h-5.2zM243.4 352h5.2v1h-5.2zM291.4 262h5.2v2.5h-5.2zM291.4 266h5.2v3h-5.2zM291.4 270.5h5.2v1.5h-5.2zM291.4 277.5h5.2v1.5h-5.2zM291.4 279h5.2v2.5h-5.2zM291.4 281.5h5.2v2.5h-5.2zM291.4 368.6h5.2v2h-5.2zM291.4 370.6h5.2v1.5h-5.2zM291.4 372.1h5.2v1.5h-5.2zM291.4 373.6h5.2v1.5h-5.2zM291.4 384h5.2v1.5h-5.2zM291.4 385.5h5.2v3h-5.2zM297.4 348h5.2v3h-5.2zM243.4 460h5.2v2.5h-5.2zM243.4 545h5.2v1.5h-5.2zM243.4 546.5h5.2v2h-5.2zM255.4 565.5h5.2v2h-5.2zM255.4 571.5h5.2v2.5h-5.2zM255.4 595.5h5.2v1.5h-5.2zM291.4 450.4h5.2v3h-5.2zM297.4 542h5.2v3h-5.2zM315.4 126.6h5.2v2.5h-5.2zM315.4 131.1h5.2v2h-5.2zM315.4 159h5.2v1h-5.2zM315.4 206.5h5.2v0.5h-5.2zM345.4 147.3h5.2v3h-5.2zM345.4 153.3h5.2v2h-5.2zM345.4 155.3h5.2v2.5h-5.2zM345.4 166.3h5.2v0.2h-5.2zM345.4 307h5.2v1.5h-5.2zM345.4 465.1h5.2v2h-5.2zM345.4 472.6h5.2v2h-5.2zM345.4 479.1h5.2v3h-5.2zM345.4 485.6h5.2v1.5h-5.2zM345.4 494.6h5.2v3h-5.2zM345.4 504.6h5.2v3h-5.2zM345.4 511.6h5.2v2h-5.2zM345.4 513.6h5.2v3h-5.2zM345.4 520.6h5.2v3h-5.2zM345.4 523.6h5.2v2.5h-5.2zM345.4 534.1h5.2v1.5h-5.2zM345.4 545.1h5.2v1.5h-5.2zM345.4 546.6h5.2v3h-5.2zM345.4 555.6h5.2v2h-5.2zM345.4 557.6h5.2v1.9h-5.2zM393.4 213.5h5.2v2h-5.2zM429.4 183h5.2v1.5h-5.2zM429.4 190h5.2v2.5h-5.2zM429.4 325.5h5.2v0.9h-5.2zM393.4 545.6h5.2v2.5h-5.2zM435.4 571h5.2v3h-5.2zM435.4 574h5.2v2.5h-5.2zM435.4 582h5.2v2.5h-5.2zM435.4 592.5h5.2v2.5h-5.2zM441.4 443h5.2v1.5h-5.2z"/>
<path fill="#d4d4f7" d="M27.4 85h5.2v3h-5.2zM27.4 95.5h5.2v2.5h-5.2zM27.4 106h5.2v1.5h-5.2zM27.4 154h5.2v1.5h-5.2zM27.4 155.5h5.2v1.5h-5.2zM27.4 158.5h5.2v2h-5.2zM27.4 160.5h5.2v3h-5.2zM27.4 167.5h5.2v1.5h-5.2zM45.4 165.5h5.2v1.5h-5.2zM75.4 88h5.2v1.5h-5.2zM75.4 91.5h5.2v3h-5.2zM75.4 108h5.2v2.5h-5.2zM75.4 158.5h5.2v2h-5.2zM75.4 174.5h5.2v0.5h-5.2zM75.4 189h5.2v3h-5.2zM75.4 194h5.2v1.5h-5.2zM75.4 234h5.2v2h-5.2zM75.4 236h5.2v1.5h-5.2zM75.4 237.5h5.2v3h-5.2zM75.4 243.5h5.2v2.5h-5.2zM27.4 247h5.2v2h-5.2zM27.4 336.5h5.2v3h-5.2zM27.4 346h5.2v2.5h-5.2zM75.4 263.7h5.2v2h-5.2zM75.4 273.2h5.2v2.5h-5.2zM75.4 361h5.2v2h-5.2zM75.4 392.5h5.2v2h-5.2zM75.4 397.5h5.2v0.2h-5.2zM75.4 407.7h5.2v2h-5.2zM75.4 411.7h5.2v1.3h-5.2zM27.4 444.5h5.2v1.5h-5.2zM27.4 466h5.2v2h-5.2zM27.4 486h5.2v3h-5.2zM75.4 442h5.2v3h-5.2zM75.4 475.5h5.2v0.5h-5.2zM75.4 496h5.2v2.5h-5.2zM75.4 500h5.2v3h-5.2zM75.4 506h5.2v1.5h-5.2zM75.4 521h5.2v2.5h-5.2zM75.4 527.5h5.2v3h-5.2zM75.4 532h5.2v2.5h-5.2zM75.4 537.5h5.2v2h-5.2zM81.4 442h5.2v2h-5.2zM81.4 447h5.2v1.5h-5.2zM81.4 454.5h5.2v1.5h-5.2zM123.4 185.5h5.2v3h-5.2zM135.4 118.6h5.2v2.5h-5.2zM135.4 121.1h5.2v3h-5.2zM135.4 124.1h5.2v1.5h-5.2zM135.4 128.1h5.2v0.9h-5.2zM135.4 187.5h5.2v3h-5.2zM135.4 193.5h5.2v2.5h-5.2zM135.4 211h5.2v3h-5.2zM135.4 214h5.2v2h-5.2zM135.4 323.5h5.2v3h-5.2zM123.4 531.6h5.2v0.8h-5.2zM135.4 445.5h5.2v2h-5.2zM177.4 88h5.2v3h-5.2zM177.4 152h5.2v3h-5.2zM177.4 165.5h5.2v1.5h-5.2zM159.4 253.5h5.2v2h-5.2zM159.4 266h5.2v2.5h-5.2zM159.4 268.5h5.2v2h-5.2zM159.4 272.5h5.2v3h-5.2zM159.4 278.5h5.2v1.5h-5.2zM159.4 282h5.2v2.5h-5.2zM159.4 292h5.2v3h-5.2zM159.4 296.5h5.2v1.5h-5.2zM177.4 314h5.2v2.5h-5.2zM177.4 324.5h5.2v2h-5.2zM177.4 330h5.2v2.5h-5.2zM219.4 245h5.2v2h-5.2zM159.4 441.5h5.2v2.5h-5.2zM243.4 122.6h5.2v3h-5.2zM243.4 125.6h5.2v1.5h-5.2zM243.4 139h5.2v1.5h-5.2zM243.4 140.5h5.2v3h-5.2zM243.4 143.5h5.2v3h-5.2zM261.4 87.5h5.2v2h-5.2zM261.4 91h5.2v2.6h-5.2zM291.4 86.8h5.2v2.5h-5.2zM291.4 96.8h5.2v1.5h-5.2zM291.4 101.3h5.2v2.5h-5.2zM291.4 106.8h5.2v2.5h-5.2zM297.4 133h5.2v1h-5.2zM243.4 318.5h5.2v1.5h-5.2zM243.4 344h5.2v1.5h-5.2zM291.4 264.5h5.2v1.5h-5.2zM291.4 272h5.2v3h-5.2zM291.4 366.6h5.2v2h-5.2zM291.4 388.5h5.2v3h-5.2zM291.4 391.5h5.2v1.5h-5.2zM255.4 576.5h5.2v2.5h-5.2zM255.4 581h5.2v1.5h-5.2zM255.4 585.5h5.2v3h-5.2zM291.4 453.4h5.2v1.6h-5.2zM291.4 461h5.2v3h-5.2zM291.4 464h5.2v2h-5.2zM291.4 528h5.2v1.5h-5.2zM291.4 529.5h5.2v2.5h-5.2zM297.4 549h5.2v1.5h-5.2zM315.4 112.1h5.2v1.5h-5.2zM315.4 120.1h5.2v2.5h-5.2zM315.4 122.6h5.2v1.5h-5.2zM315.4 129.1h5.2v2h-5.2zM315.4 133.1h5.2v0.9h-5.2zM315.4 153h5.2v1.5h-5.2zM327.4 200.2h5.2v3h-5.2zM345.4 142.8h5.2v3h-5.2zM345.4 145.8h5.2v1.5h-5.2zM345.4 150.3h5.2v3h-5.2zM345.4 227.1h5.2v1.5h-5.2zM345.4 315h5.2v2h-5.2zM345.4 363.5h5.2v0.1h-5.2zM369.4 363.6h5.2v1.5h-5.2zM327.4 486h5.2v2h-5.2zM345.4 463.1h5.2v2h-5.2zM345.4 477.1h5.2v2h-5.2zM345.4 482.1h5.2v2h-5.2zM345.4 507.6h5.2v2.5h-5.2zM345.4 518.1h5.2v2.5h-5.2zM345.4 528.1h5.2v3h-5.2zM345.4 531.1h5.2v3h-5.2zM345.4 537.6h5.2v2h-5.2zM393.4 195h5.2v2h-5.2zM393.4 210.5h5.2v3h-5.2zM405.4 244.5h5.2v3h-5.2zM429.4 187h5.2v3h-5.2zM429.4 192.5h5.2v2.5h-5.2zM441.4 98.7h5.2v3h-5.2zM441.4 182h5.2v3h-5.2zM441.4 189.5h5.2v2h-5.2zM441.4 193h5.2v2.5h-5.2zM435.4 569h5.2v2h-5.2zM441.4 544h5.2v2h-5.2zM441.4 546h5.2v1.5h-5.2z"/>
<path fill="#dbdbf8" d="M27.4 91h5.2v3h-5.2zM27.4 94h5.2v1.5h-5.2zM27.4 102.5h5.2v2h-5.2zM27.4 110h5.2v2.5h-5.2zM27.4 117.5h5.2v1.5h-5.2zM27.4 157h5.2v1.5h-5.2zM27.4 163.5h5.2v2.5h-5.2zM27.4 169h5.2v1.5h-5.2zM27.4 170.5h5.2v1.5h-5.2zM27.4 192h5.2v3h-5.2zM27.4 195h5.2v2h-5.2zM75.4 81h5.2v2h-5.2zM75.4 83h5.2v2.5h-5.2zM75.4 85.5h5.2v2.5h-5.2zM75.4 97h5.2v2.5h-5.2zM75.4 162h5.2v2.5h-5.2zM75.4 166.5h5.2v2h-5.2zM75.4 181h5.2v1.5h-5.2zM27.4 304h5.2v2h-5.2zM27.4 311.5h5.2v1.5h-5.2zM27.4 343.5h5.2v2.5h-5.2zM27.4 400.7h5.2v2h-5.2zM27.4 418.5h5.2v1.5h-5.2zM45.4 334h5.2v2h-5.2zM45.4 336h5.2v2h-5.2zM75.4 269.7h5.2v1.5h-5.2zM75.4 286.7h5.2v2h-5.2zM75.4 356.5h5.2v2h-5.2zM75.4 400.7h5.2v3h-5.2zM27.4 422h5.2v2h-5.2zM27.4 468h5.2v1h-5.2zM45.4 486h5.2v2h-5.2zM75.4 439h5.2v3h-5.2zM75.4 451.5h5.2v2.5h-5.2zM75.4 454h5.2v2h-5.2zM75.4 458h5.2v1.5h-5.2zM75.4 466.5h5.2v1.5h-5.2zM75.4 490h5.2v3h-5.2zM75.4 498.5h5.2v1.5h-5.2zM75.4 514h5.2v1h-5.2zM135.4 91h5.2v3h-5.2zM135.4 185h5.2v2.5h-5.2zM135.4 190.5h5.2v1.5h-5.2zM135.4 192h5.2v1.5h-5.2zM135.4 204h5.2v3h-5.2zM135.4 209h5.2v2h-5.2zM135.4 216h5.2v1.5h-5.2zM135.4 222h5.2v2h-5.2zM135.4 321.5h5.2v2h-5.2zM135.4 326.5h5.2v1.5h-5.2zM123.4 431h5.2v1.5h-5.2zM123.4 435h5.2v2h-5.2zM123.4 530.1h5.2v1.5h-5.2zM135.4 433.5h5.2v1.5h-5.2zM135.4 447.5h5.2v2.5h-5.2zM159.4 244h5.2v2h-5.2zM177.4 91h5.2v2h-5.2zM177.4 98.5h5.2v2h-5.2zM177.4 149h5.2v1.5h-5.2zM177.4 155h5.2v3h-5.2zM177.4 158h5.2v2.5h-5.2zM177.4 171.5h5.2v2h-5.2zM177.4 176h5.2v2h-5.2zM225.4 247.5h5.2v2.5h-5.2zM159.4 270.5h5.2v2h-5.2zM159.4 284.5h5.2v2h-5.2zM159.4 288h5.2v1.5h-5.2zM159.4 298h5.2v1.5h-5.2zM159.4 370.6h5.2v1.4h-5.2zM177.4 306h5.2v2h-5.2zM177.4 321h5.2v1.5h-5.2zM159.4 447h5.2v3h-5.2zM171.4 522h5.2v2.6h-5.2zM243.4 95h5.2v2.5h-5.2zM243.4 100.5h5.2v2.5h-5.2zM243.4 110.6h5.2v3h-5.2zM243.4 116.6h5.2v1.5h-5.2zM243.4 119.6h5.2v3h-5.2zM243.4 127.1h5.2v1.5h-5.2zM273.4 212h5.2v3h-5.2zM291.4 89.3h5.2v3h-5.2zM291.4 95.3h5.2v1.5h-5.2zM297.4 128.5h5.2v3h-5.2zM237.4 312.5h5.2v2h-5.2zM243.4 340h5.2v2h-5.2zM243.4 342h5.2v2h-5.2zM243.4 345.5h5.2v3h-5.2zM291.4 284h5.2v2.5h-5.2zM291.4 393h5.2v3h-5.2zM297.4 351h5.2v2h-5.2zM243.4 538.5h5.2v2h-5.2zM243.4 540.5h5.2v1.5h-5.2zM255.4 569.5h5.2v2h-5.2zM255.4 579h5.2v2h-5.2zM255.4 582.5h5.2v3h-5.2zM255.4 588.5h5.2v2h-5.2zM291.4 466h5.2v2h-5.2zM297.4 545h5.2v1.5h-5.2zM315.4 115.1h5.2v3h-5.2zM315.4 124.1h5.2v2.5h-5.2zM315.4 151h5.2v2h-5.2zM315.4 202.5h5.2v2h-5.2zM327.4 198.7h5.2v1.5h-5.2zM327.4 203.2h5.2v2.8h-5.2zM345.4 157.8h5.2v1.5h-5.2zM345.4 159.3h5.2v1.5h-5.2zM345.4 160.8h5.2v2.5h-5.2zM345.4 228.6h5.2v2.4h-5.2zM345.4 304h5.2v3h-5.2zM345.4 313h5.2v2h-5.2zM345.4 321h5.2v2h-5.2zM369.4 365.1h5.2v1.9h-5.2zM345.4 458.1h5.2v3h-5.2zM345.4 461.1h5.2v2h-5.2zM345.4 467.1h5.2v2.5h-5.2zM345.4 487.1h5.2v3h-5.2zM345.4 490.1h5.2v2.5h-5.2zM345.4 492.6h5.2v2h-5.2zM345.4 497.6h5.2v3h-5.2zM345.4 510.1h5.2v1.5h-5.2zM345.4 526.1h5.2v2h-5.2zM345.4 535.6h5.2v2h-5.2zM345.4 549.6h5.2v3h-5.2zM345.4 552.6h5.2v3h-5.2zM369.4 575h5.2v3h-5.2zM393.4 188.5h5.2v2h-5.2zM393.4 192.5h5.2v2.5h-5.2zM429.4 195h5.2v2h-5.2zM441.4 101.7h5.2v2.1h-5.2zM441.4 186.5h5.2v3h-5.2zM441.4 191.5h5.2v1.5h-5.2zM393.4 430.5h5.2v2h-5.2zM441.4 441h5.2v2h-5.2zM441.4 444.5h5.2v3h-5.2zM441.4 547.5h5.2v2h-5.2z"/>
<path fill="#d1d1f6" d="M27.4 100.5h5.2v2h-5.2zM27.4 104.5h5.2v1.5h-5.2zM27.4 107.5h5.2v2.5h-5.2zM27.4 112.5h5.2v1.5h-5.2zM27.4 166h5.2v1.5h-5.2zM27.4 181h5.2v2.5h-5.2zM27.4 183.5h5.2v2h-5.2zM45.4 157h5.2v3h-5.2zM45.4 160h5.2v2.5h-5.2zM75.4 89.5h5.2v2h-5.2zM75.4 94.5h5.2v2.5h-5.2zM75.4 110.5h5.2v1.5h-5.2zM75.4 156.5h5.2v2h-5.2zM75.4 182.5h5.2v3h-5.2zM27.4 251.5h5.2v0.5h-5.2zM27.4 339.5h5.2v2.5h-5.2zM27.4 353h5.2v2h-5.2zM27.4 355h5.2v2h-5.2zM27.4 416h5.2v2.5h-5.2zM45.4 397h5.2v0.7h-5.2zM69.4 399.2h5.2v2.5h-5.2zM75.4 265.7h5.2v1.5h-5.2zM75.4 267.2h5.2v2.5h-5.2zM75.4 275.7h5.2v3h-5.2zM75.4 278.7h5.2v2.5h-5.2zM75.4 291.7h5.2v2h-5.2zM75.4 300.7h5.2v2h-5.2zM75.4 355h5.2v1.5h-5.2zM75.4 363h5.2v1.5h-5.2zM75.4 391h5.2v1.5h-5.2zM75.4 394.5h5.2v1.5h-5.2zM75.4 405.2h5.2v2.5h-5.2zM27.4 420h5.2v2h-5.2zM27.4 441.5h5.2v3h-5.2zM27.4 458h5.2v1.5h-5.2zM27.4 459.5h5.2v1.5h-5.2zM27.4 489h5.2v1h-5.2zM45.4 488h5.2v2h-5.2zM75.4 445h5.2v1.5h-5.2zM75.4 470.5h5.2v2h-5.2zM75.4 503h5.2v3h-5.2zM75.4 523.5h5.2v1.5h-5.2zM75.4 539.5h5.2v2.5h-5.2zM81.4 444h5.2v3h-5.2zM123.4 181h5.2v2.5h-5.2zM123.4 191.5h5.2v2.5h-5.2zM123.4 242h5.2v1.5h-5.2zM123.4 243.5h5.2v2.5h-5.2zM135.4 97.5h5.2v3h-5.2zM135.4 196h5.2v1.5h-5.2zM135.4 207h5.2v2h-5.2zM93.4 396.6h5.2v1.5h-5.2zM93.4 400.6h5.2v1.1h-5.2zM93.4 483h5.2v3h-5.2zM93.4 534.9h5.2v2.5h-5.2zM93.4 541.4h5.2v1.6h-5.2zM135.4 441.5h5.2v2h-5.2zM135.4 450h5.2v2h-5.2zM159.4 248.5h5.2v1.5h-5.2zM171.4 183h5.2v2h-5.2zM171.4 185h5.2v2h-5.2zM177.4 82h5.2v1.5h-5.2zM177.4 85h5.2v3h-5.2zM177.4 100.5h5.2v2.5h-5.2zM177.4 103h5.2v2h-5.2zM177.4 105h5.2v0.5h-5.2zM177.4 178h5.2v1.5h-5.2zM177.4 179.5h5.2v0.5h-5.2zM225.4 241h5.2v2h-5.2zM225.4 246h5.2v1.5h-5.2zM159.4 255.5h5.2v2h-5.2zM159.4 286.5h5.2v1.5h-5.2zM159.4 365.6h5.2v3h-5.2zM177.4 304h5.2v2h-5.2zM177.4 308h5.2v2h-5.2zM177.4 310h5.2v2h-5.2zM177.4 316.5h5.2v2h-5.2zM177.4 318.5h5.2v2.5h-5.2zM177.4 332.5h5.2v0.5h-5.2zM159.4 439h5.2v2.5h-5.2zM243.4 103h5.2v3h-5.2zM243.4 113.6h5.2v3h-5.2zM243.4 118.1h5.2v1.5h-5.2zM243.4 149.5h5.2v1.5h-5.2zM261.4 89.5h5.2v1.5h-5.2zM273.4 207h5.2v1.5h-5.2zM273.4 208.5h5.2v1.5h-5.2zM291.4 103.8h5.2v3h-5.2zM291.4 109.3h5.2v2h-5.2zM291.4 111.3h5.2v0.7h-5.2zM297.4 102.2h5.2v1.5h-5.2zM297.4 103.7h5.2v0.1h-5.2zM297.4 119h5.2v3h-5.2zM297.4 126.5h5.2v2h-5.2zM231.4 249.5h5.2v2.5h-5.2zM237.4 307h5.2v1.5h-5.2zM243.4 316h5.2v2.5h-5.2zM243.4 320h5.2v1.5h-5.2zM243.4 321.5h5.2v1.5h-5.2zM291.4 275h5.2v2.5h-5.2zM291.4 293.5h5.2v3h-5.2zM291.4 296.5h5.2v2.5h-5.2zM291.4 299h5.2v2h-5.2zM291.4 375.1h5.2v2.5h-5.2zM297.4 342.5h5.2v2.5h-5.2zM297.4 345h5.2v3h-5.2zM243.4 548.5h5.2v2.5h-5.2zM255.4 563h5.2v2.5h-5.2zM255.4 567.5h5.2v2h-5.2zM255.4 590.5h5.2v2.5h-5.2zM255.4 593h5.2v2.5h-5.2zM291.4 439.9h5.2v1.5h-5.2zM291.4 448.9h5.2v1.5h-5.2zM291.4 458h5.2v3h-5.2zM315.4 110.6h5.2v1.5h-5.2zM315.4 118.1h5.2v2h-5.2zM315.4 154.5h5.2v2.5h-5.2zM315.4 157h5.2v2h-5.2zM315.4 200h5.2v2.5h-5.2zM345.4 215.6h5.2v2h-5.2zM345.4 224.1h5.2v3h-5.2zM369.4 100.7h5.2v3h-5.2zM345.4 308.5h5.2v1.5h-5.2zM345.4 310h5.2v3h-5.2zM345.4 319h5.2v2h-5.2zM345.4 323h5.2v1.6h-5.2zM345.4 358.5h5.2v3h-5.2zM345.4 469.6h5.2v3h-5.2zM345.4 474.6h5.2v2.5h-5.2zM345.4 484.1h5.2v1.5h-5.2zM345.4 542.6h5.2v2.5h-5.2zM369.4 578h5.2v1h-5.2zM393.4 183h5.2v2.5h-5.2zM393.4 185.5h5.2v3h-5.2zM393.4 215.5h5.2v0.2h-5.2zM405.4 243h5.2v1.5h-5.2zM405.4 247.5h5.2v1.5h-5.2zM429.4 184.5h5.2v2.5h-5.2zM441.4 195.5h5.2v1.5h-5.2zM429.4 323h5.2v2.5h-5.2zM435.4 357h5.2v2h-5.2zM435.4 359h5.2v2h-5.2zM393.4 432.5h5.2v3h-5.2zM393.4 435.5h5.2v1.9h-5.2zM393.4 548.1h5.2v0.9h-5.2zM435.4 576.5h5.2v1.5h-5.2zM435.4 578h5.2v2.5h-5.2zM435.4 584.5h5.2v3h-5.2zM435.4 590h5.2v2.5h-5.2zM435.4 595h5.2v2h-5.2zM441.4 447.5h5.2v0.5h-5.2zM441.4 549.5h5.2v1.5h-5.2z"/>
<path fill="#f9d4d4" d="M27.4 234h5.2v3h-5.2zM27.4 240h5.2v1.5h-5.2zM45.4 139.5h5.2v1.5h-5.2zM63.4 129h5.2v2.5h-5.2zM63.4 131.5h5.2v2.5h-5.2zM63.4 134h5.2v1.5h-5.2zM75.4 121.5h5.2v3h-5.2zM81.4 138.5h5.2v2.5h-5.2zM27.4 322h5.2v3h-5.2zM27.4 325h5.2v2h-5.2zM27.4 408h5.2v2h-5.2zM57.4 399.2h5.2v3h-5.2zM57.4 409.7h5.2v3h-5.2zM63.4 399h5.2v2h-5.2zM63.4 413h5.2v1.5h-5.2zM69.4 357h5.2v1.6h-5.2zM15.4 571h5.2v1.5h-5.2zM15.4 575.5h5.2v2.5h-5.2zM15.4 578h5.2v2.5h-5.2zM15.4 586.5h5.2v1.5h-5.2zM15.4 588h5.2v3h-5.2zM15.4 591h5.2v3h-5.2zM21.4 540.5h5.2v2h-5.2zM27.4 566.5h5.2v2h-5.2zM27.4 579h5.2v2.5h-5.2zM27.4 596.5h5.2v0.5h-5.2zM57.4 418h5.2v2.5h-5.2zM57.4 425h5.2v2.5h-5.2zM75.4 565.5h5.2v2h-5.2zM75.4 574.5h5.2v2.5h-5.2zM93.4 177h5.2v2.5h-5.2zM99.4 228.5h5.2v1.5h-5.2zM123.4 200h5.2v3h-5.2zM123.4 210.5h5.2v2.5h-5.2zM123.4 226.5h5.2v1h-5.2zM135.4 142h5.2v2.5h-5.2zM135.4 144.5h5.2v2.5h-5.2zM135.4 238.5h5.2v2h-5.2zM141.4 138h5.2v2h-5.2zM153.4 136h5.2v1.5h-5.2zM153.4 137.5h5.2v3h-5.2zM99.4 404h5.2v2.5h-5.2zM117.4 349h5.2v2h-5.2zM123.4 357h5.2v1.5h-5.2zM123.4 365.5h5.2v3h-5.2zM123.4 375.5h5.2v3h-5.2zM123.4 381h5.2v1.5h-5.2zM123.4 395h5.2v2h-5.2zM129.4 268h5.2v2.5h-5.2zM129.4 286.5h5.2v2h-5.2zM123.4 442h5.2v1.5h-5.2zM123.4 446.5h5.2v3h-5.2zM123.4 484h5.2v1h-5.2zM123.4 557h5.2v2.5h-5.2zM141.4 565h5.2v3h-5.2zM141.4 568h5.2v1.5h-5.2zM141.4 569.5h5.2v1.5h-5.2zM141.4 576h5.2v1h-5.2zM147.4 572.5h5.2v3h-5.2zM147.4 575.5h5.2v3h-5.2zM147.4 592h5.2v2h-5.2zM153.4 434h5.2v2h-5.2zM171.4 80h5.2v1.5h-5.2zM171.4 129h5.2v3h-5.2zM171.4 132h5.2v2h-5.2zM177.4 206h5.2v1.5h-5.2zM177.4 222h5.2v2.5h-5.2zM183.4 204.5h5.2v2h-5.2zM183.4 217h5.2v3h-5.2zM189.4 119h5.2v1.5h-5.2zM189.4 120.5h5.2v2h-5.2zM189.4 320.5h5.2v2.5h-5.2zM189.4 331.5h5.2v2.5h-5.2zM189.4 347h5.2v1.5h-5.2zM189.4 360.5h5.2v2h-5.2zM213.4 401.5h5.2v2.5h-5.2zM213.4 404h5.2v3h-5.2zM213.4 418h5.2v2h-5.2zM219.4 378.8h5.2v1.5h-5.2zM219.4 380.3h5.2v2.5h-5.2zM219.4 384.8h5.2v0.8h-5.2zM183.4 531.6h5.2v1.5h-5.2zM213.4 428h5.2v2h-5.2zM243.4 157.5h5.2v3h-5.2zM243.4 162.5h5.2v1.5h-5.2zM243.4 165.5h5.2v3h-5.2zM243.4 168.5h5.2v3h-5.2zM243.4 171.5h5.2v2h-5.2zM279.4 116.5h5.2v3h-5.2zM279.4 119.5h5.2v2h-5.2zM237.4 350h5.2v2.5h-5.2zM243.4 388.5h5.2v1.5h-5.2zM243.4 393.5h5.2v0.5h-5.2zM261.4 367h5.2v2.5h-5.2zM261.4 372.5h5.2v1.5h-5.2zM285.4 274h5.2v2.5h-5.2zM285.4 276.5h5.2v2h-5.2zM285.4 292.5h5.2v3h-5.2zM285.4 304.5h5.2v2h-5.2zM285.4 314h5.2v1.5h-5.2zM237.4 441h5.2v1.5h-5.2zM237.4 453h5.2v1.5h-5.2zM237.4 535h5.2v2h-5.2zM261.4 577h5.2v1.5h-5.2zM267.4 579.5h5.2v2h-5.2zM267.4 585h5.2v1.5h-5.2zM291.4 559.5h5.2v2h-5.2zM345.4 93.5h5.2v2h-5.2zM345.4 95.5h5.2v2.5h-5.2zM345.4 102.5h5.2v3h-5.2zM345.4 200h5.2v1.5h-5.2zM345.4 208.5h5.2v2h-5.2zM351.4 91.5h5.2v2.5h-5.2zM351.4 234h5.2v1.5h-5.2zM351.4 235.5h5.2v2.5h-5.2zM309.4 406.5h5.2v1.1h-5.2zM321.4 253.5h5.2v2.5h-5.2zM321.4 256h5.2v1.5h-5.2zM321.4 262.5h5.2v1.1h-5.2zM327.4 326h5.2v2h-5.2zM327.4 333.5h5.2v1.5h-5.2zM327.4 351h5.2v2h-5.2zM327.4 409h5.2v1.5h-5.2zM327.4 420.5h5.2v2h-5.2zM327.4 425.5h5.2v3h-5.2zM339.4 264h5.2v2h-5.2zM339.4 266h5.2v2.5h-5.2zM339.4 276.5h5.2v2.5h-5.2zM339.4 289h5.2v1.5h-5.2zM339.4 290.5h5.2v1.5h-5.2zM339.4 299h5.2v2.5h-5.2zM339.4 301.5h5.2v1.1h-5.2zM339.4 333h5.2v1.5h-5.2zM339.4 334.5h5.2v2.5h-5.2zM339.4 399.5h5.2v2h-5.2zM339.4 403.5h5.2v1.5h-5.2zM339.4 407h5.2v2h-5.2zM339.4 420h5.2v1.5h-5.2zM345.4 378.7h5.2v2h-5.2zM363.4 258.5h5.2v3h-5.2zM363.4 397.5h5.2v1.5h-5.2zM363.4 401h5.2v2.5h-5.2zM309.4 563h5.2v2h-5.2zM309.4 575.5h5.2v3h-5.2zM309.4 589.5h5.2v2.5h-5.2zM309.4 592h5.2v1.5h-5.2zM309.4 532.5h5.2v2.5h-5.2zM327.4 490h5.2v1.5h-5.2zM327.4 510.5h5.2v1.9h-5.2zM339.4 428h5.2v2.5h-5.2zM381.4 226.5h5.2v1.5h-5.2zM405.4 89h5.2v2.5h-5.2zM405.4 136h5.2v2.5h-5.2zM405.4 160.5h5.2v1.5h-5.2zM423.4 117h5.2v3h-5.2zM429.4 206.5h5.2v3h-5.2zM429.4 211.5h5.2v2.5h-5.2zM435.4 156h5.2v2.5h-5.2zM435.4 206h5.2v3h-5.2zM447.4 90h5.2v2h-5.2zM447.4 99h5.2v1.5h-5.2zM447.4 103h5.2v2h-5.2zM381.4 258.5h5.2v1.5h-5.2zM381.4 274.5h5.2v3h-5.2zM381.4 287h5.2v1.5h-5.2zM381.4 324.6h5.2v1.5h-5.2zM381.4 326.1h5.2v3h-5.2zM393.4 259.5h5.2v2h-5.2zM393.4 265.5h5.2v1.5h-5.2zM393.4 273.5h5.2v1.5h-5.2zM393.4 276.5h5.2v2h-5.2zM393.4 282.5h5.2v1.5h-5.2zM393.4 293h5.2v1.5h-5.2zM393.4 329.1h5.2v2.5h-5.2zM429.4 411.6h5.2v1.5h-5.2zM429.4 417.6h5.2v2h-5.2zM435.4 264h5.2v1.5h-5.2zM435.4 272.5h5.2v1.5h-5.2zM435.4 274h5.2v3h-5.2zM435.4 298h5.2v1.5h-5.2zM435.4 384.5h5.2v1.5h-5.2zM429.4 426h5.2v1h-5.2zM435.4 499.8h5.2v1.5h-5.2z"/>
<path fill="#f8d1d1" d="M27.4 237h5.2v3h-5.2zM27.4 241.5h5.2v1.5h-5.2zM63.4 124h5.2v2h-5.2zM63.4 126h5.2v3h-5.2zM75.4 112h5.2v1.5h-5.2zM75.4 116.5h5.2v3h-5.2zM75.4 119.5h5.2v2h-5.2zM27.4 320h5.2v2h-5.2zM27.4 328.5h5.2v1.5h-5.2zM57.4 414.7h5.2v3h-5.2zM57.4 419.2h5.2v0.8h-5.2zM63.4 407h5.2v3h-5.2zM63.4 411.5h5.2v1.5h-5.2zM69.4 355h5.2v2h-5.2zM75.4 330.5h5.2v2.5h-5.2zM15.4 585h5.2v1.5h-5.2zM15.4 594h5.2v2h-5.2zM21.4 533h5.2v2h-5.2zM21.4 539h5.2v1.5h-5.2zM27.4 562h5.2v3h-5.2zM27.4 570.5h5.2v3h-5.2zM75.4 577h5.2v3h-5.2zM75.4 590h5.2v1.5h-5.2zM75.4 591.5h5.2v2h-5.2zM93.4 156h5.2v3h-5.2zM93.4 161.5h5.2v2.5h-5.2zM93.4 168.5h5.2v2.5h-5.2zM93.4 179.5h5.2v0.5h-5.2zM99.4 199h5.2v3h-5.2zM99.4 214.5h5.2v3h-5.2zM123.4 203h5.2v2h-5.2zM123.4 213h5.2v2.5h-5.2zM123.4 218h5.2v3h-5.2zM135.4 236.5h5.2v2h-5.2zM135.4 240.5h5.2v2.5h-5.2zM99.4 402.5h5.2v1.5h-5.2zM99.4 406.5h5.2v2.5h-5.2zM117.4 345h5.2v2.5h-5.2zM123.4 368.5h5.2v2h-5.2zM123.4 370.5h5.2v2.5h-5.2zM123.4 387h5.2v2h-5.2zM123.4 389h5.2v1.5h-5.2zM123.4 392h5.2v1.5h-5.2zM129.4 262h5.2v3h-5.2zM129.4 281.5h5.2v3h-5.2zM129.4 288.5h5.2v2h-5.2zM129.4 290.5h5.2v2h-5.2zM129.4 295.5h5.2v1.5h-5.2zM129.4 297h5.2v2.5h-5.2zM99.4 445.5h5.2v1.5h-5.2zM123.4 443.5h5.2v3h-5.2zM123.4 454.5h5.2v0.5h-5.2zM123.4 481.5h5.2v2.5h-5.2zM123.4 547h5.2v2.5h-5.2zM147.4 585h5.2v1.5h-5.2zM147.4 595.5h5.2v1.5h-5.2zM165.4 155.5h5.2v1.5h-5.2zM165.4 161.5h5.2v2h-5.2zM171.4 81.5h5.2v2h-5.2zM177.4 202.5h5.2v1.5h-5.2zM177.4 211.5h5.2v3h-5.2zM183.4 206.5h5.2v1.5h-5.2zM189.4 116h5.2v1.5h-5.2zM189.4 130h5.2v2h-5.2zM189.4 304h5.2v2.5h-5.2zM189.4 325h5.2v2h-5.2zM189.4 329.5h5.2v2h-5.2zM189.4 337h5.2v1.5h-5.2zM189.4 338.5h5.2v2.5h-5.2zM213.4 407h5.2v2h-5.2zM213.4 410.5h5.2v2.5h-5.2zM213.4 415h5.2v3h-5.2zM183.4 533.1h5.2v1.5h-5.2zM189.4 537.6h5.2v2h-5.2zM189.4 541.1h5.2v0.9h-5.2zM213.4 421.5h5.2v1.5h-5.2zM213.4 538.5h5.2v3h-5.2zM219.4 541.6h5.2v0.4h-5.2zM237.4 138h5.2v3h-5.2zM243.4 153h5.2v1.5h-5.2zM243.4 176h5.2v2.5h-5.2zM249.4 156h5.2v1.5h-5.2zM249.4 159.5h5.2v2h-5.2zM249.4 161.5h5.2v2.5h-5.2zM249.4 165.5h5.2v1.5h-5.2zM261.4 137.7h5.2v3h-5.2zM279.4 121.5h5.2v0.9h-5.2zM237.4 348.5h5.2v1.5h-5.2zM243.4 365h5.2v2h-5.2zM243.4 367h5.2v2h-5.2zM243.4 390h5.2v2h-5.2zM243.4 392h5.2v1.5h-5.2zM285.4 253.5h5.2v2.5h-5.2zM285.4 259h5.2v1.5h-5.2zM285.4 262h5.2v3h-5.2zM285.4 283h5.2v2.5h-5.2zM285.4 288h5.2v3h-5.2zM285.4 311.5h5.2v2.5h-5.2zM285.4 315.5h5.2v3h-5.2zM285.4 341.5h5.2v2.5h-5.2zM285.4 349h5.2v2.5h-5.2zM237.4 528h5.2v1.5h-5.2zM237.4 529.5h5.2v2.5h-5.2zM261.4 592h5.2v3h-5.2zM261.4 595h5.2v2h-5.2zM267.4 575h5.2v3h-5.2zM267.4 589.5h5.2v2.5h-5.2zM291.4 561.5h5.2v1.5h-5.2zM309.4 136h5.2v1.5h-5.2zM309.4 137.5h5.2v3h-5.2zM345.4 99.5h5.2v1.5h-5.2zM345.4 110.5h5.2v1.5h-5.2zM345.4 201.5h5.2v2.5h-5.2zM345.4 204h5.2v2.5h-5.2zM351.4 99h5.2v2.5h-5.2zM351.4 103h5.2v2h-5.2zM351.4 108h5.2v3h-5.2zM351.4 111h5.2v1h-5.2zM309.4 402.5h5.2v2h-5.2zM321.4 318h5.2v2h-5.2zM321.4 320h5.2v3h-5.2zM327.4 348h5.2v3h-5.2zM327.4 407h5.2v2h-5.2zM327.4 413h5.2v2.5h-5.2zM327.4 415.5h5.2v2h-5.2zM339.4 261.5h5.2v2.5h-5.2zM339.4 279h5.2v3h-5.2zM339.4 286.5h5.2v2.5h-5.2zM339.4 292h5.2v2h-5.2zM339.4 294h5.2v2h-5.2zM339.4 429.5h5.2v0.5h-5.2zM345.4 376.7h5.2v2h-5.2zM345.4 380.7h5.2v3h-5.2zM357.4 382.7h5.2v2.5h-5.2zM357.4 393.7h5.2v2.5h-5.2zM309.4 567h5.2v2.5h-5.2zM309.4 571.5h5.2v2.5h-5.2zM309.4 578.5h5.2v1.5h-5.2zM309.4 593.5h5.2v2.5h-5.2zM315.4 430.5h5.2v2.5h-5.2zM321.4 436.5h5.2v0.9h-5.2zM327.4 491.5h5.2v3h-5.2zM327.4 502h5.2v1.5h-5.2zM327.4 506h5.2v1.5h-5.2zM339.4 420h5.2v2.5h-5.2zM339.4 422.5h5.2v2.5h-5.2zM339.4 435h5.2v2.4h-5.2zM345.4 442.7h5.2v1.5h-5.2zM351.4 444.2h5.2v3h-5.2zM375.4 175h5.2v3h-5.2zM405.4 85h5.2v1.5h-5.2zM423.4 122.5h5.2v2h-5.2zM423.4 124.5h5.2v2.5h-5.2zM429.4 200h5.2v1.5h-5.2zM435.4 209h5.2v2.5h-5.2zM435.4 211.5h5.2v2h-5.2zM381.4 272h5.2v2.5h-5.2zM381.4 292h5.2v2h-5.2zM381.4 321.6h5.2v3h-5.2zM393.4 257.5h5.2v2h-5.2zM393.4 278.5h5.2v1.5h-5.2zM393.4 302.5h5.2v0.2h-5.2zM393.4 319.6h5.2v2.5h-5.2zM393.4 322.1h5.2v1.5h-5.2zM393.4 331.6h5.2v1.4h-5.2zM393.4 361.1h5.2v1.5h-5.2zM423.4 399.1h5.2v3h-5.2zM423.4 402.1h5.2v3h-5.2zM423.4 408.6h5.2v3h-5.2zM423.4 411.6h5.2v1.5h-5.2zM423.4 419.6h5.2v0.4h-5.2zM429.4 397.6h5.2v1.5h-5.2zM429.4 419.6h5.2v0.4h-5.2zM435.4 265.5h5.2v1.5h-5.2zM435.4 267h5.2v3h-5.2zM435.4 270h5.2v2.5h-5.2zM435.4 289.5h5.2v2.5h-5.2zM435.4 294.5h5.2v1.5h-5.2zM435.4 299.5h5.2v2h-5.2zM435.4 378h5.2v2h-5.2zM429.4 532.5h5.2v2h-5.2zM429.4 539.5h5.2v1.5h-5.2zM435.4 505.3h5.2v2.5h-5.2zM435.4 511.3h5.2v1.2h-5.2z"/>
<path fill="#b8b8ef" d="M27.4 244h5.2v3h-5.2zM27.4 248.5h5.2v1.5h-5.2zM69.4 143h5.2v3h-5.2zM75.4 318h5.2v2.5h-5.2zM75.4 322.5h5.2v0.5h-5.2zM39.4 540h5.2v0.5h-5.2zM69.4 482h5.2v3h-5.2zM69.4 485h5.2v1h-5.2zM81.4 563h5.2v2.5h-5.2zM81.4 565.5h5.2v2h-5.2zM81.4 567.5h5.2v2h-5.2zM81.4 582h5.2v1.5h-5.2zM81.4 585.5h5.2v1.5h-5.2zM81.4 589h5.2v2h-5.2zM147.4 192.5h5.2v2.5h-5.2zM129.4 365.6h5.2v1.4h-5.2zM147.4 246.7h5.2v2h-5.2zM183.4 249h5.2v1h-5.2zM165.4 342.5h5.2v0.5h-5.2zM171.4 311h5.2v2.5h-5.2zM183.4 487.6h5.2v2.5h-5.2zM219.4 563h5.2v3h-5.2zM219.4 570.5h5.2v2.5h-5.2zM219.4 587h5.2v2.5h-5.2zM291.4 185h5.2v2h-5.2zM291.4 193h5.2v1.5h-5.2zM291.4 245h5.2v2.5h-5.2zM291.4 247.5h5.2v2h-5.2zM291.4 249.5h5.2v0.5h-5.2zM237.4 249.5h5.2v1.5h-5.2zM291.4 347h5.2v2.5h-5.2zM345.4 139h5.2v2h-5.2zM345.4 141h5.2v1h-5.2zM345.4 168h5.2v2h-5.2zM369.4 249.7h5.2v1.5h-5.2zM369.4 411.1h5.2v2h-5.2zM429.4 99.6h5.2v1.5h-5.2zM447.4 188h5.2v0.6h-5.2zM411.4 554.1h5.2v2.5h-5.2zM447.4 490.5h5.2v1h-5.2z"/>
<path fill="#b0b0ed" d="M27.4 250h5.2v1h-5.2zM39.4 250.5h5.2v0.5h-5.2zM57.4 248h5.2v2.5h-5.2zM69.4 119.5h5.2v1.5h-5.2zM69.4 123.5h5.2v2h-5.2zM69.4 125.5h5.2v1.5h-5.2zM57.4 245h5.2v2.5h-5.2zM57.4 247.5h5.2v2.5h-5.2zM57.4 250h5.2v2h-5.2zM69.4 246.5h5.2v3h-5.2zM69.4 249.5h5.2v1.5h-5.2zM81.4 335h5.2v3h-5.2zM81.4 576.5h5.2v3h-5.2zM81.4 587h5.2v2h-5.2zM153.4 243h5.2v2.5h-5.2zM165.4 336.5h5.2v2h-5.2zM219.4 566h5.2v2.5h-5.2zM219.4 573h5.2v3h-5.2zM219.4 579h5.2v2.5h-5.2zM219.4 594h5.2v2h-5.2zM291.4 187h5.2v1.5h-5.2zM291.4 188.5h5.2v2.5h-5.2zM297.4 168h5.2v1.5h-5.2zM297.4 169.5h5.2v1.5h-5.2zM237.4 248h5.2v1.5h-5.2zM291.4 339h5.2v2h-5.2zM291.4 343.5h5.2v2h-5.2zM291.4 351h5.2v2h-5.2zM297.4 409h5.2v2h-5.2zM321.4 363.6h5.2v2h-5.2zM321.4 368.6h5.2v1.8h-5.2zM369.4 380.5h5.2v3h-5.2zM369.4 390.7h5.2v2.5h-5.2zM369.4 393.2h5.2v1.5h-5.2zM369.4 407.6h5.2v2h-5.2zM369.4 413.1h5.2v1.3h-5.2zM339.4 538.5h5.2v2h-5.2zM393.4 99.6h5.2v2.5h-5.2zM447.4 180h5.2v1.5h-5.2zM441.4 380.5h5.2v2h-5.2zM375.4 486.6h5.2v2.5h-5.2z"/>
<path fill="#7a7ae4" d="M39.4 104h5.2v3h-5.2zM69.4 195h5.2v2h-5.2zM57.4 570.5h5.2v3h-5.2zM57.4 573.5h5.2v3h-5.2zM57.4 584h5.2v2h-5.2zM57.4 589.5h5.2v2.5h-5.2zM69.4 435.5h5.2v1.5h-5.2zM135.4 110h5.2v1.5h-5.2zM177.4 106h5.2v3h-5.2zM189.4 81h5.2v2h-5.2zM189.4 86h5.2v3h-5.2zM189.4 95h5.2v2.5h-5.2zM189.4 99.5h5.2v1.5h-5.2zM201.4 192.7h5.2v3h-5.2zM171.4 270.6h5.2v2h-5.2zM171.4 276.6h5.2v3h-5.2zM171.4 285.1h5.2v1.5h-5.2zM171.4 289.6h5.2v1.5h-5.2zM183.4 247.5h5.2v2.5h-5.2zM183.4 365.9h5.2v2h-5.2zM183.4 396.3h5.2v1.2h-5.2zM189.4 246.7h5.2v3h-5.2zM189.4 249.7h5.2v1.3h-5.2zM219.4 263.6h5.2v2h-5.2zM219.4 268.1h5.2v2.5h-5.2zM219.4 270.6h5.2v1.5h-5.2zM219.4 272.1h5.2v1.5h-5.2zM219.4 288.1h5.2v3h-5.2zM297.4 185.4h5.2v3h-5.2zM297.4 188.4h5.2v1.5h-5.2zM297.4 189.9h5.2v2.1h-5.2zM243.4 251.5h5.2v0.5h-5.2zM291.4 306.4h5.2v3h-5.2zM291.4 314.9h5.2v1.1h-5.2zM285.4 587h5.2v3h-5.2zM285.4 590h5.2v3h-5.2zM303.4 143.5h5.2v0.1h-5.2zM303.4 186.2h5.2v2.3h-5.2zM321.4 181.7h5.2v2.5h-5.2zM321.4 312.4h5.2v2.5h-5.2zM339.4 248h5.2v2.5h-5.2zM339.4 250.5h5.2v1.5h-5.2zM339.4 313.9h5.2v2h-5.2zM357.4 308.9h5.2v1.5h-5.2zM333.4 570.5h5.2v3h-5.2zM333.4 573.5h5.2v1.5h-5.2zM333.4 588.5h5.2v1.5h-5.2zM357.4 452.5h5.2v2.5h-5.2zM357.4 455h5.2v2h-5.2zM411.4 191.1h5.2v2.5h-5.2zM411.4 195.1h5.2v0.3h-5.2zM375.4 308.9h5.2v2.5h-5.2zM375.4 311.4h5.2v1.5h-5.2zM387.4 364.5h5.2v2.5h-5.2zM405.4 392.5h5.2v3h-5.2zM411.4 307.4h5.2v2h-5.2zM417.4 468h5.2v1.5h-5.2zM417.4 469.5h5.2v2.5h-5.2zM417.4 472h5.2v2.5h-5.2zM429.4 592.5h5.2v2h-5.2zM429.4 596h5.2v1h-5.2z"/>
<path fill="#9191e9" d="M39.4 107h5.2v1h-5.2zM69.4 181h5.2v3h-5.2zM69.4 187.5h5.2v1.5h-5.2zM57.4 587.5h5.2v2h-5.2zM57.4 595h5.2v1.5h-5.2zM69.4 433h5.2v2.5h-5.2zM171.4 242h5.2v3h-5.2zM189.4 83h5.2v3h-5.2zM189.4 90.5h5.2v2.5h-5.2zM189.4 97.5h5.2v2h-5.2zM189.4 110h5.2v1.4h-5.2zM201.4 195.7h5.2v0.3h-5.2zM171.4 334h5.2v3h-5.2zM183.4 246h5.2v1.5h-5.2zM183.4 364.4h5.2v1.5h-5.2zM183.4 367.9h5.2v2.5h-5.2zM183.4 390.3h5.2v1.5h-5.2zM219.4 276.6h5.2v1.5h-5.2zM219.4 283.1h5.2v1.5h-5.2zM219.4 298.1h5.2v0.9h-5.2zM243.4 242h5.2v2.5h-5.2zM285.4 240.3h5.2v1.7h-5.2zM291.4 311.4h5.2v1.5h-5.2zM291.4 312.9h5.2v2h-5.2zM291.4 332h5.2v1.5h-5.2zM285.4 577h5.2v2h-5.2zM285.4 582h5.2v3h-5.2zM285.4 593h5.2v2.5h-5.2zM303.4 183.2h5.2v3h-5.2zM321.4 187.2h5.2v0.5h-5.2zM339.4 246h5.2v2h-5.2zM303.4 393h5.2v2h-5.2zM303.4 396.5h5.2v1h-5.2zM315.4 395.5h5.2v2h-5.2zM321.4 306.4h5.2v2.5h-5.2zM321.4 310.4h5.2v2h-5.2zM357.4 314.9h5.2v1.1h-5.2zM363.4 357h5.2v2.5h-5.2zM309.4 539.5h5.2v1.5h-5.2zM333.4 568h5.2v2.5h-5.2zM357.4 441h5.2v2h-5.2zM357.4 448h5.2v3h-5.2zM399.4 167.4h5.2v1.5h-5.2zM375.4 304.4h5.2v3h-5.2zM381.4 356.5h5.2v2h-5.2zM405.4 248h5.2v3h-5.2zM405.4 395.5h5.2v2h-5.2zM411.4 312.4h5.2v1.5h-5.2zM429.4 571.5h5.2v2h-5.2zM429.4 585h5.2v2.5h-5.2zM429.4 594.5h5.2v1.5h-5.2zM441.4 432h5.2v1.5h-5.2zM441.4 433.5h5.2v1.5h-5.2zM441.4 436.5h5.2v0.9h-5.2z"/>
<path fill="#f7bebe" d="M39.4 121h5.2v2.5h-5.2zM39.4 226.5h5.2v2h-5.2zM81.4 124.5h5.2v3h-5.2zM57.4 259.4h5.2v1.5h-5.2zM39.4 481.5h5.2v2h-5.2zM69.4 415h5.2v3h-5.2zM69.4 424h5.2v3h-5.2zM123.4 400h5.2v3h-5.2zM123.4 403h5.2v1.5h-5.2zM99.4 563h5.2v2.5h-5.2zM99.4 567.5h5.2v1.5h-5.2zM99.4 570.5h5.2v2.5h-5.2zM99.4 584.5h5.2v2.5h-5.2zM99.4 592h5.2v1.5h-5.2zM99.4 596.5h5.2v1h-5.2zM135.4 570.5h5.2v1.5h-5.2zM135.4 573.5h5.2v2.5h-5.2zM135.4 584.5h5.2v2.5h-5.2zM147.4 527.6h5.2v2.5h-5.2zM153.4 593.5h5.2v0.5h-5.2zM177.4 241h5.2v1.5h-5.2zM189.4 219.2h5.2v1.5h-5.2zM171.4 406h5.2v3h-5.2zM177.4 586.5h5.2v1.5h-5.2zM177.4 588h5.2v1.5h-5.2zM177.4 593.5h5.2v2h-5.2zM243.4 232.5h5.2v3h-5.2zM243.4 235.5h5.2v3h-5.2zM243.4 240h5.2v2h-5.2zM261.4 122h5.2v2h-5.2zM261.4 176.6h5.2v1.4h-5.2zM243.4 377h5.2v2h-5.2zM285.4 396.5h5.2v1h-5.2zM237.4 517.5h5.2v0.1h-5.2zM297.4 531h5.2v2h-5.2zM297.4 575h5.2v1.5h-5.2zM297.4 576.5h5.2v2h-5.2zM297.4 585.5h5.2v1.5h-5.2zM321.4 179h5.2v1h-5.2zM333.4 112h5.2v3h-5.2zM333.4 115h5.2v3h-5.2zM333.4 122h5.2v2h-5.2zM333.4 128h5.2v3h-5.2zM333.4 242h5.2v1h-5.2zM339.4 132h5.2v3h-5.2zM363.4 112h5.2v3h-5.2zM363.4 135.5h5.2v0.5h-5.2zM369.4 118.5h5.2v2.5h-5.2zM369.4 122.5h5.2v1.5h-5.2zM309.4 333h5.2v3h-5.2zM321.4 274.1h5.2v2.5h-5.2zM321.4 276.6h5.2v2h-5.2zM321.4 278.6h5.2v1.5h-5.2zM321.4 285.1h5.2v2.5h-5.2zM321.4 292.6h5.2v1.5h-5.2zM321.4 295.6h5.2v1.9h-5.2zM345.4 279h5.2v2.5h-5.2zM345.4 281.5h5.2v1.5h-5.2zM345.4 292.5h5.2v2.5h-5.2zM345.4 295h5.2v2h-5.2zM345.4 396.7h5.2v0.8h-5.2zM357.4 275h5.2v3h-5.2zM357.4 283.5h5.2v2h-5.2zM357.4 287h5.2v3h-5.2zM357.4 295h5.2v2.5h-5.2zM315.4 441h5.2v1.5h-5.2zM315.4 450h5.2v1.5h-5.2zM315.4 451.5h5.2v2.5h-5.2zM339.4 524.6h5.2v2.5h-5.2zM345.4 569.5h5.2v3h-5.2zM357.4 437h5.2v0.4h-5.2zM369.4 566.5h5.2v1.5h-5.2zM375.4 205h5.2v2.5h-5.2zM375.4 211h5.2v2h-5.2zM375.4 217h5.2v3h-5.2zM375.4 227h5.2v3h-5.2zM381.4 136h5.2v2h-5.2zM381.4 197h5.2v1.5h-5.2zM381.4 206.5h5.2v2.5h-5.2zM417.4 136h5.2v2h-5.2zM429.4 248.9h5.2v1.1h-5.2zM435.4 116h5.2v2.5h-5.2zM435.4 131.5h5.2v2.5h-5.2zM375.4 316h5.2v3h-5.2zM375.4 319h5.2v1.5h-5.2zM375.4 330.5h5.2v1.5h-5.2zM387.4 255.5h5.2v1.5h-5.2zM387.4 262.5h5.2v2.5h-5.2zM387.4 276h5.2v1.5h-5.2zM387.4 277.5h5.2v2.5h-5.2zM387.4 299.5h5.2v3h-5.2zM399.4 253.5h5.2v2h-5.2zM399.4 264.5h5.2v2.5h-5.2zM399.4 285h5.2v2h-5.2zM399.4 292h5.2v2.5h-5.2zM399.4 297h5.2v2.5h-5.2zM399.4 305.9h5.2v2.5h-5.2zM399.4 316.4h5.2v1.5h-5.2zM411.4 322.5h5.2v2.5h-5.2zM417.4 357h5.2v2h-5.2zM417.4 371h5.2v1h-5.2zM417.4 392.6h5.2v2h-5.2zM423.4 273h5.2v2h-5.2zM423.4 276.5h5.2v1.5h-5.2zM423.4 286.5h5.2v2h-5.2zM423.4 291.5h5.2v1.5h-5.2zM423.4 302.5h5.2v0.2h-5.2zM429.4 260.5h5.2v2.5h-5.2zM429.4 269h5.2v3h-5.2zM429.4 276.5h5.2v1.5h-5.2zM429.4 281h5.2v2h-5.2zM435.4 322.6h5.2v2.1h-5.2zM441.4 253.5h5.2v1.5h-5.2zM441.4 255h5.2v2.5h-5.2zM441.4 257.5h5.2v1.5h-5.2zM441.4 259h5.2v2h-5.2zM441.4 262.5h5.2v2h-5.2zM441.4 293h5.2v2h-5.2zM441.4 299.5h5.2v2.5h-5.2zM375.4 490h5.2v2h-5.2zM375.4 504h5.2v2h-5.2zM375.4 506h5.2v2h-5.2zM381.4 430.5h5.2v2.5h-5.2zM393.4 455.2h5.2v1.5h-5.2zM393.4 466.2h5.2v0.8h-5.2zM393.4 566h5.2v1.5h-5.2zM393.4 569h5.2v1.5h-5.2zM393.4 570.5h5.2v1.5h-5.2zM393.4 572h5.2v1.5h-5.2zM393.4 576.5h5.2v1.5h-5.2zM393.4 586h5.2v3h-5.2zM393.4 589h5.2v3h-5.2zM393.4 596h5.2v1h-5.2zM399.4 512.5h5.2v1.5h-5.2zM399.4 514h5.2v2h-5.2zM435.4 545.5h5.2v1.5h-5.2zM447.4 483.5h5.2v3h-5.2zM447.4 501.5h5.2v1.5h-5.2zM447.4 505h5.2v3h-5.2zM447.4 508h5.2v1.5h-5.2zM447.4 509.5h5.2v3h-5.2zM447.4 545.6h5.2v3h-5.2zM69.4 405h5.2v1.5h-5.2zM69.4 406.5h5.2v2.5h-5.2zM69.4 409h5.2v1.5h-5.2z"/>
<path fill="#f7c2c2" d="M39.4 123.5h5.2v2.5h-5.2zM39.4 199h5.2v2h-5.2zM39.4 210.5h5.2v1.5h-5.2zM39.4 222h5.2v1.5h-5.2zM39.4 228.5h5.2v2.5h-5.2zM81.4 114.5h5.2v3h-5.2zM81.4 407h5.2v2.5h-5.2zM81.4 409.5h5.2v2.5h-5.2zM81.4 412h5.2v2.6h-5.2zM39.4 486h5.2v1h-5.2zM39.4 527h5.2v1.5h-5.2zM39.4 531h5.2v1h-5.2zM63.4 514.2h5.2v1.5h-5.2zM69.4 418h5.2v2.5h-5.2zM123.4 407h5.2v3h-5.2zM129.4 328.5h5.2v2h-5.2zM99.4 569h5.2v1.5h-5.2zM99.4 587h5.2v2h-5.2zM123.4 420h5.2v2.5h-5.2zM123.4 422.5h5.2v2h-5.2zM135.4 563h5.2v1.5h-5.2zM147.4 524.6h5.2v3h-5.2zM153.4 586.5h5.2v2h-5.2zM171.4 112h5.2v3h-5.2zM171.4 121h5.2v1.4h-5.2zM177.4 233h5.2v3h-5.2zM189.4 205.2h5.2v2h-5.2zM189.4 220.7h5.2v1.5h-5.2zM171.4 412h5.2v0.7h-5.2zM177.4 575h5.2v2h-5.2zM183.4 565.5h5.2v2h-5.2zM183.4 576h5.2v2.5h-5.2zM183.4 589h5.2v1.5h-5.2zM183.4 593.5h5.2v2.5h-5.2zM195.4 592h5.2v2h-5.2zM195.4 594h5.2v1.5h-5.2zM195.4 595.5h5.2v1.5h-5.2zM261.4 174.1h5.2v2.5h-5.2zM261.4 201.7h5.2v2.5h-5.2zM261.4 204.2h5.2v2.8h-5.2zM273.4 174.5h5.2v3h-5.2zM285.4 142.8h5.2v1.5h-5.2zM243.4 375h5.2v2h-5.2zM285.4 382.5h5.2v2h-5.2zM297.4 528.5h5.2v2.5h-5.2zM297.4 578.5h5.2v1.5h-5.2zM297.4 593.5h5.2v3h-5.2zM321.4 176h5.2v3h-5.2zM333.4 126.5h5.2v1.5h-5.2zM333.4 231h5.2v2.5h-5.2zM333.4 235h5.2v2.5h-5.2zM339.4 130h5.2v2h-5.2zM363.4 125h5.2v2h-5.2zM369.4 114h5.2v2.5h-5.2zM369.4 121h5.2v1.5h-5.2zM321.4 271.1h5.2v3h-5.2zM321.4 281.6h5.2v2h-5.2zM321.4 287.6h5.2v2h-5.2zM345.4 259.5h5.2v2.5h-5.2zM345.4 268h5.2v2.5h-5.2zM345.4 302.5h5.2v0.1h-5.2zM345.4 390.7h5.2v3h-5.2zM345.4 393.7h5.2v3h-5.2zM357.4 256.5h5.2v2h-5.2zM357.4 272h5.2v3h-5.2zM357.4 290h5.2v2h-5.2zM357.4 297.5h5.2v2.5h-5.2zM309.4 573.5h5.2v2.5h-5.2zM309.4 576h5.2v2.5h-5.2zM315.4 445.5h5.2v1.5h-5.2zM315.4 447h5.2v3h-5.2zM345.4 565h5.2v2.5h-5.2zM345.4 572.5h5.2v1.5h-5.2zM345.4 576h5.2v1.5h-5.2zM345.4 591h5.2v2.5h-5.2zM345.4 593.5h5.2v1.5h-5.2zM369.4 563h5.2v1.5h-5.2zM375.4 197h5.2v1.5h-5.2zM375.4 213h5.2v2.5h-5.2zM375.4 220h5.2v2h-5.2zM381.4 203.5h5.2v3h-5.2zM381.4 221.5h5.2v3h-5.2zM381.4 226h5.2v1.5h-5.2zM399.4 176.5h5.2v2.5h-5.2zM399.4 179h5.2v1.5h-5.2zM417.4 141h5.2v1h-5.2zM429.4 234.4h5.2v3h-5.2zM429.4 237.4h5.2v2h-5.2zM375.4 320.5h5.2v2h-5.2zM375.4 332h5.2v1h-5.2zM387.4 253.5h5.2v2h-5.2zM387.4 259.5h5.2v3h-5.2zM387.4 272h5.2v2h-5.2zM387.4 274h5.2v2h-5.2zM387.4 280h5.2v2.5h-5.2zM387.4 284h5.2v2h-5.2zM399.4 271h5.2v3h-5.2zM399.4 279.5h5.2v2h-5.2zM399.4 281.5h5.2v1.5h-5.2zM399.4 287h5.2v3h-5.2zM399.4 299.5h5.2v2.5h-5.2zM399.4 302h5.2v0.7h-5.2zM399.4 304.4h5.2v1.5h-5.2zM399.4 308.4h5.2v1.5h-5.2zM411.4 253.8h5.2v2h-5.2zM411.4 258.8h5.2v2.5h-5.2zM411.4 316h5.2v2h-5.2zM411.4 320.5h5.2v2h-5.2zM411.4 334.5h5.2v3h-5.2zM417.4 365h5.2v2h-5.2zM423.4 256h5.2v2h-5.2zM423.4 258h5.2v3h-5.2zM423.4 266h5.2v2h-5.2zM423.4 278h5.2v3h-5.2zM423.4 281h5.2v2.5h-5.2zM423.4 283.5h5.2v3h-5.2zM429.4 283h5.2v1.5h-5.2zM441.4 277.5h5.2v1.5h-5.2zM441.4 289h5.2v1.5h-5.2zM441.4 302h5.2v0.7h-5.2zM375.4 494h5.2v1.5h-5.2zM375.4 510h5.2v2h-5.2zM393.4 584.5h5.2v1.5h-5.2zM393.4 592h5.2v1.5h-5.2zM399.4 430.5h5.2v1.5h-5.2zM399.4 432h5.2v3h-5.2zM411.4 432.5h5.2v1.5h-5.2zM417.4 454.2h5.2v0.8h-5.2zM435.4 451h5.2v2.5h-5.2zM447.4 430.5h5.2v2h-5.2zM447.4 481h5.2v2.5h-5.2z"/>
<path fill="#f5b6b6" d="M39.4 128h5.2v3h-5.2zM39.4 201h5.2v2h-5.2zM39.4 217h5.2v2.5h-5.2zM39.4 223.5h5.2v3h-5.2zM63.4 515.7h5.2v1.3h-5.2zM69.4 420.5h5.2v2h-5.2zM69.4 427h5.2v3h-5.2zM81.4 521.5h5.2v2.5h-5.2zM123.4 397h5.2v3h-5.2zM123.4 413h5.2v2.5h-5.2zM129.4 326h5.2v2.5h-5.2zM99.4 576h5.2v3h-5.2zM99.4 581.5h5.2v3h-5.2zM99.4 589h5.2v3h-5.2zM99.4 593.5h5.2v3h-5.2zM123.4 424.5h5.2v3h-5.2zM123.4 430h5.2v0.5h-5.2zM135.4 564.5h5.2v2.5h-5.2zM135.4 580h5.2v3h-5.2zM147.4 531.6h5.2v0.8h-5.2zM153.4 563h5.2v2h-5.2zM153.4 572.5h5.2v2.5h-5.2zM153.4 584.5h5.2v2h-5.2zM177.4 124.5h5.2v1.5h-5.2zM177.4 231h5.2v2h-5.2zM189.4 200.2h5.2v1.5h-5.2zM189.4 211.2h5.2v2h-5.2zM189.4 216.2h5.2v3h-5.2zM177.4 567h5.2v2h-5.2zM177.4 569h5.2v3h-5.2zM177.4 572h5.2v1.5h-5.2zM177.4 573.5h5.2v1.5h-5.2zM177.4 595.5h5.2v1.5h-5.2zM183.4 567.5h5.2v3h-5.2zM183.4 578.5h5.2v2.5h-5.2zM183.4 586.5h5.2v2.5h-5.2zM183.4 590.5h5.2v3h-5.2zM183.4 596h5.2v1h-5.2zM189.4 543.8h5.2v2.5h-5.2zM189.4 549.3h5.2v1.5h-5.2zM195.4 583.5h5.2v1.5h-5.2zM195.4 589.5h5.2v2.5h-5.2zM243.4 238.5h5.2v1.5h-5.2zM261.4 118h5.2v1.5h-5.2zM261.4 125.5h5.2v0.5h-5.2zM261.4 198.7h5.2v3h-5.2zM273.4 173h5.2v1.5h-5.2zM273.4 177.5h5.2v1.5h-5.2zM273.4 179h5.2v1h-5.2zM285.4 144.3h5.2v2.5h-5.2zM285.4 148.8h5.2v2.2h-5.2zM285.4 379.5h5.2v3h-5.2zM285.4 384.5h5.2v3h-5.2zM297.4 533h5.2v3h-5.2zM297.4 537.5h5.2v2.5h-5.2zM297.4 563h5.2v2.5h-5.2zM297.4 565.5h5.2v2h-5.2zM297.4 596.5h5.2v0.5h-5.2zM333.4 233.5h5.2v1.5h-5.2zM339.4 127.5h5.2v2.5h-5.2zM363.4 119h5.2v1.5h-5.2zM363.4 133h5.2v2.5h-5.2zM369.4 116.5h5.2v2h-5.2zM369.4 124h5.2v2h-5.2zM309.4 336h5.2v2h-5.2zM321.4 263.6h5.2v2h-5.2zM321.4 289.6h5.2v3h-5.2zM321.4 323h5.2v2h-5.2zM345.4 270.5h5.2v1.5h-5.2zM345.4 277.5h5.2v1.5h-5.2zM345.4 283h5.2v2h-5.2zM345.4 290.5h5.2v2h-5.2zM345.4 297h5.2v1.5h-5.2zM357.4 265h5.2v2h-5.2zM357.4 278h5.2v2.5h-5.2zM357.4 300h5.2v2.6h-5.2zM309.4 434h5.2v2.5h-5.2zM309.4 436.5h5.2v0.9h-5.2zM309.4 578.5h5.2v1.5h-5.2zM339.4 527.1h5.2v3h-5.2zM345.4 581h5.2v2h-5.2zM345.4 583h5.2v1.5h-5.2zM357.4 432.5h5.2v1.5h-5.2zM357.4 434h5.2v3h-5.2zM369.4 576h5.2v1h-5.2zM375.4 198.5h5.2v3h-5.2zM375.4 203.5h5.2v1.5h-5.2zM375.4 207.5h5.2v1.5h-5.2zM375.4 209h5.2v2h-5.2zM375.4 223.5h5.2v2h-5.2zM375.4 230h5.2v1h-5.2zM381.4 138h5.2v3h-5.2zM381.4 141h5.2v1h-5.2zM381.4 201.5h5.2v2h-5.2zM381.4 216.5h5.2v1.5h-5.2zM381.4 224.5h5.2v1.5h-5.2zM381.4 227.5h5.2v2h-5.2zM381.4 229.5h5.2v1.5h-5.2zM399.4 175h5.2v1.5h-5.2zM399.4 180.5h5.2v0.5h-5.2zM435.4 113.5h5.2v2.5h-5.2zM435.4 124h5.2v2h-5.2zM435.4 127.5h5.2v2h-5.2zM387.4 265h5.2v1.5h-5.2zM387.4 269h5.2v3h-5.2zM387.4 292.5h5.2v3h-5.2zM387.4 297h5.2v2.5h-5.2zM387.4 302.5h5.2v0.2h-5.2zM399.4 259h5.2v1.5h-5.2zM399.4 267h5.2v2.5h-5.2zM399.4 283h5.2v2h-5.2zM399.4 314.4h5.2v2h-5.2zM399.4 317.9h5.2v0.1h-5.2zM411.4 251.8h5.2v2h-5.2zM411.4 255.8h5.2v3h-5.2zM411.4 318h5.2v2.5h-5.2zM417.4 362h5.2v3h-5.2zM417.4 386.6h5.2v2h-5.2zM417.4 390.6h5.2v2h-5.2zM423.4 293h5.2v2.5h-5.2zM423.4 295.5h5.2v2.5h-5.2zM429.4 278h5.2v3h-5.2zM429.4 284.5h5.2v2.5h-5.2zM429.4 287h5.2v3h-5.2zM429.4 292.5h5.2v2h-5.2zM429.4 298h5.2v1.5h-5.2zM429.4 299.5h5.2v2.5h-5.2zM441.4 268h5.2v1.5h-5.2zM441.4 271.5h5.2v3h-5.2zM441.4 274.5h5.2v3h-5.2zM441.4 279h5.2v2.5h-5.2zM441.4 284.5h5.2v3h-5.2zM441.4 296.5h5.2v3h-5.2zM375.4 495.5h5.2v2h-5.2zM375.4 497.5h5.2v2h-5.2zM375.4 502.5h5.2v1.5h-5.2zM375.4 512h5.2v0.5h-5.2zM393.4 449.7h5.2v3h-5.2zM393.4 459.7h5.2v1.5h-5.2zM393.4 464.2h5.2v2h-5.2zM393.4 563h5.2v3h-5.2zM393.4 573.5h5.2v1.5h-5.2zM393.4 582.5h5.2v2h-5.2zM399.4 437h5.2v0.4h-5.2zM399.4 516h5.2v2.5h-5.2zM399.4 518.5h5.2v1h-5.2zM411.4 430.5h5.2v2h-5.2zM411.4 437h5.2v0.4h-5.2zM417.4 444.2h5.2v2.5h-5.2zM417.4 448.2h5.2v1.5h-5.2zM417.4 449.7h5.2v3h-5.2zM435.4 455.5h5.2v1.1h-5.2zM435.4 547h5.2v2h-5.2zM447.4 479h5.2v2h-5.2zM69.4 410.5h5.2v2.5h-5.2z"/>
<path fill="#f5b2b2" d="M39.4 132.5h5.2v3h-5.2zM39.4 135.5h5.2v0.5h-5.2zM39.4 206h5.2v2.5h-5.2zM39.4 208.5h5.2v2h-5.2zM39.4 212h5.2v2.5h-5.2zM39.4 214.5h5.2v2.5h-5.2zM81.4 112h5.2v2.5h-5.2zM81.4 117.5h5.2v3h-5.2zM81.4 122h5.2v2.5h-5.2zM57.4 260.9h5.2v1.5h-5.2zM39.4 479.5h5.2v2h-5.2zM39.4 483.5h5.2v2.5h-5.2zM39.4 528.5h5.2v2.5h-5.2zM63.4 512.7h5.2v1.5h-5.2zM69.4 422.5h5.2v1.5h-5.2zM69.4 588h5.2v3h-5.2zM69.4 594h5.2v3h-5.2zM123.4 411.5h5.2v1.5h-5.2zM129.4 330.5h5.2v2.5h-5.2zM99.4 579h5.2v2.5h-5.2zM135.4 567h5.2v2h-5.2zM135.4 576h5.2v1h-5.2zM153.4 568h5.2v2h-5.2zM153.4 570h5.2v2.5h-5.2zM153.4 580.5h5.2v1.5h-5.2zM153.4 582h5.2v2.5h-5.2zM153.4 588.5h5.2v3h-5.2zM153.4 591.5h5.2v2h-5.2zM171.4 115h5.2v3h-5.2zM177.4 122h5.2v2.5h-5.2zM189.4 198.7h5.2v1.5h-5.2zM189.4 207.2h5.2v2h-5.2zM189.4 213.2h5.2v3h-5.2zM189.4 222.2h5.2v1.8h-5.2zM171.4 409h5.2v3h-5.2zM177.4 565.5h5.2v1.5h-5.2zM177.4 582h5.2v2h-5.2zM183.4 570.5h5.2v3h-5.2zM183.4 581h5.2v2.5h-5.2zM183.4 583.5h5.2v3h-5.2zM195.4 582h5.2v1.5h-5.2zM195.4 588h5.2v1.5h-5.2zM261.4 114h5.2v2.5h-5.2zM261.4 116.5h5.2v1.5h-5.2zM243.4 379h5.2v1.5h-5.2zM243.4 380.5h5.2v2h-5.2zM243.4 382.5h5.2v1.5h-5.2zM285.4 377h5.2v2.5h-5.2zM285.4 394h5.2v2.5h-5.2zM237.4 514.5h5.2v3h-5.2zM297.4 526h5.2v2.5h-5.2zM297.4 570.5h5.2v2.5h-5.2zM297.4 582.5h5.2v1.5h-5.2zM297.4 587h5.2v2.5h-5.2zM297.4 589.5h5.2v1.5h-5.2zM321.4 173h5.2v3h-5.2zM333.4 118h5.2v2h-5.2zM333.4 124h5.2v2.5h-5.2zM333.4 131h5.2v2h-5.2zM339.4 135h5.2v1h-5.2zM363.4 115h5.2v2h-5.2zM363.4 117h5.2v2h-5.2zM363.4 120.5h5.2v2h-5.2zM363.4 128.5h5.2v2h-5.2zM369.4 126h5.2v2.5h-5.2zM369.4 128.5h5.2v0.5h-5.2zM321.4 280.1h5.2v1.5h-5.2zM321.4 283.6h5.2v1.5h-5.2zM321.4 294.1h5.2v1.5h-5.2zM321.4 326.5h5.2v3h-5.2zM321.4 331.5h5.2v1.5h-5.2zM345.4 255h5.2v2h-5.2zM345.4 257h5.2v2.5h-5.2zM345.4 274.5h5.2v3h-5.2zM345.4 287.5h5.2v3h-5.2zM345.4 298.5h5.2v1.5h-5.2zM357.4 253.5h5.2v3h-5.2zM357.4 263h5.2v2h-5.2zM357.4 270h5.2v2h-5.2zM357.4 292h5.2v1.5h-5.2zM309.4 430.5h5.2v2h-5.2zM309.4 432.5h5.2v1.5h-5.2zM309.4 571h5.2v2.5h-5.2zM315.4 439h5.2v2h-5.2zM315.4 444h5.2v1.5h-5.2zM339.4 530.1h5.2v2.3h-5.2zM345.4 563h5.2v2h-5.2zM345.4 567.5h5.2v2h-5.2zM345.4 584.5h5.2v3h-5.2zM345.4 587.5h5.2v1.5h-5.2zM345.4 595h5.2v2h-5.2zM357.4 430.5h5.2v2h-5.2zM369.4 573h5.2v1.5h-5.2zM375.4 201.5h5.2v2h-5.2zM375.4 215.5h5.2v1.5h-5.2zM375.4 222h5.2v1.5h-5.2zM375.4 225.5h5.2v1.5h-5.2zM381.4 200h5.2v1.5h-5.2zM381.4 214h5.2v2.5h-5.2zM381.4 220h5.2v1.5h-5.2zM417.4 138h5.2v3h-5.2zM429.4 239.4h5.2v1.5h-5.2zM435.4 112h5.2v1.5h-5.2zM435.4 121.5h5.2v2.5h-5.2zM375.4 324.5h5.2v3h-5.2zM375.4 327.5h5.2v3h-5.2zM387.4 257h5.2v2.5h-5.2zM387.4 266.5h5.2v2.5h-5.2zM387.4 282.5h5.2v1.5h-5.2zM387.4 286h5.2v2.5h-5.2zM387.4 290h5.2v2.5h-5.2zM399.4 257h5.2v2h-5.2zM399.4 260.5h5.2v2.5h-5.2zM399.4 269.5h5.2v1.5h-5.2zM399.4 294.5h5.2v2.5h-5.2zM417.4 359h5.2v3h-5.2zM417.4 367h5.2v1.5h-5.2zM423.4 270.5h5.2v2.5h-5.2zM423.4 275h5.2v1.5h-5.2zM423.4 298h5.2v2h-5.2zM429.4 253.5h5.2v1.5h-5.2zM429.4 255h5.2v3h-5.2zM429.4 258h5.2v2.5h-5.2zM429.4 263h5.2v3h-5.2zM429.4 290h5.2v2.5h-5.2zM429.4 294.5h5.2v1.5h-5.2zM429.4 302h5.2v0.7h-5.2zM435.4 319.6h5.2v3h-5.2zM441.4 269.5h5.2v2h-5.2zM441.4 281.5h5.2v3h-5.2zM441.4 287.5h5.2v1.5h-5.2zM441.4 290.5h5.2v2.5h-5.2zM441.4 295h5.2v1.5h-5.2zM375.4 492h5.2v2h-5.2zM375.4 499.5h5.2v3h-5.2zM375.4 508h5.2v2h-5.2zM381.4 433h5.2v3h-5.2zM393.4 456.7h5.2v1.5h-5.2zM393.4 458.2h5.2v1.5h-5.2zM393.4 461.2h5.2v3h-5.2zM393.4 575h5.2v1.5h-5.2zM393.4 580h5.2v2.5h-5.2zM417.4 446.7h5.2v1.5h-5.2zM435.4 453.5h5.2v2h-5.2zM435.4 544h5.2v1.5h-5.2zM435.4 549h5.2v2h-5.2zM447.4 432.5h5.2v2.5h-5.2zM447.4 489.5h5.2v2h-5.2zM447.4 495.5h5.2v3h-5.2zM447.4 503h5.2v2h-5.2zM447.4 548.6h5.2v2.4h-5.2z"/>
<path fill="#bdbdf0" d="M39.4 246h5.2v2h-5.2zM39.4 248h5.2v2.5h-5.2zM57.4 246h5.2v2h-5.2zM69.4 146h5.2v1.5h-5.2zM69.4 334h5.2v2.5h-5.2zM75.4 320.5h5.2v2h-5.2zM39.4 537h5.2v3h-5.2zM81.4 544h5.2v3h-5.2zM81.4 574h5.2v2.5h-5.2zM81.4 579.5h5.2v2.5h-5.2zM81.4 592.5h5.2v2.5h-5.2zM147.4 251.2h5.2v0.6h-5.2zM153.4 485h5.2v0.4h-5.2zM171.4 163h5.2v2.5h-5.2zM171.4 248.5h5.2v2h-5.2zM171.4 313.5h5.2v3h-5.2zM183.4 485.1h5.2v2.5h-5.2zM219.4 430.5h5.2v3h-5.2zM219.4 433.5h5.2v0.5h-5.2zM219.4 591h5.2v3h-5.2zM291.4 194.5h5.2v2.5h-5.2zM297.4 175.5h5.2v1.1h-5.2zM237.4 245h5.2v3h-5.2zM291.4 341h5.2v2.5h-5.2zM291.4 345.5h5.2v1.5h-5.2zM291.4 349.5h5.2v1.5h-5.2zM345.4 166.5h5.2v1.5h-5.2zM369.4 246h5.2v3h-5.2zM315.4 368.1h5.2v0.6h-5.2zM321.4 365.6h5.2v3h-5.2zM369.4 430.5h5.2v2h-5.2zM369.4 432.5h5.2v3h-5.2zM429.4 101.1h5.2v1.9h-5.2zM435.4 242h5.2v1.5h-5.2zM435.4 243.5h5.2v1.9h-5.2zM441.4 409.5h5.2v1.5h-5.2zM375.4 489.1h5.2v0.9h-5.2zM441.4 504.5h5.2v1h-5.2z"/>
<path fill="#ebebfc" d="M69.4 83h5.2v2.5h-5.2zM69.4 85.5h5.2v3h-5.2zM69.4 100h5.2v1.5h-5.2zM69.4 108h5.2v1.5h-5.2zM111.4 112h5.2v2.5h-5.2zM111.4 118h5.2v1h-5.2zM135.4 177h5.2v1.5h-5.2zM93.4 334.5h5.2v2.5h-5.2zM111.4 287h5.2v2.5h-5.2zM135.4 333h5.2v3h-5.2zM135.4 336h5.2v3h-5.2zM135.4 342h5.2v1.5h-5.2zM135.4 343.5h5.2v1.5h-5.2zM135.4 355.5h5.2v1.5h-5.2zM135.4 372h5.2v2.5h-5.2zM135.4 376h5.2v3h-5.2zM135.4 379h5.2v1.5h-5.2zM135.4 383.5h5.2v2.5h-5.2zM153.4 260h5.2v3h-5.2zM153.4 265h5.2v2.5h-5.2zM153.4 273h5.2v1.5h-5.2zM153.4 274.5h5.2v2.5h-5.2zM153.4 280.5h5.2v3h-5.2zM153.4 283.5h5.2v2.5h-5.2zM153.4 286h5.2v2.5h-5.2zM153.4 291.5h5.2v3h-5.2zM153.4 297h5.2v2h-5.2zM105.4 567h5.2v2h-5.2zM105.4 580.5h5.2v3h-5.2zM129.4 499h5.2v3h-5.2zM129.4 579h5.2v2h-5.2zM129.4 582.5h5.2v1.5h-5.2zM135.4 494h5.2v1.5h-5.2zM135.4 507h5.2v1.5h-5.2zM159.4 82h5.2v3h-5.2zM159.4 89.5h5.2v2h-5.2zM159.4 99.5h5.2v2.5h-5.2zM159.4 102h5.2v2.5h-5.2zM159.4 107h5.2v1.5h-5.2zM159.4 108.5h5.2v2.1h-5.2zM177.4 186.7h5.2v1.5h-5.2zM177.4 195.2h5.2v1.5h-5.2zM183.4 89h5.2v2h-5.2zM183.4 91h5.2v3h-5.2zM183.4 96.5h5.2v2h-5.2zM183.4 104.5h5.2v1.5h-5.2zM183.4 106h5.2v2.5h-5.2zM183.4 152h5.2v2h-5.2zM159.4 315h5.2v3h-5.2zM159.4 323.5h5.2v1.5h-5.2zM159.4 330.5h5.2v2.5h-5.2zM159.4 413.5h5.2v2h-5.2zM177.4 340h5.2v3h-5.2zM177.4 355h5.2v3h-5.2zM177.4 370h5.2v3h-5.2zM177.4 373h5.2v2.5h-5.2zM177.4 394.5h5.2v2.5h-5.2zM177.4 407.5h5.2v3h-5.2zM183.4 279h5.2v2h-5.2zM183.4 281h5.2v2.5h-5.2zM183.4 296h5.2v3h-5.2zM159.4 420h5.2v1.5h-5.2zM159.4 425.5h5.2v2h-5.2zM177.4 420h5.2v3h-5.2zM177.4 425.5h5.2v2h-5.2zM177.4 429h5.2v2h-5.2zM177.4 436h5.2v2h-5.2zM177.4 440h5.2v1.5h-5.2zM177.4 451h5.2v3h-5.2zM177.4 467h5.2v1.5h-5.2zM177.4 475h5.2v2.5h-5.2zM177.4 481h5.2v3h-5.2zM177.4 494h5.2v2h-5.2zM177.4 496h5.2v3h-5.2zM177.4 501.5h5.2v2h-5.2zM261.4 186.5h5.2v2.5h-5.2zM267.4 268h5.2v3h-5.2zM267.4 273h5.2v1.5h-5.2zM267.4 278h5.2v2.5h-5.2zM267.4 282.5h5.2v2.5h-5.2zM267.4 289h5.2v2.5h-5.2zM243.4 449h5.2v2h-5.2zM315.4 217h5.2v3h-5.2zM315.4 220h5.2v2h-5.2zM315.4 222h5.2v1.5h-5.2zM315.4 579.5h5.2v2.5h-5.2z"/>
<path fill="#ededfc" d="M69.4 88.5h5.2v3h-5.2zM69.4 106.5h5.2v1.5h-5.2zM135.4 171.5h5.2v3h-5.2zM135.4 178.5h5.2v1.5h-5.2zM93.4 333h5.2v1.5h-5.2zM93.4 341.5h5.2v2.5h-5.2zM93.4 345.5h5.2v1.5h-5.2zM93.4 352.5h5.2v2.5h-5.2zM111.4 289.5h5.2v3h-5.2zM111.4 292.5h5.2v1.5h-5.2zM135.4 339h5.2v3h-5.2zM135.4 374.5h5.2v1.5h-5.2zM153.4 301h5.2v1.5h-5.2zM105.4 572h5.2v3h-5.2zM105.4 583.5h5.2v2.5h-5.2zM129.4 496h5.2v3h-5.2zM129.4 563h5.2v2h-5.2zM129.4 588.5h5.2v1.5h-5.2zM129.4 595h5.2v1.5h-5.2zM135.4 491h5.2v3h-5.2zM135.4 495.5h5.2v3h-5.2zM135.4 501.5h5.2v1.5h-5.2zM159.4 86.5h5.2v3h-5.2zM159.4 91.5h5.2v2.5h-5.2zM159.4 140h5.2v3h-5.2zM177.4 190.7h5.2v1.5h-5.2zM183.4 101.5h5.2v3h-5.2zM183.4 108.5h5.2v2.5h-5.2zM183.4 117h5.2v2.5h-5.2zM183.4 130h5.2v3h-5.2zM183.4 133h5.2v1h-5.2zM183.4 154h5.2v3h-5.2zM183.4 162h5.2v2h-5.2zM183.4 167h5.2v3h-5.2zM183.4 173h5.2v2h-5.2zM183.4 177.5h5.2v2.5h-5.2zM159.4 306h5.2v3h-5.2zM159.4 310.5h5.2v1.5h-5.2zM159.4 318h5.2v2h-5.2zM159.4 389h5.2v2h-5.2zM159.4 395h5.2v1.5h-5.2zM159.4 410.5h5.2v3h-5.2zM159.4 415.5h5.2v2.5h-5.2zM177.4 358h5.2v1.5h-5.2zM177.4 366h5.2v2h-5.2zM177.4 377.5h5.2v1.5h-5.2zM177.4 397h5.2v2.5h-5.2zM177.4 399.5h5.2v1.5h-5.2zM177.4 410.5h5.2v2h-5.2zM177.4 417h5.2v2h-5.2zM183.4 253.5h5.2v1.5h-5.2zM183.4 255h5.2v2h-5.2zM183.4 263.5h5.2v2h-5.2zM183.4 265.5h5.2v1.5h-5.2zM183.4 273h5.2v1.5h-5.2zM183.4 276.5h5.2v2.5h-5.2zM183.4 283.5h5.2v2.5h-5.2zM183.4 286h5.2v3h-5.2zM183.4 290.5h5.2v2.5h-5.2zM159.4 421.5h5.2v2.5h-5.2zM177.4 423h5.2v2.5h-5.2zM177.4 441.5h5.2v2h-5.2zM177.4 468.5h5.2v2.5h-5.2zM177.4 473.5h5.2v1.5h-5.2zM177.4 479.5h5.2v1.5h-5.2zM177.4 486h5.2v2.5h-5.2zM177.4 488.5h5.2v2.5h-5.2zM177.4 507h5.2v2h-5.2zM261.4 185h5.2v1.5h-5.2zM267.4 256.5h5.2v2h-5.2zM267.4 258.5h5.2v1.5h-5.2zM267.4 276.5h5.2v1.5h-5.2zM267.4 280.5h5.2v2h-5.2zM267.4 285h5.2v2.5h-5.2zM267.4 291.5h5.2v2.5h-5.2zM267.4 296h5.2v2h-5.2zM243.4 442.5h5.2v3h-5.2zM315.4 223.5h5.2v2.5h-5.2zM315.4 570h5.2v3h-5.2zM315.4 576h5.2v1.5h-5.2zM315.4 590.5h5.2v3h-5.2zM315.4 595.5h5.2v1.5h-5.2z"/>
<path fill="#eaeafc" d="M69.4 91.5h5.2v3h-5.2zM135.4 156h5.2v3h-5.2zM135.4 159h5.2v3h-5.2zM93.4 347h5.2v2.5h-5.2zM135.4 346.5h5.2v3h-5.2zM135.4 353.5h5.2v2h-5.2zM135.4 388.5h5.2v2h-5.2zM153.4 253.5h5.2v2.5h-5.2zM105.4 569h5.2v3h-5.2zM105.4 575h5.2v2.5h-5.2zM105.4 592.5h5.2v3h-5.2zM129.4 490h5.2v2h-5.2zM129.4 504.5h5.2v2h-5.2zM129.4 508h5.2v2.5h-5.2zM129.4 571.5h5.2v3h-5.2zM129.4 576.5h5.2v2.5h-5.2zM129.4 581h5.2v1.5h-5.2zM129.4 584h5.2v2h-5.2zM129.4 592.5h5.2v2.5h-5.2zM159.4 97h5.2v2.5h-5.2zM177.4 181.7h5.2v2h-5.2zM183.4 94h5.2v2.5h-5.2zM183.4 122h5.2v2h-5.2zM183.4 124h5.2v3h-5.2zM159.4 309h5.2v1.5h-5.2zM159.4 325h5.2v2.5h-5.2zM159.4 374h5.2v3h-5.2zM159.4 377h5.2v3h-5.2zM159.4 380h5.2v1.5h-5.2zM159.4 407.5h5.2v3h-5.2zM177.4 344.5h5.2v1.5h-5.2zM177.4 363h5.2v3h-5.2zM177.4 368h5.2v2h-5.2zM177.4 375.5h5.2v2h-5.2zM177.4 388h5.2v1.5h-5.2zM177.4 389.5h5.2v2.5h-5.2zM177.4 405.5h5.2v2h-5.2zM177.4 412.5h5.2v3h-5.2zM177.4 415.5h5.2v1.5h-5.2zM183.4 259.5h5.2v2h-5.2zM183.4 271.5h5.2v1.5h-5.2zM183.4 274.5h5.2v2h-5.2zM183.4 299h5.2v2h-5.2zM213.4 255h5.2v2.5h-5.2zM177.4 434h5.2v2h-5.2zM177.4 438h5.2v2h-5.2zM177.4 443.5h5.2v2.5h-5.2zM177.4 446h5.2v2.5h-5.2zM177.4 448.5h5.2v2.5h-5.2zM177.4 454h5.2v3h-5.2zM177.4 457h5.2v2h-5.2zM177.4 503.5h5.2v1.5h-5.2zM267.4 262h5.2v3h-5.2zM267.4 274.5h5.2v2h-5.2zM267.4 298h5.2v2h-5.2zM243.4 441h5.2v1.5h-5.2zM243.4 453.5h5.2v1.5h-5.2zM315.4 573h5.2v1.5h-5.2z"/>
<path fill="#eeeefc" d="M69.4 105h5.2v1.5h-5.2zM111.4 116.5h5.2v1.5h-5.2zM135.4 153.5h5.2v2.5h-5.2zM135.4 164h5.2v1.5h-5.2zM135.4 168.5h5.2v3h-5.2zM93.4 340h5.2v1.5h-5.2zM93.4 349.5h5.2v3h-5.2zM135.4 390.5h5.2v1.5h-5.2zM153.4 279h5.2v1.5h-5.2zM153.4 302.5h5.2v0.1h-5.2zM105.4 563h5.2v2.5h-5.2zM105.4 565.5h5.2v1.5h-5.2zM105.4 586h5.2v1.5h-5.2zM105.4 587.5h5.2v3h-5.2zM105.4 590.5h5.2v2h-5.2zM105.4 595.5h5.2v1.5h-5.2zM129.4 493.5h5.2v2.5h-5.2zM129.4 502h5.2v2.5h-5.2zM129.4 565h5.2v2.5h-5.2zM129.4 567.5h5.2v2h-5.2zM129.4 569.5h5.2v2h-5.2zM129.4 586h5.2v2.5h-5.2zM129.4 590h5.2v2.5h-5.2zM135.4 498.5h5.2v3h-5.2zM135.4 503h5.2v2h-5.2zM135.4 505h5.2v2h-5.2zM159.4 85h5.2v1.5h-5.2zM159.4 136h5.2v2h-5.2zM177.4 188.2h5.2v2.5h-5.2zM183.4 111h5.2v1.5h-5.2zM183.4 112.5h5.2v2.5h-5.2zM183.4 119.5h5.2v2.5h-5.2zM183.4 157h5.2v2.5h-5.2zM183.4 164h5.2v1.5h-5.2zM183.4 170h5.2v3h-5.2zM183.4 175h5.2v2.5h-5.2zM159.4 322h5.2v1.5h-5.2zM159.4 327.5h5.2v3h-5.2zM159.4 384.5h5.2v2h-5.2zM159.4 396.5h5.2v0.5h-5.2zM159.4 402h5.2v3h-5.2zM159.4 405h5.2v2.5h-5.2zM177.4 336h5.2v2h-5.2zM177.4 346h5.2v2h-5.2zM177.4 350h5.2v2h-5.2zM177.4 352h5.2v1.5h-5.2zM177.4 361.5h5.2v1.5h-5.2zM177.4 381.5h5.2v1.5h-5.2zM177.4 383h5.2v3h-5.2zM177.4 386h5.2v2h-5.2zM177.4 392h5.2v2.5h-5.2zM177.4 403.5h5.2v2h-5.2zM183.4 257h5.2v2.5h-5.2zM183.4 267h5.2v3h-5.2zM183.4 270h5.2v1.5h-5.2zM183.4 289h5.2v1.5h-5.2zM159.4 427.5h5.2v2h-5.2zM177.4 427.5h5.2v1.5h-5.2zM177.4 431h5.2v3h-5.2zM177.4 459h5.2v3h-5.2zM177.4 465h5.2v2h-5.2zM177.4 471h5.2v2.5h-5.2zM177.4 499h5.2v2.5h-5.2zM177.4 505h5.2v2h-5.2zM177.4 509h5.2v3h-5.2zM261.4 183h5.2v2h-5.2zM267.4 271h5.2v2h-5.2zM267.4 294h5.2v2h-5.2zM267.4 300h5.2v1.5h-5.2zM267.4 301.5h5.2v1.1h-5.2zM243.4 447h5.2v2h-5.2zM315.4 577.5h5.2v2h-5.2zM315.4 582h5.2v1.5h-5.2zM315.4 583.5h5.2v2.5h-5.2zM315.4 586h5.2v2h-5.2zM315.4 588h5.2v2.5h-5.2zM441.4 305.2h5.2v0.8h-5.2z"/>
<path fill="#ababec" d="M69.4 115h5.2v2h-5.2zM69.4 121h5.2v2.5h-5.2zM69.4 246h5.2v3h-5.2zM69.4 250.5h5.2v0.5h-5.2zM39.4 249.5h5.2v2.5h-5.2zM69.4 251h5.2v1h-5.2zM69.4 336.5h5.2v1h-5.2zM81.4 547h5.2v1h-5.2zM81.4 569.5h5.2v2.5h-5.2zM81.4 583.5h5.2v2h-5.2zM147.4 190h5.2v2.5h-5.2zM153.4 245.5h5.2v1.5h-5.2zM147.4 248.7h5.2v2.5h-5.2zM153.4 480h5.2v2.5h-5.2zM153.4 482.5h5.2v2.5h-5.2zM165.4 338.5h5.2v2.5h-5.2zM165.4 341h5.2v1.5h-5.2zM171.4 250.5h5.2v1.5h-5.2zM171.4 316.5h5.2v1.5h-5.2zM183.4 483.6h5.2v1.5h-5.2zM183.4 490.1h5.2v0.5h-5.2zM219.4 581.5h5.2v3h-5.2zM219.4 589.5h5.2v1.5h-5.2zM219.4 596h5.2v1h-5.2zM297.4 173h5.2v2.5h-5.2zM237.4 251h5.2v1h-5.2zM243.4 333h5.2v2.5h-5.2zM243.4 337.5h5.2v2.5h-5.2zM345.4 136h5.2v3h-5.2zM345.4 170h5.2v1.5h-5.2zM345.4 171.5h5.2v0.9h-5.2zM369.4 249h5.2v1h-5.2zM363.4 336h5.2v0.5h-5.2zM369.4 383.5h5.2v0.5h-5.2zM369.4 394.7h5.2v2h-5.2zM369.4 409.6h5.2v1.5h-5.2zM339.4 543h5.2v1h-5.2zM393.4 102.1h5.2v0.9h-5.2zM447.4 184.5h5.2v2h-5.2zM447.4 332h5.2v3h-5.2zM411.4 552.6h5.2v1.5h-5.2zM441.4 502h5.2v2.5h-5.2zM447.4 486h5.2v2.5h-5.2z"/>
<path fill="#8a8ae8" d="M69.4 184h5.2v1.5h-5.2zM57.4 569h5.2v1.5h-5.2zM57.4 586h5.2v1.5h-5.2zM57.4 592h5.2v3h-5.2zM69.4 437h5.2v1h-5.2zM177.4 111.5h5.2v0.5h-5.2zM189.4 89h5.2v1.5h-5.2zM189.4 101h5.2v3h-5.2zM189.4 104h5.2v3h-5.2zM189.4 249h5.2v1h-5.2zM171.4 268.6h5.2v2h-5.2zM171.4 272.6h5.2v2h-5.2zM171.4 279.6h5.2v2.5h-5.2zM171.4 288.1h5.2v1.5h-5.2zM171.4 291.1h5.2v2.5h-5.2zM183.4 250h5.2v1h-5.2zM183.4 370.4h5.2v0.6h-5.2zM183.4 391.8h5.2v1.5h-5.2zM201.4 337.1h5.2v1.9h-5.2zM219.4 273.6h5.2v3h-5.2zM219.4 286.6h5.2v1.5h-5.2zM219.4 292.6h5.2v3h-5.2zM243.4 245h5.2v2h-5.2zM243.4 248.5h5.2v3h-5.2zM291.4 303.4h5.2v3h-5.2zM291.4 309.4h5.2v2h-5.2zM291.4 325.5h5.2v1.5h-5.2zM285.4 563h5.2v2.5h-5.2zM285.4 565.5h5.2v2.5h-5.2zM285.4 568h5.2v3h-5.2zM303.4 139h5.2v1.5h-5.2zM303.4 140.5h5.2v3h-5.2zM303.4 181.7h5.2v1.5h-5.2zM339.4 248h5.2v2h-5.2zM303.4 395h5.2v1.5h-5.2zM321.4 303.4h5.2v3h-5.2zM321.4 314.9h5.2v1.1h-5.2zM339.4 252h5.2v0.6h-5.2zM339.4 303.4h5.2v3h-5.2zM339.4 315.9h5.2v0.1h-5.2zM357.4 303.4h5.2v3h-5.2zM357.4 306.4h5.2v2.5h-5.2zM309.4 456.6h5.2v1.5h-5.2zM309.4 537h5.2v2.5h-5.2zM333.4 575h5.2v3h-5.2zM357.4 443h5.2v3h-5.2zM357.4 446h5.2v2h-5.2zM357.4 457h5.2v2.5h-5.2zM357.4 459.5h5.2v3h-5.2zM357.4 462.5h5.2v0.2h-5.2zM375.4 315.9h5.2v0.3h-5.2zM381.4 358.5h5.2v2h-5.2zM411.4 309.4h5.2v3h-5.2zM417.4 474.5h5.2v1.3h-5.2zM429.4 573.5h5.2v2.5h-5.2zM429.4 581h5.2v1.5h-5.2zM429.4 590.5h5.2v2h-5.2zM441.4 435h5.2v1.5h-5.2z"/>
<path fill="#7373e3" d="M69.4 185.5h5.2v2h-5.2zM69.4 192.5h5.2v2.5h-5.2zM57.4 576.5h5.2v3h-5.2zM57.4 596.5h5.2v1h-5.2zM135.4 108h5.2v2h-5.2zM189.4 246h5.2v3h-5.2zM171.4 274.6h5.2v2h-5.2zM171.4 293.6h5.2v2.4h-5.2zM183.4 393.3h5.2v3h-5.2zM219.4 265.6h5.2v2.5h-5.2zM219.4 284.6h5.2v2h-5.2zM219.4 295.6h5.2v2.5h-5.2zM243.4 246.5h5.2v3h-5.2zM297.4 183.4h5.2v2h-5.2zM291.4 329.5h5.2v2.5h-5.2zM291.4 333.5h5.2v3h-5.2zM285.4 571h5.2v3h-5.2zM285.4 585h5.2v2h-5.2zM315.4 393h5.2v2.5h-5.2zM339.4 245h5.2v3h-5.2zM339.4 310.4h5.2v1.5h-5.2zM339.4 311.9h5.2v2h-5.2zM357.4 310.4h5.2v1.5h-5.2zM363.4 359.5h5.2v1.5h-5.2zM333.4 563h5.2v2.5h-5.2zM333.4 565.5h5.2v2.5h-5.2zM333.4 578h5.2v2h-5.2zM333.4 592.5h5.2v1.5h-5.2zM357.4 451h5.2v1.5h-5.2zM381.4 108h5.2v1.5h-5.2zM411.4 193.6h5.2v1.5h-5.2zM375.4 307.4h5.2v1.5h-5.2zM375.4 312.9h5.2v3h-5.2zM405.4 251h5.2v0.8h-5.2zM411.4 313.9h5.2v1.5h-5.2zM411.4 315.4h5.2v0.8h-5.2zM429.4 563h5.2v3h-5.2zM429.4 568.5h5.2v3h-5.2zM429.4 578h5.2v3h-5.2zM429.4 587.5h5.2v3h-5.2zM441.4 430.5h5.2v1.5h-5.2z"/>
<path fill="#ef8a8a" d="M75.4 127h5.2v2h-5.2zM147.4 206h5.2v1.5h-5.2zM147.4 515h5.2v2.6h-5.2zM189.4 571.5h5.2v2.5h-5.2zM189.4 581h5.2v3h-5.2zM201.4 513h5.2v2.5h-5.2zM243.4 435h5.2v1.5h-5.2zM243.4 590h5.2v3h-5.2zM327.4 516.4h5.2v1.2h-5.2zM345.4 568h5.2v2h-5.2zM369.4 588.5h5.2v2h-5.2zM411.4 232.7h5.2v1.5h-5.2zM435.4 328.7h5.2v1.5h-5.2zM387.4 586h5.2v2h-5.2zM387.4 588h5.2v1.5h-5.2zM387.4 589.5h5.2v2.5h-5.2zM423.4 536h5.2v3h-5.2zM441.4 588.5h5.2v2h-5.2zM69.4 420h5.2v3h-5.2zM69.4 425.5h5.2v2.5h-5.2z"/>
<path fill="#ec7373" d="M75.4 129h5.2v1.5h-5.2zM75.4 133h5.2v3h-5.2zM69.4 419.5h5.2v0.5h-5.2zM147.4 202.5h5.2v2h-5.2zM147.4 207.5h5.2v1.5h-5.2zM177.4 131h5.2v1.5h-5.2zM177.4 132.5h5.2v3h-5.2zM177.4 392h5.2v3h-5.2zM189.4 565.5h5.2v3h-5.2zM189.4 588.5h5.2v2.5h-5.2zM189.4 596h5.2v1h-5.2zM201.4 515.5h5.2v1.5h-5.2zM243.4 436.5h5.2v0.1h-5.2zM243.4 585.5h5.2v1.5h-5.2zM243.4 588.5h5.2v1.5h-5.2zM291.4 496.7h5.2v3h-5.2zM363.4 200.7h5.2v2.5h-5.2zM363.4 205.7h5.2v3h-5.2zM303.4 391.5h5.2v0.9h-5.2zM345.4 570h5.2v2.5h-5.2zM369.4 583.5h5.2v2.5h-5.2zM369.4 590.5h5.2v2h-5.2zM369.4 594.5h5.2v2.5h-5.2zM423.4 241.9h5.2v1.5h-5.2zM423.4 243.4h5.2v2h-5.2zM423.4 245h5.2v2h-5.2zM429.4 250h5.2v1.8h-5.2zM435.4 324.7h5.2v2.5h-5.2zM387.4 582h5.2v2h-5.2zM423.4 532.5h5.2v1.5h-5.2zM441.4 582h5.2v2h-5.2zM441.4 592.5h5.2v1.5h-5.2zM441.4 595.5h5.2v1.5h-5.2z"/>
<path fill="#ed7a7a" d="M75.4 130.5h5.2v2.5h-5.2zM69.4 413h5.2v2h-5.2zM69.4 415h5.2v1.5h-5.2zM147.4 204.5h5.2v1.5h-5.2zM177.4 135.5h5.2v0.5h-5.2zM177.4 395h5.2v2.5h-5.2zM189.4 563h5.2v2.5h-5.2zM189.4 568.5h5.2v3h-5.2zM189.4 574h5.2v2h-5.2zM303.4 387h5.2v2h-5.2zM303.4 393.5h5.2v0.5h-5.2zM243.4 584h5.2v1.5h-5.2zM243.4 595.5h5.2v1.5h-5.2zM291.4 499.7h5.2v0.3h-5.2zM303.4 386.5h5.2v2.5h-5.2zM327.4 514.9h5.2v1.5h-5.2zM411.4 238.2h5.2v2.5h-5.2zM411.4 240.7h5.2v0.3h-5.2zM423.4 234.4h5.2v3h-5.2zM423.4 237.4h5.2v1.5h-5.2zM423.4 245.4h5.2v1.5h-5.2zM423.4 246.9h5.2v2h-5.2zM435.4 327.2h5.2v1.5h-5.2zM435.4 330.2h5.2v2.5h-5.2zM387.4 596h5.2v1h-5.2z"/>
<path fill="#fdefef" d="M15.4 260h5.2v3h-5.2zM15.4 268h5.2v3h-5.2zM15.4 274.5h5.2v2h-5.2zM15.4 282h5.2v3h-5.2zM15.4 295h5.2v2h-5.2zM15.4 304.5h5.2v1.5h-5.2zM15.4 307.5h5.2v3h-5.2zM15.4 317.5h5.2v2.5h-5.2zM15.4 322h5.2v2.5h-5.2zM15.4 332h5.2v1h-5.2zM27.4 254.5h5.2v1.5h-5.2zM27.4 261h5.2v2.5h-5.2zM27.4 263.5h5.2v1.5h-5.2zM27.4 274.5h5.2v1.5h-5.2zM27.4 276h5.2v3h-5.2zM27.4 281h5.2v2h-5.2zM27.4 290.5h5.2v1.5h-5.2zM27.4 299h5.2v2.5h-5.2zM15.4 415h5.2v2h-5.2zM15.4 438h5.2v2h-5.2zM15.4 440h5.2v3h-5.2zM15.4 452h5.2v1.5h-5.2zM63.4 421h5.2v3h-5.2zM63.4 429h5.2v1h-5.2zM87.4 82h5.2v2.5h-5.2zM87.4 91h5.2v3h-5.2zM87.4 100h5.2v2h-5.2zM87.4 102h5.2v2h-5.2zM87.4 106h5.2v3h-5.2zM87.4 109h5.2v2.5h-5.2zM87.4 127.5h5.2v2h-5.2zM117.4 171.5h5.2v2.5h-5.2zM129.4 82h5.2v2h-5.2zM129.4 84h5.2v2.5h-5.2zM129.4 89.5h5.2v2.5h-5.2zM129.4 110.5h5.2v2h-5.2zM129.4 124h5.2v1.5h-5.2zM129.4 130h5.2v2h-5.2zM129.4 132h5.2v2h-5.2zM93.4 253.5h5.2v3h-5.2zM93.4 259h5.2v3h-5.2zM93.4 267.5h5.2v2h-5.2zM93.4 271h5.2v1.5h-5.2zM93.4 272.5h5.2v2h-5.2zM93.4 288h5.2v1.5h-5.2zM93.4 298h5.2v2h-5.2zM123.4 255h5.2v2.5h-5.2zM123.4 261.5h5.2v2h-5.2zM123.4 272h5.2v3h-5.2zM123.4 291.5h5.2v3h-5.2zM87.4 429.5h5.2v0.5h-5.2zM111.4 427.5h5.2v2h-5.2zM123.4 567h5.2v1.5h-5.2zM123.4 571h5.2v2.5h-5.2zM123.4 573.5h5.2v1.5h-5.2zM123.4 578h5.2v2.5h-5.2zM123.4 580.5h5.2v2h-5.2zM123.4 588h5.2v2.5h-5.2zM183.4 494h5.2v1.5h-5.2zM183.4 509h5.2v2h-5.2zM237.4 185h5.2v3h-5.2zM237.4 191h5.2v1.5h-5.2zM243.4 192h5.2v1.5h-5.2zM243.4 193.5h5.2v2h-5.2zM243.4 195.5h5.2v1.5h-5.2zM243.4 207h5.2v2.5h-5.2zM261.4 207h5.2v2.5h-5.2zM267.4 132.5h5.2v1.5h-5.2zM243.4 291.5h5.2v2h-5.2zM327.4 259h5.2v1.5h-5.2zM327.4 270h5.2v1.5h-5.2zM327.4 284h5.2v3h-5.2zM327.4 289h5.2v1.5h-5.2zM327.4 293.5h5.2v3h-5.2zM327.4 299.5h5.2v3h-5.2zM351.4 260.5h5.2v3h-5.2zM351.4 265h5.2v1.5h-5.2zM351.4 266.5h5.2v2h-5.2zM351.4 281.5h5.2v3h-5.2zM351.4 299h5.2v3h-5.2zM327.4 548.5h5.2v1.5h-5.2zM375.4 255h5.2v1.5h-5.2zM375.4 264.5h5.2v2h-5.2zM375.4 276.5h5.2v3h-5.2zM375.4 288h5.2v2h-5.2zM375.4 290h5.2v1.5h-5.2zM375.4 291.5h5.2v3h-5.2zM375.4 296h5.2v2h-5.2zM375.4 298h5.2v1.5h-5.2zM405.4 573.5h5.2v2.5h-5.2zM405.4 578.5h5.2v2.5h-5.2zM135.4 404h5.2v3h-5.2zM135.4 422h5.2v1.5h-5.2zM135.4 426.5h5.2v2h-5.2z"/>
<path fill="#f09191" d="M69.4 418h5.2v1.5h-5.2zM147.4 513h5.2v2h-5.2zM177.4 127.5h5.2v1.5h-5.2zM189.4 576h5.2v2h-5.2zM189.4 584h5.2v1.5h-5.2zM189.4 591h5.2v2h-5.2zM189.4 593h5.2v1.5h-5.2zM243.4 582h5.2v2h-5.2zM363.4 208.7h5.2v1.5h-5.2zM363.4 210.2h5.2v0.3h-5.2zM303.4 389h5.2v2.5h-5.2zM327.4 512.4h5.2v2.5h-5.2zM345.4 572.5h5.2v0.5h-5.2zM369.4 582h5.2v1.5h-5.2zM369.4 586h5.2v2.5h-5.2zM369.4 592.5h5.2v2h-5.2zM411.4 234.2h5.2v1.5h-5.2zM411.4 235.7h5.2v2.5h-5.2zM417.4 143.7h5.2v3h-5.2zM417.4 146.7h5.2v0.3h-5.2zM423.4 248.9h5.2v1.1h-5.2zM423.4 250h5.2v1.8h-5.2zM429.4 248h5.2v2h-5.2zM435.4 332.7h5.2v0.3h-5.2zM387.4 584h5.2v2h-5.2zM387.4 592h5.2v1.5h-5.2zM441.4 584h5.2v2h-5.2z"/>
<path fill="#e23d3d" d="M57.4 563h5.2v2h-5.2zM285.4 513.3h5.2v1.5h-5.2zM315.4 386.5h5.2v2h-5.2zM345.4 432h5.2v2h-5.2zM345.4 436h5.2v1.4h-5.2z"/>
<path fill="#2d2dd0" d="M135.4 588h5.2v2h-5.2zM135.4 593h5.2v2h-5.2z"/>
<path fill="#dc1515" d="M285.4 514.8h5.2v2.8h-5.2zM315.4 388.5h5.2v3h-5.2z"/>
<path fill="#e02f2f" d="M315.4 391.5h5.2v0.9h-5.2z"/>
<path fill="#da0707" d="M351.4 432h5.2v2.5h-5.2zM351.4 434.5h5.2v2.9h-5.2z"/>
<path fill="#d9d9d9" d="M15 135.3h438v1h-438zM15 151.6h438v1h-438zM15 180.7h438v1h-438zM15 197.2h438v1h-438zM15 230.5h438v1h-438zM15 251.3h438v1h-438zM15 302.9h438v1h-438zM15 332.5h438v1h-438zM15 357h438v1h-438zM15 372.1h438v1h-438zM15 396.8h438v1h-438zM15 429.7h438v1h-438zM15 437.8h438v1h-438zM15 456.2h438v1h-438zM15 474.8h438v1h-438zM15 484.8h438v1h-438zM15 512.1h438v1h-438zM15 516.5h438v1h-438zM15 531.5h438v1h-438zM15 543.2h438v1h-438zM15 550.5h438v1h-438zM15 561.8h438v1h-438zM15 597h438v1h-438z"/>
</g>
<g font-size="7" font-weight="bold" text-anchor="end" fill="#111">
<text transform="translate(9.2,86.2) scale(1.05,1)">1</text>
<text transform="translate(9.2,142.0) scale(1.05,1)">2</text>
<text transform="translate(9.2,158.4) scale(1.05,1)">3</text>
<text transform="translate(9.2,187.4) scale(1.05,1)">4</text>
<text transform="translate(9.2,204.1) scale(1.05,1)">5</text>
<text transform="translate(9.2,237.5) scale(1.05,1)">6</text>
<text transform="translate(9.2,257.6) scale(1.05,1)">7</text>
<text transform="translate(9.2,309.9) scale(1.05,1)">8</text>
<text transform="translate(9.2,339.2) scale(1.05,1)">9</text>
<text transform="translate(9.2,363.1) scale(1.05,1)">10</text>
<text transform="translate(9.2,378.6) scale(1.05,1)">11</text>
<text transform="translate(9.2,403.5) scale(1.05,1)">12</text>
<text transform="translate(9.2,436.2) scale(1.05,1)">13</text>
<text transform="translate(9.2,444.1) scale(1.05,1)">14</text>
<text transform="translate(9.2,463.0) scale(1.05,1)">15</text>
<text transform="translate(9.2,481.9) scale(1.05,1)">16</text>
<text transform="translate(9.2,491.3) scale(1.05,1)">17</text>
<text transform="translate(9.2,519.1) scale(1.05,1)">18</text>
<text transform="translate(9.2,538.2) scale(1.05,1)">20</text>
<text transform="translate(9.2,549.9) scale(1.05,1)">21</text>
<text transform="translate(9.2,557.5) scale(1.05,1)">22</text>
<text transform="translate(9.2,569.0) scale(1.05,1)">X</text>
<text transform="translate(9.2,603.6) scale(1.05,1)">Y</text>
</g>
<rect x="14.20" y="605" width="16.94" height="7" fill="#0808e0"/>
<rect x="31.04" y="605" width="16.94" height="7" fill="#0e0ee2"/>
<rect x="47.88" y="605" width="16.94" height="7" fill="#1a1ae4"/>
<rect x="64.72" y="605" width="16.94" height="7" fill="#2c2ce6"/>
<rect x="81.55" y="605" width="16.94" height="7" fill="#4848ea"/>
<rect x="98.39" y="605" width="16.94" height="7" fill="#5c5cec"/>
<rect x="115.23" y="605" width="16.94" height="7" fill="#7474ee"/>
<rect x="132.07" y="605" width="16.94" height="7" fill="#8686f0"/>
<rect x="148.91" y="605" width="16.94" height="7" fill="#9898f2"/>
<rect x="165.75" y="605" width="16.94" height="7" fill="#b0b0f6"/>
<rect x="182.58" y="605" width="16.94" height="7" fill="#c6c6f8"/>
<rect x="199.42" y="605" width="16.94" height="7" fill="#dedefa"/>
<rect x="216.26" y="605" width="16.94" height="7" fill="#ffffff"/>
<rect x="233.10" y="605" width="16.94" height="7" fill="#ffffff"/>
<rect x="249.94" y="605" width="16.94" height="7" fill="#fcdede"/>
<rect x="266.78" y="605" width="16.94" height="7" fill="#facece"/>
<rect x="283.62" y="605" width="16.94" height="7" fill="#f8bcbc"/>
<rect x="300.45" y="605" width="16.94" height="7" fill="#f6aaaa"/>
<rect x="317.29" y="605" width="16.94" height="7" fill="#f59898"/>
<rect x="334.13" y="605" width="16.94" height="7" fill="#f48888"/>
<rect x="350.97" y="605" width="16.94" height="7" fill="#f27272"/>
<rect x="367.81" y="605" width="16.94" height="7" fill="#f06060"/>
<rect x="384.65" y="605" width="16.94" height="7" fill="#ee4e4e"/>
<rect x="401.48" y="605" width="16.94" height="7" fill="#ec3232"/>
<rect x="418.32" y="605" width="16.94" height="7" fill="#ea1a1a"/>
<rect x="435.16" y="605" width="16.94" height="7" fill="#e80404"/>
<g font-size="6.6" text-anchor="middle" fill="#222">
<text transform="translate(22.6,618) scale(1.12,1)">0.5</text>
<text transform="translate(39.5,618) scale(1.12,1)">0.6</text>
<text transform="translate(56.3,618) scale(1.12,1)">0.6</text>
<text transform="translate(73.1,618) scale(1.12,1)">0.7</text>
<text transform="translate(90.0,618) scale(1.12,1)">0.8</text>
<text transform="translate(106.8,618) scale(1.12,1)">0.9</text>
<text transform="translate(123.6,618) scale(1.12,1)">1.0</text>
<text transform="translate(140.5,618) scale(1.12,1)">1.1</text>
<text transform="translate(157.3,618) scale(1.12,1)">1.2</text>
<text transform="translate(174.2,618) scale(1.12,1)">1.4</text>
<text transform="translate(191.0,618) scale(1.12,1)">1.5</text>
<text transform="translate(207.8,618) scale(1.12,1)">1.7</text>
<text transform="translate(224.7,618) scale(1.12,1)">1.9</text>
<text transform="translate(241.5,618) scale(1.12,1)">2.1</text>
<text transform="translate(258.4,618) scale(1.12,1)">2.4</text>
<text transform="translate(275.2,618) scale(1.12,1)">2.6</text>
<text transform="translate(292.0,618) scale(1.12,1)">2.9</text>
<text transform="translate(308.9,618) scale(1.12,1)">3.3</text>
<text transform="translate(325.7,618) scale(1.12,1)">3.7</text>
<text transform="translate(342.5,618) scale(1.12,1)">4.1</text>
<text transform="translate(359.4,618) scale(1.12,1)">4.6</text>
<text transform="translate(376.2,618) scale(1.12,1)">5.1</text>
<text transform="translate(393.1,618) scale(1.12,1)">5.7</text>
<text transform="translate(409.9,618) scale(1.12,1)">6.4</text>
<text transform="translate(426.7,618) scale(1.12,1)">7.2</text>
<text transform="translate(443.6,618) scale(1.12,1)">8.0</text>
</g>
<g font-size="9.8" fill="#111">
<text transform="translate(67.4,745.2) rotate(-90) scale(1.4,1)">3271</text>
<text transform="translate(79.4,745.2) rotate(-90) scale(1.4,1)">3717</text>
<text transform="translate(91.4,745.2) rotate(-90) scale(1.4,1)">5028</text>
<text transform="translate(103.4,745.2) rotate(-90) scale(1.4,1)">6902</text>
<text transform="translate(115.4,745.2) rotate(-90) scale(1.4,1)">3409</text>
<text transform="translate(127.4,745.2) rotate(-90) scale(1.4,1)">normal DNA</text>
</g>
<path fill="#9d62f2" d="M56.6 753.4h12.1v7.4h-12.1zM68.6 753.4h12.1v7.4h-12.1zM80.6 753.4h12.1v7.4h-12.1zM92.6 753.4h12.1v7.4h-12.1zM104.6 753.4h12.1v7.4h-12.1z"/>
<path fill="#c6e33a" d="M56.6 760.8h12.1v7.2h-12.1zM80.6 760.8h12.1v7.2h-12.1zM104.6 760.8h12.1v7.2h-12.1z"/>
<path fill="#6c5644" d="M56.6 768h12.1v7.2h-12.1zM68.6 768h12.1v7.2h-12.1zM80.6 768h12.1v7.2h-12.1z"/>
<path fill="#b4338f" d="M68.6 760.8h12.1v7.2h-12.1zM92.6 760.8h12.1v7.2h-12.1z"/>
<path fill="#a9a9a9" d="M92.6 768h12.1v7.2h-12.1z"/>
<path fill="#8c8882" d="M104.6 768h12.1v7.2h-12.1z"/>
<g font-size="7.5">
<text transform="translate(58.1,759.7) scale(1,1)" fill="#2a1590">L</text>
<text transform="translate(58.1,766.8) scale(1,1)" fill="#2f5a0c">G</text>
<text transform="translate(58.1,774.0) scale(1,1)" fill="#2a2018">1</text>
<text transform="translate(70.1,759.7) scale(1,1)" fill="#2a1590">L</text>
<text transform="translate(70.1,766.8) scale(1,1)" fill="#4a0838">N</text>
<text transform="translate(70.1,774.0) scale(1,1)" fill="#2a2018">1</text>
<text transform="translate(82.1,759.7) scale(1,1)" fill="#2a1590">X</text>
<text transform="translate(82.1,766.8) scale(1,1)" fill="#2f5a0c">G</text>
<text transform="translate(82.1,774.0) scale(1,1)" fill="#2a2018">1</text>
<text transform="translate(94.1,759.7) scale(1,1)" fill="#2a1590">L</text>
<text transform="translate(94.1,766.8) scale(1,1)" fill="#4a0838">N</text>
<text transform="translate(94.1,774.0) scale(1,1)" fill="#2a2018">3</text>
<text transform="translate(106.1,759.7) scale(1,1)" fill="#2a1590">X</text>
<text transform="translate(106.1,766.8) scale(1,1)" fill="#2f5a0c">G</text>
<text transform="translate(106.1,774.0) scale(1,1)" fill="#2a2018">2</text>
</g>
<g font-size="6.5" fill="#111">
<text transform="translate(145.0,760.4) scale(1.170,1)">Tumor site</text>
<text transform="translate(145.0,767.8) scale(1.170,1)">IHC</text>
<text transform="translate(145.0,775.2) scale(1.170,1)">Infiltrating T-cells</text>
</g>
<text x="-0.3" y="816.9" font-size="11" fill="#111">800 Kb</text>
<rect x="43.2" y="799.2" width="1.3" height="29.5" fill="#222"/>
<g filter="url(#bl)">
<path fill="#fce9e9" d="M57 806.5h11.2v1.5h-11.2zM57 815h11.2v2h-11.2zM57 944.5h11.2v1h-11.2zM57 968h11.2v1.5h-11.2zM69 795.5h11.2v1.5h-11.2zM69 797h11.2v1.5h-11.2zM81 914.5h11.2v2h-11.2zM81 953.5h11.2v2h-11.2zM93 959.5h11.2v1.5h-11.2zM93 965.5h11.2v1h-11.2zM105 822h11.2v1h-11.2zM105 910h11.2v1h-11.2zM117 892.5h11.2v2h-11.2z"/>
<path fill="#fdebeb" d="M57 926.5h11.2v1.5h-11.2zM69 829h11.2v2h-11.2zM69 859h11.2v1.5h-11.2zM69 961h11.2v1h-11.2zM81 782h11.2v1h-11.2zM81 892.5h11.2v2h-11.2zM81 933.5h11.2v2h-11.2zM93 899h11.2v1h-11.2zM105 788.5h11.2v1.5h-11.2zM105 946h11.2v1.5h-11.2zM117 848h11.2v1.5h-11.2z"/>
<path fill="#fdeeee" d="M57 949h11.2v2h-11.2zM69 929h11.2v1h-11.2zM81 855h11.2v1h-11.2zM93 924.5h11.2v2h-11.2zM105 843.5h11.2v1.5h-11.2zM105 890.5h11.2v2h-11.2zM105 896.5h11.2v2h-11.2zM117 961h11.2v2h-11.2z"/>
<path fill="#fef3f3" d="M69 805h11.2v1.5h-11.2zM69 900h11.2v1.5h-11.2zM81 942.5h11.2v1h-11.2zM93 816h11.2v1h-11.2zM105 783h11.2v1h-11.2zM105 802h11.2v2h-11.2zM105 892.5h11.2v1h-11.2zM117 967h11.2v2h-11.2z"/>
<path fill="#fdf1f1" d="M69 887.5h11.2v1h-11.2zM69 928h11.2v1h-11.2zM69 940.5h11.2v1.5h-11.2zM69 949h11.2v2h-11.2zM93 904h11.2v2h-11.2zM93 963h11.2v1h-11.2zM105 929.5h11.2v2h-11.2zM117 787h11.2v1h-11.2zM117 915.5h11.2v1h-11.2zM117 922h11.2v2h-11.2z"/>
<path fill="#8484ec" d="M57 800.3h11.2v27.4h-11.2z"/>
<path fill="#7c7cec" d="M69 798.8h11.2v30.2h-11.2z"/>
<path fill="#ccccf5" d="M81 800h11.2v27.7h-11.2zM105 800h11.2v27.5h-11.2zM81 843.5h11.2v36.1h-11.2z"/>
<path fill="#a0a0ee" d="M93 814.7h11.2v12.3h-11.2z"/>
<path fill="#d8d8f7" d="M105 783h11.2v17h-11.2z"/>
<path fill="#b4b4ee" d="M81 855h11.2v2h-11.2zM81 862h11.2v2h-11.2z"/>
<path fill="#d6d6f7" d="M93 855h11.2v2h-11.2zM93 862h11.2v2h-11.2z"/>
<path fill="#fdeeee" d="M81 786h11.2v3h-11.2zM117 806h11.2v20h-11.2zM57 832h11.2v2h-11.2zM57 846h11.2v2h-11.2zM57 853h11.2v2h-11.2zM57 860h11.2v2h-11.2zM57 868h11.2v2h-11.2zM57 895h11.2v2h-11.2zM57 902h11.2v2h-11.2zM81 892h11.2v2h-11.2zM81 899h11.2v2h-11.2zM81 905h11.2v2h-11.2zM57 911h11.2v2h-11.2zM57 930h11.2v2h-11.2zM81 932h11.2v2h-11.2zM81 938h11.2v2h-11.2zM57 948h11.2v2h-11.2zM57 955h11.2v2h-11.2zM81 950h11.2v2h-11.2zM81 957h11.2v2h-11.2zM57 962h11.2v2h-11.2zM81 965h11.2v2h-11.2zM57 970h11.2v2h-11.2zM105 853h11.2v2h-11.2zM105 887h11.2v2h-11.2zM93 918h11.2v2h-11.2zM69 920h11.2v2h-11.2zM93 960h11.2v2h-11.2z"/>
<path fill="#ececfc" d="M117 935h11.2v5h-11.2zM117 947h11.2v3h-11.2zM117 955h11.2v3h-11.2zM117 962h11.2v2h-11.2zM93 948h11.2v2h-11.2zM93 922h11.2v2h-11.2z"/>
<path fill="#8989ed" d="M57 800.3h11.2v1.5h-11.2zM57 815.8h11.2v2h-11.2z"/>
<path fill="#7f7feb" d="M57 801.8h11.2v1.5h-11.2zM57 805.3h11.2v2.5h-11.2zM57 809.8h11.2v2h-11.2zM57 813.3h11.2v2.5h-11.2zM57 817.8h11.2v2.5h-11.2zM57 820.3h11.2v1.5h-11.2zM57 826.3h11.2v1.4h-11.2z"/>
<path fill="#7a7aea" d="M57 803.3h11.2v2h-11.2zM57 807.8h11.2v2h-11.2zM57 811.8h11.2v1.5h-11.2zM57 821.8h11.2v2h-11.2z"/>
<path fill="#8e8eee" d="M57 823.8h11.2v2.5h-11.2z"/>
<path fill="#8181ed" d="M69 798.8h11.2v2.5h-11.2zM69 803.8h11.2v2h-11.2zM69 807.3h11.2v1.5h-11.2zM69 828.8h11.2v0.2h-11.2z"/>
<path fill="#7777eb" d="M69 805.8h11.2v1.5h-11.2zM69 808.8h11.2v2.5h-11.2zM69 813.8h11.2v2.5h-11.2zM69 816.3h11.2v2h-11.2zM69 827.3h11.2v1.5h-11.2z"/>
<path fill="#8686ee" d="M69 811.3h11.2v2.5h-11.2zM69 818.3h11.2v2h-11.2zM69 822.8h11.2v2h-11.2zM69 824.8h11.2v2.5h-11.2z"/>
<path fill="#d0d0f6" d="M81 800h11.2v1.5h-11.2zM81 810.5h11.2v1.5h-11.2zM81 822h11.2v2h-11.2zM105 815h11.2v1.5h-11.2zM81 870h11.2v2.5h-11.2zM81 874h11.2v1.5h-11.2z"/>
<path fill="#cacaf5" d="M81 801.5h11.2v1.5h-11.2zM81 816h11.2v1.5h-11.2zM81 819.5h11.2v2.5h-11.2zM105 804.5h11.2v2.5h-11.2zM105 807h11.2v2.5h-11.2zM105 812.5h11.2v2.5h-11.2zM105 826.5h11.2v1h-11.2zM81 866h11.2v1.5h-11.2zM81 867.5h11.2v2.5h-11.2z"/>
<path fill="#cecef5" d="M81 803h11.2v2.5h-11.2zM81 813.5h11.2v2.5h-11.2zM105 800h11.2v2h-11.2zM105 811h11.2v1.5h-11.2zM105 818.5h11.2v2.5h-11.2zM81 845.5h11.2v2h-11.2zM81 850h11.2v2h-11.2zM81 859h11.2v2h-11.2zM81 861h11.2v1.5h-11.2zM81 862.5h11.2v1.5h-11.2zM81 872.5h11.2v1.5h-11.2z"/>
<path fill="#c8c8f4" d="M81 805.5h11.2v2.5h-11.2zM81 817.5h11.2v2h-11.2zM81 825.5h11.2v2.2h-11.2zM105 821h11.2v2.5h-11.2zM105 823.5h11.2v1.5h-11.2zM105 825h11.2v1.5h-11.2zM81 855h11.2v1.5h-11.2zM81 856.5h11.2v2.5h-11.2zM81 864h11.2v2h-11.2z"/>
<path fill="#9c9ced" d="M93 814.7h11.2v1.5h-11.2z"/>
<path fill="#9898ed" d="M93 816.2h11.2v1.5h-11.2zM93 817.7h11.2v2h-11.2zM93 819.7h11.2v2h-11.2z"/>
<path fill="#a8a8ef" d="M93 821.7h11.2v2h-11.2z"/>
<path fill="#a4a4ef" d="M93 823.7h11.2v1.5h-11.2zM93 825.2h11.2v1.8h-11.2z"/>
<path fill="#dadaf7" d="M105 783h11.2v2.5h-11.2zM105 798.5h11.2v1.5h-11.2z"/>
<path fill="#d6d6f7" d="M105 785.5h11.2v2.5h-11.2z"/>
<path fill="#dbdbf8" d="M105 788h11.2v1.5h-11.2z"/>
<path fill="#d5d5f6" d="M105 789.5h11.2v2h-11.2zM105 791.5h11.2v2h-11.2zM105 795h11.2v2h-11.2zM105 797h11.2v1.5h-11.2z"/>
<path fill="#b1b1ed" d="M81 862h11.2v2h-11.2z"/>
<path fill="#d9d9f8" d="M93 855h11.2v2h-11.2zM93 862h11.2v1.5h-11.2z"/>
<path fill="#d4d4f7" d="M93 863.5h11.2v0.5h-11.2z"/>
<path fill="#fdefef" d="M81 786h11.2v2.5h-11.2zM117 815h11.2v1.5h-11.2zM117 819h11.2v1.5h-11.2zM117 820.5h11.2v2h-11.2zM57 833.5h11.2v0.5h-11.2zM81 893.5h11.2v0.5h-11.2zM81 905h11.2v1.5h-11.2zM81 906.5h11.2v0.5h-11.2zM57 911h11.2v2h-11.2zM57 930h11.2v1.5h-11.2zM81 932h11.2v2h-11.2zM81 938h11.2v2h-11.2zM81 957h11.2v1.5h-11.2zM81 958.5h11.2v0.5h-11.2zM81 965h11.2v2h-11.2zM105 853h11.2v2h-11.2zM69 920h11.2v1.5h-11.2z"/>
<path fill="#fdeded" d="M81 788.5h11.2v0.5h-11.2zM117 806h11.2v2h-11.2zM117 808h11.2v2.5h-11.2zM117 813h11.2v2h-11.2zM117 816.5h11.2v2.5h-11.2zM117 824h11.2v2h-11.2zM57 832h11.2v1.5h-11.2zM57 846h11.2v1.5h-11.2zM57 847.5h11.2v0.5h-11.2zM57 853h11.2v2h-11.2zM57 860h11.2v1.5h-11.2zM57 868h11.2v2h-11.2zM57 902h11.2v2h-11.2zM81 892h11.2v1.5h-11.2zM81 899h11.2v2h-11.2zM57 931.5h11.2v0.5h-11.2zM81 950h11.2v2h-11.2zM57 962h11.2v2h-11.2zM57 971.5h11.2v0.5h-11.2zM105 887h11.2v2h-11.2zM93 918h11.2v2h-11.2zM69 921.5h11.2v0.5h-11.2zM93 960h11.2v2h-11.2z"/>
<path fill="#eeeefc" d="M117 937.5h11.2v1.5h-11.2zM117 947h11.2v2.5h-11.2zM117 949.5h11.2v0.5h-11.2zM93 948h11.2v1.5h-11.2zM93 923.5h11.2v0.5h-11.2z"/>
<path fill="#ebebfc" d="M117 955h11.2v2h-11.2zM117 957h11.2v1h-11.2zM93 922h11.2v1.5h-11.2z"/>
<path fill="#eaeafc" d="M117 962h11.2v2h-11.2zM93 949.5h11.2v0.5h-11.2z"/>
</g>
<rect x="56.6" y="984" width="14.25" height="6.6" fill="#0000e1"/>
<rect x="70.8" y="984" width="14.35" height="6.6" fill="#8080f0"/>
<rect x="85.1" y="984" width="15.15" height="6.6" fill="#ffffff"/>
<rect x="100.2" y="984" width="14.45" height="6.6" fill="#f88080"/>
<rect x="114.6" y="984" width="14.15" height="6.6" fill="#ec0000"/>
<g font-size="7" text-anchor="middle" fill="#222">
<text transform="translate(63.7,996.8) scale(1.2,1)">0.5</text>
<text transform="translate(77.9,996.8) scale(1.2,1)">1.0</text>
<text transform="translate(92.7,996.8) scale(1.2,1)">2.0</text>
<text transform="translate(107.4,996.8) scale(1.2,1)">4.0</text>
<text transform="translate(121.6,996.8) scale(1.2,1)">8.0</text>
</g>
<g font-size="9.8" fill="#111">
<text transform="translate(238.2,669.0) rotate(-90) scale(1.42,1)">1320</text>
<text transform="translate(251.1,669.0) rotate(-90) scale(1.42,1)">2202</text>
<text transform="translate(264.0,669.0) rotate(-90) scale(1.42,1)">2633</text>
<text transform="translate(276.9,669.0) rotate(-90) scale(1.42,1)">3279</text>
<text transform="translate(289.8,669.0) rotate(-90) scale(1.42,1)">4522</text>
<text transform="translate(302.7,669.0) rotate(-90) scale(1.42,1)">4221</text>
</g>
<path fill="#9d62f2" d="M228.2 678.5h13v7.1h-13zM241.1 678.5h13v7.1h-13zM254 678.5h13v7.1h-13zM266.9 678.5h13v7.1h-13zM279.8 678.5h13v7.1h-13zM292.7 678.5h13v7.1h-13z"/>
<path fill="#b4338f" d="M228.2 685.6h13v7.9h-13zM241.1 685.6h13v7.9h-13zM254 685.6h13v7.9h-13zM266.9 685.6h13v7.9h-13zM292.7 685.6h13v7.9h-13z"/>
<path fill="#6c5644" d="M228.2 693.5h13v8h-13zM241.1 693.5h13v8h-13zM266.9 693.5h13v8h-13zM279.8 693.5h13v8h-13zM292.7 693.5h13v8h-13z"/>
<path fill="#8c8882" d="M254 693.5h13v8h-13z"/>
<path fill="#c6e33a" d="M279.8 685.6h13v7.9h-13z"/>
<g font-size="7.5">
<text transform="translate(229.7,684.5) scale(1,1)" fill="#2a1590">L</text>
<text transform="translate(229.7,692.3) scale(1,1)" fill="#4a0838">N</text>
<text transform="translate(229.7,700.3) scale(1,1)" fill="#2a2018">1</text>
<text transform="translate(242.6,684.5) scale(1,1)" fill="#2a1590">L</text>
<text transform="translate(242.6,692.3) scale(1,1)" fill="#4a0838">N</text>
<text transform="translate(242.6,700.3) scale(1,1)" fill="#2a2018">1</text>
<text transform="translate(255.5,684.5) scale(1,1)" fill="#2a1590">L</text>
<text transform="translate(255.5,692.3) scale(1,1)" fill="#4a0838">N</text>
<text transform="translate(255.5,700.3) scale(1,1)" fill="#2a2018">2</text>
<text transform="translate(268.4,684.5) scale(1,1)" fill="#2a1590">X</text>
<text transform="translate(268.4,692.3) scale(1,1)" fill="#4a0838">N</text>
<text transform="translate(268.4,700.3) scale(1,1)" fill="#2a2018">1</text>
<text transform="translate(281.3,684.5) scale(1,1)" fill="#2a1590">L</text>
<text transform="translate(281.3,692.3) scale(1,1)" fill="#2f5a0c">G</text>
<text transform="translate(281.3,700.3) scale(1,1)" fill="#2a2018">1</text>
<text transform="translate(294.2,684.5) scale(1,1)" fill="#2a1590">L</text>
<text transform="translate(294.2,692.3) scale(1,1)" fill="#4a0838">N</text>
<text transform="translate(294.2,700.3) scale(1,1)" fill="#2a2018">1</text>
</g>
<g font-size="7.0" fill="#111">
<text transform="translate(314.7,685.0) scale(1.170,1)">Tumor site</text>
<text transform="translate(314.7,693.0) scale(1.170,1)">IHC</text>
<text transform="translate(314.7,701.0) scale(1.170,1)">Infiltrating T-cells</text>
</g>
<g filter="url(#bl)">
<path fill="#f9aeb0" d="M228.7 709.7h11.9v272h-11.9z"/>
<path fill="#f6f4fa" d="M228.7 981.7h11.9v26.5h-11.9z"/>
<path fill="#fbd6d6" d="M241.6 709.7h11.9v298.5h-11.9z"/>
<path fill="#fac8c9" d="M254.5 709.7h11.9v298.5h-11.9z"/>
<path fill="#f8a0a2" d="M267.4 709.7h11.9v298.5h-11.9z"/>
<path fill="#fad3d3" d="M280.3 709.7h11.9v298.5h-11.9z"/>
<path fill="#f2f2fb" d="M293.2 709.7h11.9v298.5h-11.9z"/>
<path fill="#fab5b7" d="M228.7 709.7h11.9v1.5h-11.9zM228.7 733.7h11.9v1.5h-11.9zM228.7 738.2h11.9v2h-11.9zM228.7 740.2h11.9v3h-11.9zM228.7 744.7h11.9v2.5h-11.9zM228.7 764.7h11.9v2.5h-11.9zM228.7 769.7h11.9v2.5h-11.9zM228.7 785.2h11.9v3h-11.9zM228.7 818.7h11.9v3h-11.9zM228.7 821.7h11.9v2.5h-11.9zM228.7 832.2h11.9v2.5h-11.9zM228.7 834.7h11.9v1.5h-11.9zM228.7 846.7h11.9v2.5h-11.9zM228.7 873.7h11.9v1.5h-11.9zM228.7 876.7h11.9v2h-11.9zM228.7 881.7h11.9v1.5h-11.9zM228.7 920.7h11.9v3h-11.9zM228.7 931.7h11.9v2h-11.9zM228.7 940.2h11.9v3h-11.9zM228.7 943.2h11.9v3h-11.9zM228.7 949.2h11.9v1.5h-11.9zM228.7 950.7h11.9v2.5h-11.9z"/>
<path fill="#f9b2b4" d="M228.7 711.2h11.9v3h-11.9zM228.7 718.2h11.9v2h-11.9zM228.7 728.2h11.9v2h-11.9zM228.7 778.7h11.9v1.5h-11.9zM228.7 782.2h11.9v3h-11.9zM228.7 788.2h11.9v2h-11.9zM228.7 790.2h11.9v3h-11.9zM228.7 800.7h11.9v3h-11.9zM228.7 805.2h11.9v1.5h-11.9zM228.7 806.7h11.9v1.5h-11.9zM228.7 817.2h11.9v1.5h-11.9zM228.7 840.2h11.9v2h-11.9zM228.7 843.7h11.9v3h-11.9zM228.7 863.2h11.9v2h-11.9zM228.7 866.7h11.9v2.5h-11.9zM228.7 875.2h11.9v1.5h-11.9zM228.7 887.7h11.9v2h-11.9zM228.7 892.2h11.9v2h-11.9zM228.7 899.7h11.9v1.5h-11.9zM228.7 905.7h11.9v2h-11.9zM228.7 937.7h11.9v2.5h-11.9zM228.7 970.7h11.9v2.5h-11.9zM228.7 973.2h11.9v2h-11.9zM228.7 975.2h11.9v2.5h-11.9zM228.7 980.7h11.9v1h-11.9z"/>
<path fill="#f9aaac" d="M228.7 714.2h11.9v2.5h-11.9zM228.7 730.2h11.9v2h-11.9zM228.7 735.2h11.9v3h-11.9zM228.7 752.7h11.9v2.5h-11.9zM228.7 755.2h11.9v2.5h-11.9zM228.7 760.2h11.9v2.5h-11.9zM228.7 762.7h11.9v2h-11.9zM228.7 772.2h11.9v2h-11.9zM228.7 774.2h11.9v2.5h-11.9zM228.7 794.7h11.9v3h-11.9zM228.7 808.2h11.9v2.5h-11.9zM228.7 829.2h11.9v3h-11.9zM228.7 838.7h11.9v1.5h-11.9zM228.7 860.2h11.9v3h-11.9zM228.7 870.7h11.9v3h-11.9zM228.7 885.2h11.9v2.5h-11.9zM228.7 901.2h11.9v2h-11.9zM228.7 929.2h11.9v2.5h-11.9zM228.7 955.2h11.9v1.5h-11.9zM228.7 962.2h11.9v1.5h-11.9zM228.7 977.7h11.9v3h-11.9z"/>
<path fill="#f9aeb0" d="M228.7 716.7h11.9v1.5h-11.9zM228.7 720.2h11.9v2h-11.9zM228.7 722.2h11.9v2.5h-11.9zM228.7 732.2h11.9v1.5h-11.9zM228.7 747.2h11.9v3h-11.9zM228.7 793.2h11.9v1.5h-11.9zM228.7 812.7h11.9v2.5h-11.9zM228.7 815.2h11.9v2h-11.9zM228.7 824.2h11.9v2h-11.9zM228.7 826.2h11.9v1.5h-11.9zM228.7 836.2h11.9v2.5h-11.9zM228.7 842.2h11.9v1.5h-11.9zM228.7 849.2h11.9v2.5h-11.9zM228.7 853.7h11.9v3h-11.9zM228.7 858.2h11.9v2h-11.9zM228.7 869.2h11.9v1.5h-11.9zM228.7 883.2h11.9v2h-11.9zM228.7 889.7h11.9v2.5h-11.9zM228.7 894.2h11.9v2.5h-11.9zM228.7 896.7h11.9v3h-11.9zM228.7 910.2h11.9v3h-11.9zM228.7 913.2h11.9v3h-11.9zM228.7 918.7h11.9v2h-11.9zM228.7 923.7h11.9v1.5h-11.9zM228.7 933.7h11.9v2.5h-11.9zM228.7 953.2h11.9v2h-11.9zM228.7 959.7h11.9v2.5h-11.9zM228.7 965.2h11.9v3h-11.9z"/>
<path fill="#f8a7a9" d="M228.7 724.7h11.9v1.5h-11.9zM228.7 726.2h11.9v2h-11.9zM228.7 743.2h11.9v1.5h-11.9zM228.7 750.2h11.9v2.5h-11.9zM228.7 757.7h11.9v2.5h-11.9zM228.7 767.2h11.9v2.5h-11.9zM228.7 776.7h11.9v2h-11.9zM228.7 780.2h11.9v2h-11.9zM228.7 797.7h11.9v3h-11.9zM228.7 803.7h11.9v1.5h-11.9zM228.7 810.7h11.9v2h-11.9zM228.7 827.7h11.9v1.5h-11.9zM228.7 851.7h11.9v2h-11.9zM228.7 856.7h11.9v1.5h-11.9zM228.7 865.2h11.9v1.5h-11.9zM228.7 878.7h11.9v3h-11.9zM228.7 903.2h11.9v2.5h-11.9zM228.7 907.7h11.9v2.5h-11.9zM228.7 916.2h11.9v2.5h-11.9zM228.7 925.2h11.9v2h-11.9zM228.7 927.2h11.9v2h-11.9zM228.7 936.2h11.9v1.5h-11.9zM228.7 946.2h11.9v3h-11.9zM228.7 956.7h11.9v3h-11.9zM228.7 963.7h11.9v1.5h-11.9zM228.7 968.2h11.9v2.5h-11.9z"/>
<path fill="#f6f4fa" d="M228.7 982.2h11.9v1.5h-11.9zM228.7 983.7h11.9v3h-11.9zM228.7 986.7h11.9v2h-11.9zM228.7 988.7h11.9v1.5h-11.9zM228.7 993.7h11.9v3h-11.9zM228.7 999.2h11.9v3h-11.9zM228.7 1003.7h11.9v1.5h-11.9zM228.7 1007.7h11.9v0.5h-11.9z"/>
<path fill="#f7f5fa" d="M228.7 990.2h11.9v2h-11.9zM228.7 992.2h11.9v1.5h-11.9zM228.7 1002.2h11.9v1.5h-11.9zM228.7 1005.2h11.9v2.5h-11.9z"/>
<path fill="#f5f3fa" d="M228.7 996.7h11.9v2.5h-11.9z"/>
<path fill="#fbd4d4" d="M241.6 709.7h11.9v2.5h-11.9zM241.6 723.2h11.9v2.5h-11.9zM241.6 725.7h11.9v2h-11.9zM241.6 746.7h11.9v3h-11.9zM241.6 760.7h11.9v2.5h-11.9zM241.6 763.2h11.9v1.5h-11.9zM241.6 766.2h11.9v3h-11.9zM241.6 773.2h11.9v2.5h-11.9zM241.6 815.2h11.9v3h-11.9zM241.6 830.2h11.9v2h-11.9zM241.6 832.2h11.9v2h-11.9zM241.6 834.2h11.9v1.5h-11.9zM241.6 865.2h11.9v2h-11.9zM241.6 873.2h11.9v1.5h-11.9zM241.6 874.7h11.9v3h-11.9zM241.6 877.7h11.9v3h-11.9zM241.6 893.7h11.9v2.5h-11.9zM241.6 912.7h11.9v1.5h-11.9zM241.6 914.2h11.9v3h-11.9zM241.6 924.7h11.9v1.5h-11.9zM241.6 931.7h11.9v1.5h-11.9zM241.6 936.2h11.9v2.5h-11.9zM241.6 942.7h11.9v3h-11.9zM241.6 958.2h11.9v2h-11.9zM241.6 978.7h11.9v1.5h-11.9zM241.6 985.7h11.9v3h-11.9zM241.6 996.2h11.9v2.5h-11.9zM241.6 1006.2h11.9v2h-11.9z"/>
<path fill="#fbd2d2" d="M241.6 712.2h11.9v3h-11.9zM241.6 715.2h11.9v2.5h-11.9zM241.6 727.7h11.9v3h-11.9zM241.6 732.2h11.9v2.5h-11.9zM241.6 737.7h11.9v3h-11.9zM241.6 740.7h11.9v2h-11.9zM241.6 775.7h11.9v2h-11.9zM241.6 780.7h11.9v2h-11.9zM241.6 797.7h11.9v1.5h-11.9zM241.6 805.2h11.9v2.5h-11.9zM241.6 838.2h11.9v2h-11.9zM241.6 843.2h11.9v2h-11.9zM241.6 851.7h11.9v3h-11.9zM241.6 862.7h11.9v2.5h-11.9zM241.6 867.2h11.9v2h-11.9zM241.6 882.2h11.9v2.5h-11.9zM241.6 890.7h11.9v3h-11.9zM241.6 908.2h11.9v3h-11.9zM241.6 934.7h11.9v1.5h-11.9zM241.6 947.2h11.9v2.5h-11.9zM241.6 951.7h11.9v2.5h-11.9zM241.6 976.7h11.9v2h-11.9zM241.6 982.7h11.9v3h-11.9zM241.6 992.7h11.9v1.5h-11.9zM241.6 1004.7h11.9v1.5h-11.9z"/>
<path fill="#fbdada" d="M241.6 717.7h11.9v2.5h-11.9zM241.6 720.2h11.9v3h-11.9zM241.6 745.2h11.9v1.5h-11.9zM241.6 749.7h11.9v3h-11.9zM241.6 764.7h11.9v1.5h-11.9zM241.6 769.2h11.9v2h-11.9zM241.6 782.7h11.9v2.5h-11.9zM241.6 787.7h11.9v2.5h-11.9zM241.6 802.2h11.9v3h-11.9zM241.6 809.7h11.9v2h-11.9zM241.6 811.7h11.9v1.5h-11.9zM241.6 813.2h11.9v2h-11.9zM241.6 823.2h11.9v1.5h-11.9zM241.6 845.2h11.9v1.5h-11.9zM241.6 846.7h11.9v2.5h-11.9zM241.6 854.7h11.9v2.5h-11.9zM241.6 880.7h11.9v1.5h-11.9zM241.6 884.7h11.9v2h-11.9zM241.6 886.7h11.9v1.5h-11.9zM241.6 888.2h11.9v2.5h-11.9zM241.6 897.7h11.9v2h-11.9zM241.6 902.2h11.9v3h-11.9zM241.6 911.2h11.9v1.5h-11.9zM241.6 922.2h11.9v2.5h-11.9zM241.6 938.7h11.9v1.5h-11.9zM241.6 949.7h11.9v2h-11.9zM241.6 1000.7h11.9v2h-11.9zM241.6 1002.7h11.9v2h-11.9z"/>
<path fill="#fbd6d6" d="M241.6 730.7h11.9v1.5h-11.9zM241.6 752.7h11.9v3h-11.9zM241.6 759.2h11.9v1.5h-11.9zM241.6 771.2h11.9v2h-11.9zM241.6 777.7h11.9v3h-11.9zM241.6 790.2h11.9v2.5h-11.9zM241.6 795.2h11.9v2.5h-11.9zM241.6 807.7h11.9v2h-11.9zM241.6 827.2h11.9v3h-11.9zM241.6 840.2h11.9v3h-11.9zM241.6 849.2h11.9v2.5h-11.9zM241.6 857.2h11.9v3h-11.9zM241.6 860.2h11.9v2.5h-11.9zM241.6 871.7h11.9v1.5h-11.9zM241.6 896.2h11.9v1.5h-11.9zM241.6 899.7h11.9v2.5h-11.9zM241.6 917.2h11.9v2h-11.9zM241.6 926.2h11.9v2h-11.9zM241.6 929.7h11.9v2h-11.9zM241.6 940.2h11.9v2.5h-11.9zM241.6 945.7h11.9v1.5h-11.9zM241.6 956.2h11.9v2h-11.9zM241.6 960.2h11.9v2h-11.9zM241.6 968.2h11.9v1.5h-11.9zM241.6 969.7h11.9v2h-11.9zM241.6 971.7h11.9v2h-11.9zM241.6 994.2h11.9v2h-11.9zM241.6 998.7h11.9v2h-11.9z"/>
<path fill="#fbd8d8" d="M241.6 734.7h11.9v3h-11.9zM241.6 742.7h11.9v2.5h-11.9zM241.6 755.7h11.9v1.5h-11.9zM241.6 757.2h11.9v2h-11.9zM241.6 785.2h11.9v2.5h-11.9zM241.6 792.7h11.9v2.5h-11.9zM241.6 799.2h11.9v3h-11.9zM241.6 818.2h11.9v2.5h-11.9zM241.6 820.7h11.9v2.5h-11.9zM241.6 824.7h11.9v2.5h-11.9zM241.6 835.7h11.9v2.5h-11.9zM241.6 869.2h11.9v2.5h-11.9zM241.6 905.2h11.9v3h-11.9zM241.6 919.2h11.9v3h-11.9zM241.6 928.2h11.9v1.5h-11.9zM241.6 933.2h11.9v1.5h-11.9zM241.6 954.2h11.9v2h-11.9zM241.6 962.2h11.9v3h-11.9zM241.6 965.2h11.9v3h-11.9zM241.6 973.7h11.9v3h-11.9zM241.6 980.2h11.9v2.5h-11.9zM241.6 988.7h11.9v2.5h-11.9zM241.6 991.2h11.9v1.5h-11.9z"/>
<path fill="#facdce" d="M254.5 709.7h11.9v2.5h-11.9zM254.5 712.2h11.9v2h-11.9zM254.5 717.7h11.9v3h-11.9zM254.5 733.2h11.9v1.5h-11.9zM254.5 748.2h11.9v2.5h-11.9zM254.5 759.2h11.9v2h-11.9zM254.5 789.7h11.9v2h-11.9zM254.5 791.7h11.9v1.5h-11.9zM254.5 796.2h11.9v2.5h-11.9zM254.5 805.7h11.9v3h-11.9zM254.5 824.2h11.9v3h-11.9zM254.5 830.2h11.9v3h-11.9zM254.5 833.2h11.9v2h-11.9zM254.5 840.2h11.9v2.5h-11.9zM254.5 851.2h11.9v3h-11.9zM254.5 854.2h11.9v2.5h-11.9zM254.5 888.2h11.9v1.5h-11.9zM254.5 889.7h11.9v2h-11.9zM254.5 905.2h11.9v2.5h-11.9zM254.5 912.2h11.9v2h-11.9zM254.5 916.2h11.9v2h-11.9zM254.5 918.2h11.9v3h-11.9zM254.5 950.7h11.9v2.5h-11.9zM254.5 955.7h11.9v2.5h-11.9zM254.5 961.2h11.9v3h-11.9zM254.5 979.2h11.9v1.5h-11.9zM254.5 991.2h11.9v2h-11.9z"/>
<path fill="#fac6c7" d="M254.5 714.2h11.9v2h-11.9zM254.5 720.7h11.9v3h-11.9zM254.5 741.2h11.9v3h-11.9zM254.5 785.2h11.9v2.5h-11.9zM254.5 819.7h11.9v1.5h-11.9zM254.5 821.2h11.9v1.5h-11.9zM254.5 835.2h11.9v2.5h-11.9zM254.5 842.7h11.9v2h-11.9zM254.5 859.7h11.9v2.5h-11.9zM254.5 863.7h11.9v2.5h-11.9zM254.5 872.7h11.9v3h-11.9zM254.5 875.7h11.9v3h-11.9zM254.5 878.7h11.9v2h-11.9zM254.5 900.7h11.9v1.5h-11.9zM254.5 921.2h11.9v1.5h-11.9zM254.5 930.2h11.9v2h-11.9zM254.5 932.2h11.9v3h-11.9zM254.5 935.2h11.9v1.5h-11.9zM254.5 945.7h11.9v2h-11.9zM254.5 953.2h11.9v2.5h-11.9zM254.5 958.2h11.9v1.5h-11.9zM254.5 965.7h11.9v2.5h-11.9zM254.5 980.7h11.9v2h-11.9zM254.5 986.7h11.9v3h-11.9zM254.5 998.2h11.9v2h-11.9zM254.5 1001.7h11.9v2.5h-11.9zM254.5 1006.7h11.9v1.5h-11.9z"/>
<path fill="#fac3c4" d="M254.5 716.2h11.9v1.5h-11.9zM254.5 738.2h11.9v3h-11.9zM254.5 744.2h11.9v2.5h-11.9zM254.5 761.2h11.9v2.5h-11.9zM254.5 763.7h11.9v2h-11.9zM254.5 767.2h11.9v2.5h-11.9zM254.5 775.7h11.9v3h-11.9zM254.5 780.2h11.9v3h-11.9zM254.5 798.7h11.9v3h-11.9zM254.5 810.7h11.9v2.5h-11.9zM254.5 815.7h11.9v1.5h-11.9zM254.5 817.2h11.9v2.5h-11.9zM254.5 827.2h11.9v3h-11.9zM254.5 856.7h11.9v3h-11.9zM254.5 866.2h11.9v1.5h-11.9zM254.5 883.7h11.9v3h-11.9zM254.5 886.7h11.9v1.5h-11.9zM254.5 902.2h11.9v3h-11.9zM254.5 910.2h11.9v2h-11.9zM254.5 938.7h11.9v2.5h-11.9zM254.5 959.7h11.9v1.5h-11.9zM254.5 964.2h11.9v1.5h-11.9zM254.5 971.2h11.9v3h-11.9zM254.5 982.7h11.9v2h-11.9zM254.5 993.2h11.9v3h-11.9zM254.5 996.2h11.9v2h-11.9zM254.5 1004.2h11.9v2.5h-11.9z"/>
<path fill="#fac8c9" d="M254.5 723.7h11.9v1.5h-11.9zM254.5 725.2h11.9v3h-11.9zM254.5 728.2h11.9v3h-11.9zM254.5 753.7h11.9v3h-11.9zM254.5 756.7h11.9v2.5h-11.9zM254.5 769.7h11.9v3h-11.9zM254.5 772.7h11.9v3h-11.9zM254.5 778.7h11.9v1.5h-11.9zM254.5 793.2h11.9v3h-11.9zM254.5 804.2h11.9v1.5h-11.9zM254.5 813.2h11.9v2.5h-11.9zM254.5 822.7h11.9v1.5h-11.9zM254.5 844.7h11.9v2.5h-11.9zM254.5 847.2h11.9v1.5h-11.9zM254.5 848.7h11.9v2.5h-11.9zM254.5 867.7h11.9v2h-11.9zM254.5 891.7h11.9v3h-11.9zM254.5 894.7h11.9v2h-11.9zM254.5 896.7h11.9v2h-11.9zM254.5 898.7h11.9v2h-11.9zM254.5 914.2h11.9v2h-11.9zM254.5 922.7h11.9v3h-11.9zM254.5 936.7h11.9v2h-11.9zM254.5 941.2h11.9v2h-11.9zM254.5 977.2h11.9v2h-11.9z"/>
<path fill="#facacb" d="M254.5 731.2h11.9v2h-11.9zM254.5 734.7h11.9v1.5h-11.9zM254.5 736.2h11.9v2h-11.9zM254.5 746.7h11.9v1.5h-11.9zM254.5 750.7h11.9v3h-11.9zM254.5 765.7h11.9v1.5h-11.9zM254.5 783.2h11.9v2h-11.9zM254.5 787.7h11.9v2h-11.9zM254.5 801.7h11.9v2.5h-11.9zM254.5 808.7h11.9v2h-11.9zM254.5 837.7h11.9v2.5h-11.9zM254.5 862.2h11.9v1.5h-11.9zM254.5 869.7h11.9v3h-11.9zM254.5 880.7h11.9v1.5h-11.9zM254.5 882.2h11.9v1.5h-11.9zM254.5 907.7h11.9v2.5h-11.9zM254.5 925.7h11.9v2h-11.9zM254.5 927.7h11.9v2.5h-11.9zM254.5 943.2h11.9v2.5h-11.9zM254.5 947.7h11.9v3h-11.9zM254.5 968.2h11.9v3h-11.9zM254.5 974.2h11.9v3h-11.9zM254.5 984.7h11.9v2h-11.9zM254.5 989.7h11.9v1.5h-11.9zM254.5 1000.2h11.9v1.5h-11.9z"/>
<path fill="#f8a4a6" d="M267.4 709.7h11.9v1.5h-11.9zM267.4 718.7h11.9v3h-11.9zM267.4 734.7h11.9v2h-11.9zM267.4 740.2h11.9v1.5h-11.9zM267.4 741.7h11.9v2h-11.9zM267.4 745.7h11.9v1.5h-11.9zM267.4 747.2h11.9v3h-11.9zM267.4 753.2h11.9v2h-11.9zM267.4 756.7h11.9v2.5h-11.9zM267.4 767.7h11.9v3h-11.9zM267.4 804.7h11.9v3h-11.9zM267.4 811.2h11.9v2h-11.9zM267.4 815.2h11.9v3h-11.9zM267.4 821.2h11.9v2.5h-11.9zM267.4 823.7h11.9v2h-11.9zM267.4 827.7h11.9v3h-11.9zM267.4 859.7h11.9v2h-11.9zM267.4 861.7h11.9v1.5h-11.9zM267.4 865.7h11.9v1.5h-11.9zM267.4 871.2h11.9v2.5h-11.9zM267.4 885.2h11.9v2h-11.9zM267.4 898.7h11.9v1.5h-11.9zM267.4 916.2h11.9v2.5h-11.9zM267.4 921.2h11.9v2h-11.9zM267.4 923.2h11.9v1.5h-11.9zM267.4 926.2h11.9v3h-11.9zM267.4 942.7h11.9v3h-11.9zM267.4 969.7h11.9v1.5h-11.9zM267.4 987.2h11.9v2.5h-11.9zM267.4 989.7h11.9v2.5h-11.9zM267.4 994.2h11.9v1.5h-11.9zM267.4 995.7h11.9v1.5h-11.9zM267.4 1007.7h11.9v0.5h-11.9z"/>
<path fill="#f7979a" d="M267.4 711.2h11.9v2h-11.9zM267.4 723.2h11.9v3h-11.9zM267.4 726.2h11.9v2.5h-11.9zM267.4 738.2h11.9v2h-11.9zM267.4 759.2h11.9v2.5h-11.9zM267.4 763.2h11.9v3h-11.9zM267.4 770.7h11.9v2.5h-11.9zM267.4 777.7h11.9v2.5h-11.9zM267.4 780.2h11.9v3h-11.9zM267.4 796.7h11.9v3h-11.9zM267.4 799.7h11.9v2h-11.9zM267.4 809.2h11.9v2h-11.9zM267.4 813.2h11.9v2h-11.9zM267.4 833.2h11.9v3h-11.9zM267.4 837.7h11.9v2.5h-11.9zM267.4 842.7h11.9v2h-11.9zM267.4 847.7h11.9v1.5h-11.9zM267.4 851.2h11.9v2h-11.9zM267.4 857.2h11.9v2.5h-11.9zM267.4 876.7h11.9v2.5h-11.9zM267.4 880.7h11.9v1.5h-11.9zM267.4 887.2h11.9v2.5h-11.9zM267.4 891.2h11.9v1.5h-11.9zM267.4 892.7h11.9v3h-11.9zM267.4 900.2h11.9v2h-11.9zM267.4 902.2h11.9v1.5h-11.9zM267.4 903.7h11.9v2.5h-11.9zM267.4 908.7h11.9v2.5h-11.9zM267.4 924.7h11.9v1.5h-11.9zM267.4 935.7h11.9v1.5h-11.9zM267.4 939.2h11.9v2h-11.9zM267.4 950.2h11.9v3h-11.9zM267.4 992.2h11.9v2h-11.9zM267.4 997.2h11.9v1.5h-11.9zM267.4 998.7h11.9v2h-11.9zM267.4 1003.2h11.9v2h-11.9z"/>
<path fill="#f8a0a2" d="M267.4 713.2h11.9v2.5h-11.9zM267.4 715.7h11.9v3h-11.9zM267.4 730.2h11.9v2.5h-11.9zM267.4 743.7h11.9v2h-11.9zM267.4 787.7h11.9v1.5h-11.9zM267.4 791.7h11.9v3h-11.9zM267.4 807.7h11.9v1.5h-11.9zM267.4 855.7h11.9v1.5h-11.9zM267.4 867.2h11.9v1.5h-11.9zM267.4 882.2h11.9v3h-11.9zM267.4 889.7h11.9v1.5h-11.9zM267.4 918.7h11.9v2.5h-11.9zM267.4 932.7h11.9v3h-11.9zM267.4 941.2h11.9v1.5h-11.9zM267.4 953.2h11.9v3h-11.9zM267.4 956.2h11.9v3h-11.9zM267.4 966.7h11.9v3h-11.9zM267.4 975.7h11.9v1.5h-11.9zM267.4 981.7h11.9v2.5h-11.9z"/>
<path fill="#f9a9aa" d="M267.4 721.7h11.9v1.5h-11.9zM267.4 732.7h11.9v2h-11.9zM267.4 755.2h11.9v1.5h-11.9zM267.4 761.7h11.9v1.5h-11.9zM267.4 766.2h11.9v1.5h-11.9zM267.4 773.2h11.9v2h-11.9zM267.4 775.2h11.9v2.5h-11.9zM267.4 785.2h11.9v2.5h-11.9zM267.4 801.7h11.9v3h-11.9zM267.4 818.2h11.9v1.5h-11.9zM267.4 819.7h11.9v1.5h-11.9zM267.4 830.7h11.9v2.5h-11.9zM267.4 836.2h11.9v1.5h-11.9zM267.4 840.2h11.9v2.5h-11.9zM267.4 844.7h11.9v3h-11.9zM267.4 849.2h11.9v2h-11.9zM267.4 853.2h11.9v2.5h-11.9zM267.4 875.2h11.9v1.5h-11.9zM267.4 906.2h11.9v2.5h-11.9zM267.4 911.2h11.9v2.5h-11.9zM267.4 913.7h11.9v2.5h-11.9zM267.4 929.2h11.9v1.5h-11.9zM267.4 947.2h11.9v3h-11.9zM267.4 959.2h11.9v3h-11.9zM267.4 965.2h11.9v1.5h-11.9zM267.4 974.2h11.9v1.5h-11.9zM267.4 977.2h11.9v3h-11.9zM267.4 980.2h11.9v1.5h-11.9z"/>
<path fill="#f89c9e" d="M267.4 728.7h11.9v1.5h-11.9zM267.4 736.7h11.9v1.5h-11.9zM267.4 750.2h11.9v3h-11.9zM267.4 783.2h11.9v2h-11.9zM267.4 789.2h11.9v2.5h-11.9zM267.4 794.7h11.9v2h-11.9zM267.4 825.7h11.9v2h-11.9zM267.4 863.2h11.9v2.5h-11.9zM267.4 868.7h11.9v2.5h-11.9zM267.4 873.7h11.9v1.5h-11.9zM267.4 879.2h11.9v1.5h-11.9zM267.4 895.7h11.9v3h-11.9zM267.4 930.7h11.9v2h-11.9zM267.4 937.2h11.9v2h-11.9zM267.4 945.7h11.9v1.5h-11.9zM267.4 962.2h11.9v3h-11.9zM267.4 971.2h11.9v3h-11.9zM267.4 984.2h11.9v3h-11.9zM267.4 1000.7h11.9v2.5h-11.9zM267.4 1005.2h11.9v2.5h-11.9z"/>
<path fill="#facfcf" d="M280.3 709.7h11.9v3h-11.9zM280.3 716.2h11.9v2h-11.9zM280.3 720.7h11.9v1.5h-11.9zM280.3 730.7h11.9v1.5h-11.9zM280.3 751.2h11.9v1.5h-11.9zM280.3 767.7h11.9v1.5h-11.9zM280.3 796.7h11.9v1.5h-11.9zM280.3 816.7h11.9v3h-11.9zM280.3 819.7h11.9v2.5h-11.9zM280.3 840.7h11.9v2h-11.9zM280.3 848.7h11.9v2.5h-11.9zM280.3 860.7h11.9v1.5h-11.9zM280.3 864.7h11.9v2.5h-11.9zM280.3 875.2h11.9v1.5h-11.9zM280.3 887.7h11.9v1.5h-11.9zM280.3 932.7h11.9v2h-11.9zM280.3 934.7h11.9v2.5h-11.9zM280.3 937.2h11.9v1.5h-11.9zM280.3 964.2h11.9v2h-11.9zM280.3 985.7h11.9v3h-11.9zM280.3 990.7h11.9v1.5h-11.9zM280.3 1004.7h11.9v1.5h-11.9z"/>
<path fill="#fad5d5" d="M280.3 712.7h11.9v1.5h-11.9zM280.3 724.7h11.9v3h-11.9zM280.3 739.7h11.9v3h-11.9zM280.3 742.7h11.9v1.5h-11.9zM280.3 748.7h11.9v2.5h-11.9zM280.3 758.2h11.9v2h-11.9zM280.3 777.2h11.9v3h-11.9zM280.3 780.2h11.9v3h-11.9zM280.3 785.2h11.9v1.5h-11.9zM280.3 793.2h11.9v2h-11.9zM280.3 806.2h11.9v2h-11.9zM280.3 808.2h11.9v3h-11.9zM280.3 822.2h11.9v3h-11.9zM280.3 825.2h11.9v3h-11.9zM280.3 832.2h11.9v2h-11.9zM280.3 842.7h11.9v3h-11.9zM280.3 851.2h11.9v2h-11.9zM280.3 862.2h11.9v2.5h-11.9zM280.3 869.7h11.9v2h-11.9zM280.3 871.7h11.9v2h-11.9zM280.3 879.7h11.9v2h-11.9zM280.3 894.2h11.9v1.5h-11.9zM280.3 904.2h11.9v2.5h-11.9zM280.3 909.7h11.9v2h-11.9zM280.3 928.2h11.9v3h-11.9zM280.3 940.2h11.9v1.5h-11.9zM280.3 941.7h11.9v1.5h-11.9zM280.3 956.2h11.9v3h-11.9zM280.3 968.2h11.9v2.5h-11.9zM280.3 970.7h11.9v3h-11.9zM280.3 973.7h11.9v2.5h-11.9zM280.3 976.2h11.9v2.5h-11.9zM280.3 978.7h11.9v2h-11.9zM280.3 980.7h11.9v3h-11.9zM280.3 992.2h11.9v3h-11.9zM280.3 999.2h11.9v2h-11.9zM280.3 1001.2h11.9v1.5h-11.9z"/>
<path fill="#fad3d3" d="M280.3 714.2h11.9v2h-11.9zM280.3 736.2h11.9v1.5h-11.9zM280.3 744.2h11.9v1.5h-11.9zM280.3 745.7h11.9v3h-11.9zM280.3 760.2h11.9v2h-11.9zM280.3 762.2h11.9v1.5h-11.9zM280.3 765.7h11.9v2h-11.9zM280.3 769.2h11.9v1.5h-11.9zM280.3 770.7h11.9v1.5h-11.9zM280.3 772.2h11.9v2h-11.9zM280.3 783.2h11.9v2h-11.9zM280.3 798.2h11.9v2.5h-11.9zM280.3 800.7h11.9v2.5h-11.9zM280.3 811.2h11.9v2h-11.9zM280.3 813.2h11.9v2h-11.9zM280.3 815.2h11.9v1.5h-11.9zM280.3 837.2h11.9v2h-11.9zM280.3 839.2h11.9v1.5h-11.9zM280.3 876.7h11.9v3h-11.9zM280.3 911.7h11.9v2.5h-11.9zM280.3 914.2h11.9v2.5h-11.9zM280.3 916.7h11.9v2h-11.9zM280.3 918.7h11.9v2.5h-11.9zM280.3 938.7h11.9v1.5h-11.9zM280.3 952.7h11.9v2h-11.9zM280.3 966.2h11.9v2h-11.9zM280.3 995.2h11.9v1.5h-11.9zM280.3 1007.7h11.9v0.5h-11.9z"/>
<path fill="#fad1d1" d="M280.3 718.2h11.9v2.5h-11.9zM280.3 727.7h11.9v3h-11.9zM280.3 732.2h11.9v2.5h-11.9zM280.3 763.7h11.9v2h-11.9zM280.3 774.2h11.9v3h-11.9zM280.3 786.7h11.9v2.5h-11.9zM280.3 789.2h11.9v2.5h-11.9zM280.3 791.7h11.9v1.5h-11.9zM280.3 795.2h11.9v1.5h-11.9zM280.3 834.2h11.9v3h-11.9zM280.3 845.7h11.9v3h-11.9zM280.3 857.7h11.9v3h-11.9zM280.3 873.7h11.9v1.5h-11.9zM280.3 884.7h11.9v3h-11.9zM280.3 889.2h11.9v2h-11.9zM280.3 891.2h11.9v3h-11.9zM280.3 898.2h11.9v3h-11.9zM280.3 921.2h11.9v2.5h-11.9zM280.3 923.7h11.9v3h-11.9zM280.3 943.2h11.9v2.5h-11.9zM280.3 945.7h11.9v3h-11.9zM280.3 948.7h11.9v1.5h-11.9zM280.3 954.7h11.9v1.5h-11.9zM280.3 962.2h11.9v2h-11.9zM280.3 983.7h11.9v2h-11.9zM280.3 988.7h11.9v2h-11.9zM280.3 996.7h11.9v2.5h-11.9z"/>
<path fill="#fad7d7" d="M280.3 722.2h11.9v2.5h-11.9zM280.3 734.7h11.9v1.5h-11.9zM280.3 737.7h11.9v2h-11.9zM280.3 752.7h11.9v2.5h-11.9zM280.3 755.2h11.9v3h-11.9zM280.3 803.2h11.9v3h-11.9zM280.3 828.2h11.9v2.5h-11.9zM280.3 830.7h11.9v1.5h-11.9zM280.3 853.2h11.9v2h-11.9zM280.3 855.2h11.9v2.5h-11.9zM280.3 867.2h11.9v2.5h-11.9zM280.3 881.7h11.9v3h-11.9zM280.3 895.7h11.9v2.5h-11.9zM280.3 901.2h11.9v3h-11.9zM280.3 906.7h11.9v3h-11.9zM280.3 926.7h11.9v1.5h-11.9zM280.3 931.2h11.9v1.5h-11.9zM280.3 950.2h11.9v2.5h-11.9zM280.3 959.2h11.9v3h-11.9zM280.3 1002.7h11.9v2h-11.9zM280.3 1006.2h11.9v1.5h-11.9z"/>
<path fill="#f2f2fb" d="M293.2 709.7h11.9v1.5h-11.9zM293.2 717.2h11.9v2h-11.9zM293.2 723.7h11.9v2h-11.9zM293.2 736.2h11.9v2h-11.9zM293.2 738.2h11.9v1.5h-11.9zM293.2 739.7h11.9v2h-11.9zM293.2 745.7h11.9v3h-11.9zM293.2 781.2h11.9v2.5h-11.9zM293.2 783.7h11.9v2h-11.9zM293.2 792.2h11.9v2.5h-11.9zM293.2 794.7h11.9v2h-11.9zM293.2 799.7h11.9v1.5h-11.9zM293.2 811.7h11.9v3h-11.9zM293.2 840.2h11.9v1.5h-11.9zM293.2 841.7h11.9v3h-11.9zM293.2 844.7h11.9v2h-11.9zM293.2 853.7h11.9v2.5h-11.9zM293.2 856.2h11.9v1.5h-11.9zM293.2 863.2h11.9v3h-11.9zM293.2 866.2h11.9v2h-11.9zM293.2 879.2h11.9v1.5h-11.9zM293.2 901.7h11.9v2h-11.9zM293.2 918.2h11.9v2h-11.9zM293.2 930.2h11.9v1.5h-11.9zM293.2 939.2h11.9v2.5h-11.9zM293.2 941.7h11.9v3h-11.9zM293.2 949.7h11.9v1.5h-11.9zM293.2 974.2h11.9v3h-11.9zM293.2 1006.7h11.9v1.5h-11.9z"/>
<path fill="#f3f3fb" d="M293.2 711.2h11.9v3h-11.9zM293.2 714.2h11.9v3h-11.9zM293.2 719.2h11.9v3h-11.9zM293.2 730.7h11.9v3h-11.9zM293.2 751.7h11.9v1.5h-11.9zM293.2 756.2h11.9v2h-11.9zM293.2 758.2h11.9v2.5h-11.9zM293.2 766.2h11.9v1.5h-11.9zM293.2 767.7h11.9v3h-11.9zM293.2 773.7h11.9v2h-11.9zM293.2 779.7h11.9v1.5h-11.9zM293.2 788.2h11.9v2.5h-11.9zM293.2 790.7h11.9v1.5h-11.9zM293.2 796.7h11.9v3h-11.9zM293.2 801.2h11.9v2h-11.9zM293.2 804.7h11.9v3h-11.9zM293.2 807.7h11.9v2h-11.9zM293.2 809.7h11.9v2h-11.9zM293.2 817.2h11.9v3h-11.9zM293.2 823.2h11.9v2.5h-11.9zM293.2 834.2h11.9v1.5h-11.9zM293.2 835.7h11.9v2.5h-11.9zM293.2 838.2h11.9v2h-11.9zM293.2 846.7h11.9v2h-11.9zM293.2 851.7h11.9v2h-11.9zM293.2 860.7h11.9v2.5h-11.9zM293.2 873.2h11.9v3h-11.9zM293.2 876.2h11.9v1.5h-11.9zM293.2 888.7h11.9v2h-11.9zM293.2 893.2h11.9v3h-11.9zM293.2 896.2h11.9v2h-11.9zM293.2 900.2h11.9v1.5h-11.9zM293.2 905.7h11.9v2h-11.9zM293.2 909.2h11.9v2h-11.9zM293.2 912.7h11.9v2h-11.9zM293.2 914.7h11.9v2h-11.9zM293.2 920.2h11.9v3h-11.9zM293.2 923.2h11.9v1.5h-11.9zM293.2 927.2h11.9v3h-11.9zM293.2 931.7h11.9v2h-11.9zM293.2 936.7h11.9v2.5h-11.9zM293.2 947.2h11.9v2.5h-11.9zM293.2 953.2h11.9v2h-11.9zM293.2 957.7h11.9v2h-11.9zM293.2 963.7h11.9v2h-11.9zM293.2 967.2h11.9v3h-11.9zM293.2 972.2h11.9v2h-11.9zM293.2 977.2h11.9v2h-11.9zM293.2 980.7h11.9v3h-11.9zM293.2 983.7h11.9v2h-11.9zM293.2 990.7h11.9v1.5h-11.9zM293.2 992.2h11.9v2.5h-11.9zM293.2 994.7h11.9v2.5h-11.9zM293.2 997.2h11.9v2h-11.9zM293.2 999.2h11.9v1.5h-11.9zM293.2 1000.7h11.9v3h-11.9z"/>
<path fill="#f1f1fb" d="M293.2 722.2h11.9v1.5h-11.9zM293.2 725.7h11.9v3h-11.9zM293.2 728.7h11.9v2h-11.9zM293.2 733.7h11.9v2.5h-11.9zM293.2 741.7h11.9v1.5h-11.9zM293.2 743.2h11.9v2.5h-11.9zM293.2 748.7h11.9v1.5h-11.9zM293.2 750.2h11.9v1.5h-11.9zM293.2 753.2h11.9v3h-11.9zM293.2 760.7h11.9v2.5h-11.9zM293.2 763.2h11.9v1.5h-11.9zM293.2 764.7h11.9v1.5h-11.9zM293.2 770.7h11.9v3h-11.9zM293.2 775.7h11.9v1.5h-11.9zM293.2 777.2h11.9v2.5h-11.9zM293.2 785.7h11.9v2.5h-11.9zM293.2 803.2h11.9v1.5h-11.9zM293.2 814.7h11.9v2.5h-11.9zM293.2 820.2h11.9v1.5h-11.9zM293.2 821.7h11.9v1.5h-11.9zM293.2 825.7h11.9v2.5h-11.9zM293.2 828.2h11.9v3h-11.9zM293.2 831.2h11.9v1.5h-11.9zM293.2 832.7h11.9v1.5h-11.9zM293.2 848.7h11.9v1.5h-11.9zM293.2 850.2h11.9v1.5h-11.9zM293.2 857.7h11.9v3h-11.9zM293.2 868.2h11.9v3h-11.9zM293.2 871.2h11.9v2h-11.9zM293.2 877.7h11.9v1.5h-11.9zM293.2 880.7h11.9v3h-11.9zM293.2 883.7h11.9v3h-11.9zM293.2 886.7h11.9v2h-11.9zM293.2 890.7h11.9v2.5h-11.9zM293.2 898.2h11.9v2h-11.9zM293.2 903.7h11.9v2h-11.9zM293.2 907.7h11.9v1.5h-11.9zM293.2 911.2h11.9v1.5h-11.9zM293.2 916.7h11.9v1.5h-11.9zM293.2 924.7h11.9v2.5h-11.9zM293.2 933.7h11.9v3h-11.9zM293.2 944.7h11.9v2.5h-11.9zM293.2 951.2h11.9v2h-11.9zM293.2 955.2h11.9v2.5h-11.9zM293.2 959.7h11.9v2.5h-11.9zM293.2 962.2h11.9v1.5h-11.9zM293.2 965.7h11.9v1.5h-11.9zM293.2 970.2h11.9v2h-11.9zM293.2 979.2h11.9v1.5h-11.9zM293.2 985.7h11.9v2h-11.9zM293.2 987.7h11.9v3h-11.9zM293.2 1003.7h11.9v1.5h-11.9zM293.2 1005.2h11.9v1.5h-11.9z"/>
<path fill="#e2e2f8" d="M293.2 726h11.9v16h-11.9z"/>
<path fill="#e8e8fa" d="M293.2 764h11.9v10h-11.9zM293.2 884h11.9v10h-11.9z"/>
<path fill="#e6e6f9" d="M293.2 906h11.9v19h-11.9zM293.2 954h11.9v10h-11.9z"/>
<path fill="#ececfb" d="M293.2 745h11.9v15h-11.9z"/>
</g>
<rect x="228.3" y="1017" width="15.55" height="6.4" fill="#0000e1"/>
<rect x="243.8" y="1017" width="15.15" height="6.4" fill="#8080f0"/>
<rect x="258.9" y="1017" width="15.55" height="6.4" fill="#ffffff"/>
<rect x="274.4" y="1017" width="16.05" height="6.4" fill="#f88080"/>
<rect x="290.4" y="1017" width="15.25" height="6.4" fill="#ec0000"/>
<g font-size="7" text-anchor="middle" fill="#222">
<text transform="translate(236.1,1030.2) scale(1.2,1)">0.5</text>
<text transform="translate(251.3,1030.2) scale(1.2,1)">1.0</text>
<text transform="translate(266.6,1030.2) scale(1.2,1)">2.0</text>
<text transform="translate(282.4,1030.2) scale(1.2,1)">4.0</text>
<text transform="translate(298.0,1030.2) scale(1.2,1)">8.0</text>
</g>
</svg>
</body></html>
